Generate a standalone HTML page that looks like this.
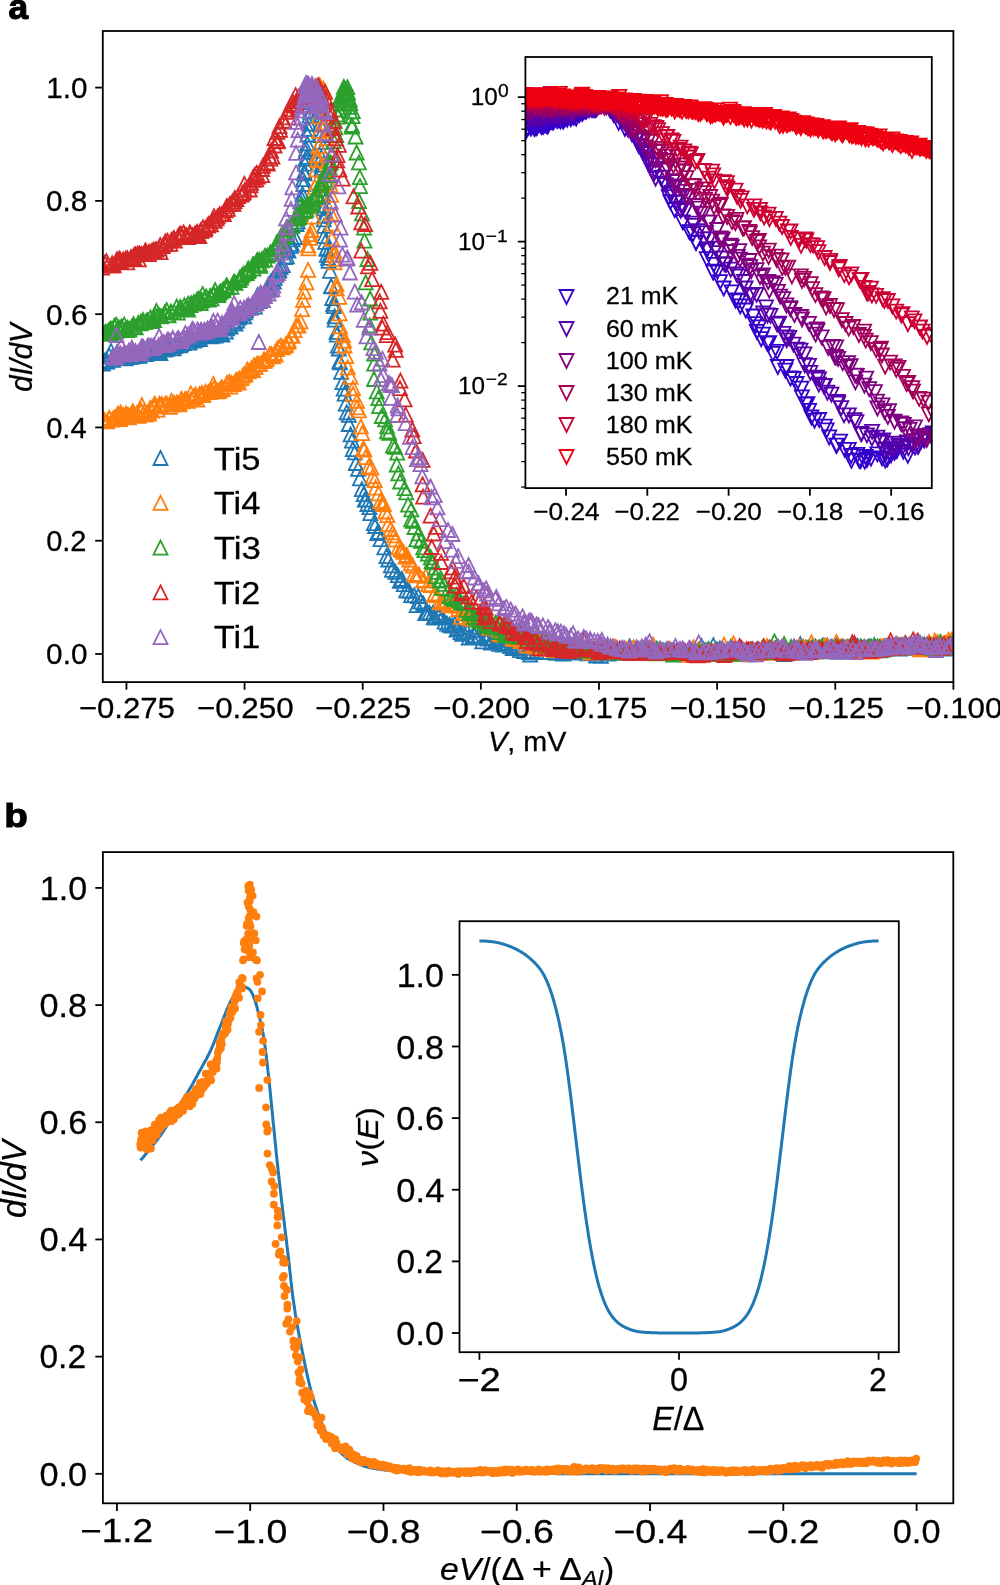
<!DOCTYPE html>
<html><head><meta charset="utf-8"><title>Figure</title><style>html,body{margin:0;padding:0;background:#fff;}svg{display:block;will-change:transform;}text{fill:#000;stroke:#000;stroke-width:0.25px;}</style></head><body>
<svg width="1000" height="1585" viewBox="0 0 1000 1585" font-family='"Liberation Sans", sans-serif'><defs><clipPath id="ca"><rect x="102.8" y="31" width="850.6" height="651.1"/></clipPath><clipPath id="cia"><rect x="525.4" y="57" width="406.4" height="431.1"/></clipPath><clipPath id="cb"><rect x="102.9" y="852.1" width="850.4" height="651.2"/></clipPath></defs><rect x="0" y="0" width="1000" height="1585" fill="#fff"/>
<g clip-path="url(#ca)" fill="none" stroke-width="1.8" stroke-linejoin="miter">
<path stroke="#1f77b4" d="M101.8 355.0l7 14h-14zM102.9 356.5l7 14h-14zM104.5 353.9l7 14h-14zM106.1 353.1l7 14h-14zM107.4 354.5l7 14h-14zM109.2 348.4l7 14h-14zM111.0 343.9l7 14h-14zM112.4 350.1l7 14h-14zM112.9 352.8l7 14h-14zM114.2 350.8l7 14h-14zM115.3 349.8l7 14h-14zM117.5 346.6l7 14h-14zM119.2 348.5l7 14h-14zM120.5 350.7l7 14h-14zM122.1 349.4l7 14h-14zM122.5 349.6l7 14h-14zM124.5 348.6l7 14h-14zM125.6 351.3l7 14h-14zM126.7 349.4l7 14h-14zM128.5 350.2l7 14h-14zM129.7 350.0l7 14h-14zM131.3 347.7l7 14h-14zM132.1 349.7l7 14h-14zM134.0 349.2l7 14h-14zM135.4 349.0l7 14h-14zM137.3 347.5l7 14h-14zM138.7 347.3l7 14h-14zM139.6 348.9l7 14h-14zM141.8 343.6l7 14h-14zM143.0 345.2l7 14h-14zM144.4 347.2l7 14h-14zM145.8 345.3l7 14h-14zM146.7 346.9l7 14h-14zM148.1 346.0l7 14h-14zM149.2 341.0l7 14h-14zM150.5 339.7l7 14h-14zM152.8 343.1l7 14h-14zM154.5 342.3l7 14h-14zM155.2 343.7l7 14h-14zM156.7 342.3l7 14h-14zM158.9 342.3l7 14h-14zM159.2 344.3l7 14h-14zM160.4 346.2l7 14h-14zM162.4 337.8l7 14h-14zM163.2 341.9l7 14h-14zM164.7 342.7l7 14h-14zM166.8 341.8l7 14h-14zM168.1 340.8l7 14h-14zM169.7 338.4l7 14h-14zM171.1 338.8l7 14h-14zM172.4 341.1l7 14h-14zM173.7 341.3l7 14h-14zM175.0 339.2l7 14h-14zM176.5 337.1l7 14h-14zM178.2 338.3l7 14h-14zM179.4 337.3l7 14h-14zM179.8 338.4l7 14h-14zM180.9 337.3l7 14h-14zM182.4 332.0l7 14h-14zM183.8 336.1l7 14h-14zM185.6 333.1l7 14h-14zM188.0 335.6l7 14h-14zM189.5 335.6l7 14h-14zM190.5 331.2l7 14h-14zM191.7 333.5l7 14h-14zM192.8 330.4l7 14h-14zM193.7 333.5l7 14h-14zM195.7 332.7l7 14h-14zM198.0 330.3l7 14h-14zM200.1 332.0l7 14h-14zM201.6 329.2l7 14h-14zM202.6 328.4l7 14h-14zM204.2 328.4l7 14h-14zM205.4 328.8l7 14h-14zM207.1 328.2l7 14h-14zM208.2 328.6l7 14h-14zM209.5 327.0l7 14h-14zM210.0 329.1l7 14h-14zM211.4 329.3l7 14h-14zM212.4 326.5l7 14h-14zM213.6 324.6l7 14h-14zM214.5 328.1l7 14h-14zM215.6 328.5l7 14h-14zM217.4 326.0l7 14h-14zM219.3 323.7l7 14h-14zM221.2 325.9l7 14h-14zM222.4 327.7l7 14h-14zM224.1 321.5l7 14h-14zM225.9 324.5l7 14h-14zM227.1 321.4l7 14h-14zM229.1 319.0l7 14h-14zM230.6 319.6l7 14h-14zM232.7 314.7l7 14h-14zM233.8 316.7l7 14h-14zM235.6 316.7l7 14h-14zM237.2 313.7l7 14h-14zM238.7 310.7l7 14h-14zM240.1 307.5l7 14h-14zM241.6 306.7l7 14h-14zM242.5 305.0l7 14h-14zM244.2 309.3l7 14h-14zM245.2 305.4l7 14h-14zM246.0 303.0l7 14h-14zM248.2 300.8l7 14h-14zM249.2 300.0l7 14h-14zM251.2 299.8l7 14h-14zM253.0 296.4l7 14h-14zM254.9 299.6l7 14h-14zM256.1 293.6l7 14h-14zM256.5 292.9l7 14h-14zM257.7 287.8l7 14h-14zM259.5 294.0l7 14h-14zM259.9 293.0l7 14h-14zM261.3 288.4l7 14h-14zM263.2 287.5l7 14h-14zM264.9 284.7l7 14h-14zM267.4 282.6l7 14h-14zM268.7 280.9l7 14h-14zM269.0 277.5l7 14h-14zM270.8 274.7l7 14h-14zM271.1 275.9l7 14h-14zM272.7 272.2l7 14h-14zM273.9 274.5l7 14h-14zM274.7 270.9l7 14h-14zM276.3 266.2l7 14h-14zM279.2 263.7l7 14h-14zM279.0 262.0l7 14h-14zM280.6 259.9l7 14h-14zM282.8 258.2l7 14h-14zM284.9 250.2l7 14h-14zM286.0 241.6l7 14h-14zM286.9 249.4l7 14h-14zM288.5 243.5l7 14h-14zM291.0 238.9l7 14h-14zM291.8 236.9l7 14h-14zM292.6 232.3l7 14h-14zM295.2 230.0l7 14h-14zM296.5 217.0l7 14h-14zM297.8 214.6l7 14h-14zM298.6 204.5l7 14h-14zM300.3 194.4l7 14h-14zM301.7 191.6l7 14h-14zM302.4 187.0l7 14h-14zM303.4 177.0l7 14h-14zM303.1 172.1l7 14h-14zM304.4 166.3l7 14h-14zM304.3 164.5l7 14h-14zM305.0 156.6l7 14h-14zM305.4 151.9l7 14h-14zM305.5 144.9l7 14h-14zM306.7 149.9l7 14h-14zM306.3 141.7l7 14h-14zM307.3 136.3l7 14h-14zM307.4 127.5l7 14h-14zM308.4 121.8l7 14h-14zM308.9 116.7l7 14h-14zM309.5 108.6l7 14h-14zM310.2 104.6l7 14h-14zM311.5 95.0l7 14h-14zM312.6 90.1l7 14h-14zM314.4 83.3l7 14h-14zM315.0 82.6l7 14h-14zM317.1 89.3l7 14h-14zM319.4 102.3l7 14h-14zM320.2 109.4l7 14h-14zM320.1 117.0l7 14h-14zM320.7 128.0l7 14h-14zM320.9 134.8l7 14h-14zM321.3 150.3l7 14h-14zM321.5 143.6l7 14h-14zM321.4 157.8l7 14h-14zM321.7 160.8l7 14h-14zM322.0 163.1l7 14h-14zM322.9 177.0l7 14h-14zM322.8 181.9l7 14h-14zM323.4 187.3l7 14h-14zM322.7 189.8l7 14h-14zM323.5 198.5l7 14h-14zM323.8 201.3l7 14h-14zM324.0 208.9l7 14h-14zM323.8 212.3l7 14h-14zM324.0 218.9l7 14h-14zM324.2 229.1l7 14h-14zM325.2 234.9l7 14h-14zM326.5 241.9l7 14h-14zM326.5 241.2l7 14h-14zM326.8 247.8l7 14h-14zM328.1 250.9l7 14h-14zM328.6 253.9l7 14h-14zM330.0 263.9l7 14h-14zM331.1 278.9l7 14h-14zM331.3 279.3l7 14h-14zM332.2 291.0l7 14h-14zM333.2 296.8l7 14h-14zM333.8 299.1l7 14h-14zM334.6 309.3l7 14h-14zM334.7 312.7l7 14h-14zM336.5 324.9l7 14h-14zM336.9 327.7l7 14h-14zM337.8 338.7l7 14h-14zM338.9 341.5l7 14h-14zM339.5 354.2l7 14h-14zM340.1 355.4l7 14h-14zM341.1 364.9l7 14h-14zM342.4 375.2l7 14h-14zM343.7 381.7l7 14h-14zM344.6 386.6l7 14h-14zM345.7 396.7l7 14h-14zM346.7 405.3l7 14h-14zM348.8 407.8l7 14h-14zM348.8 417.0l7 14h-14zM350.6 427.4l7 14h-14zM351.9 433.7l7 14h-14zM352.7 442.2l7 14h-14zM354.8 445.4l7 14h-14zM355.8 456.0l7 14h-14zM358.1 461.9l7 14h-14zM359.9 471.3l7 14h-14zM361.8 482.2l7 14h-14zM363.7 487.1l7 14h-14zM364.8 492.7l7 14h-14zM366.0 492.3l7 14h-14zM367.4 497.0l7 14h-14zM369.4 500.2l7 14h-14zM370.3 506.1l7 14h-14zM373.8 516.1l7 14h-14zM375.0 519.0l7 14h-14zM377.3 526.0l7 14h-14zM378.7 525.0l7 14h-14zM380.5 532.2l7 14h-14zM384.3 540.4l7 14h-14zM386.5 549.1l7 14h-14zM388.3 552.5l7 14h-14zM390.9 558.4l7 14h-14zM392.0 562.9l7 14h-14zM395.4 564.8l7 14h-14zM397.8 568.2l7 14h-14zM399.8 573.8l7 14h-14zM401.9 572.0l7 14h-14zM403.7 577.2l7 14h-14zM406.2 583.3l7 14h-14zM409.1 583.9l7 14h-14zM411.1 588.1l7 14h-14zM414.1 588.3l7 14h-14zM416.6 598.1l7 14h-14zM418.3 589.0l7 14h-14zM420.6 594.5l7 14h-14zM423.3 596.5l7 14h-14zM425.2 606.0l7 14h-14zM427.2 605.3l7 14h-14zM429.5 605.9l7 14h-14zM433.1 605.5l7 14h-14zM433.8 610.2l7 14h-14zM435.5 610.6l7 14h-14zM438.5 609.5l7 14h-14zM439.4 608.0l7 14h-14zM441.9 610.3l7 14h-14zM444.6 614.6l7 14h-14zM447.1 616.7l7 14h-14zM449.5 617.8l7 14h-14zM452.0 618.6l7 14h-14zM454.8 616.9l7 14h-14zM456.5 622.5l7 14h-14zM457.5 620.7l7 14h-14zM460.5 625.2l7 14h-14zM462.2 626.9l7 14h-14zM463.4 624.7l7 14h-14zM467.3 624.9l7 14h-14zM468.7 630.6l7 14h-14zM472.2 630.0l7 14h-14zM474.5 628.4l7 14h-14zM476.7 622.8l7 14h-14zM477.4 630.5l7 14h-14zM478.5 629.2l7 14h-14zM482.3 634.4l7 14h-14zM484.5 630.4l7 14h-14zM485.7 630.7l7 14h-14zM487.4 631.6l7 14h-14zM491.1 635.7l7 14h-14zM492.1 631.1l7 14h-14zM495.3 634.5l7 14h-14zM496.4 632.9l7 14h-14zM499.1 636.8l7 14h-14zM501.5 632.6l7 14h-14zM502.9 637.6l7 14h-14zM506.3 635.9l7 14h-14zM507.8 630.6l7 14h-14zM510.3 639.1l7 14h-14zM512.7 641.0l7 14h-14zM514.2 634.1l7 14h-14zM515.4 641.0l7 14h-14zM516.9 640.3l7 14h-14zM519.1 638.6l7 14h-14zM519.8 643.2l7 14h-14zM520.7 640.5l7 14h-14zM524.1 644.0l7 14h-14zM525.9 639.9l7 14h-14zM527.8 639.9l7 14h-14zM529.0 645.1l7 14h-14zM530.2 647.5l7 14h-14zM532.9 644.0l7 14h-14zM536.4 644.4l7 14h-14zM538.6 641.5l7 14h-14zM539.3 639.8l7 14h-14zM542.7 641.7l7 14h-14zM544.2 645.0l7 14h-14zM545.5 638.8l7 14h-14zM547.8 635.6l7 14h-14zM551.2 640.0l7 14h-14zM554.1 644.2l7 14h-14zM556.2 645.9l7 14h-14zM558.2 642.7l7 14h-14zM560.9 644.0l7 14h-14zM563.3 646.6l7 14h-14zM565.5 644.2l7 14h-14zM568.5 642.4l7 14h-14zM569.4 642.2l7 14h-14zM570.6 641.2l7 14h-14zM571.8 645.0l7 14h-14zM573.9 643.0l7 14h-14zM575.4 645.6l7 14h-14zM577.1 645.4l7 14h-14zM578.4 643.7l7 14h-14zM580.4 644.0l7 14h-14zM582.9 645.7l7 14h-14zM583.7 645.0l7 14h-14zM585.8 645.3l7 14h-14zM586.2 643.1l7 14h-14zM587.4 646.3l7 14h-14zM589.6 644.3l7 14h-14zM591.1 642.8l7 14h-14zM593.2 645.0l7 14h-14zM595.2 646.4l7 14h-14zM596.2 648.5l7 14h-14zM597.9 645.7l7 14h-14zM598.3 644.6l7 14h-14zM600.9 648.8l7 14h-14zM602.0 646.3l7 14h-14zM603.7 645.4l7 14h-14zM604.6 644.3l7 14h-14zM606.2 644.1l7 14h-14zM608.6 646.7l7 14h-14zM609.0 644.3l7 14h-14zM612.1 643.6l7 14h-14zM613.9 643.3l7 14h-14zM614.7 645.7l7 14h-14zM616.6 643.1l7 14h-14zM619.1 644.6l7 14h-14zM620.2 644.1l7 14h-14zM621.3 644.1l7 14h-14zM623.2 642.8l7 14h-14zM625.0 644.6l7 14h-14zM626.3 645.7l7 14h-14zM627.6 643.7l7 14h-14zM629.5 639.5l7 14h-14zM631.5 642.7l7 14h-14zM632.6 644.5l7 14h-14zM634.6 644.2l7 14h-14zM635.9 644.6l7 14h-14zM637.6 645.0l7 14h-14zM639.1 643.4l7 14h-14zM640.3 646.2l7 14h-14zM642.1 645.7l7 14h-14zM644.3 645.0l7 14h-14zM646.6 645.2l7 14h-14zM648.3 645.8l7 14h-14zM649.7 641.1l7 14h-14zM651.4 643.4l7 14h-14zM652.1 645.7l7 14h-14zM653.9 643.5l7 14h-14zM655.0 643.0l7 14h-14zM656.4 642.0l7 14h-14zM658.2 643.9l7 14h-14zM660.0 642.7l7 14h-14zM660.5 643.4l7 14h-14zM661.4 644.6l7 14h-14zM663.2 644.1l7 14h-14zM664.9 645.4l7 14h-14zM667.1 644.6l7 14h-14zM667.6 643.8l7 14h-14zM669.8 643.9l7 14h-14zM672.3 643.8l7 14h-14zM672.6 645.3l7 14h-14zM674.6 644.6l7 14h-14zM676.6 644.3l7 14h-14zM677.8 645.8l7 14h-14zM680.0 645.1l7 14h-14zM682.6 644.5l7 14h-14zM684.0 643.4l7 14h-14zM685.7 645.8l7 14h-14zM687.7 645.6l7 14h-14zM689.1 645.4l7 14h-14zM690.7 644.9l7 14h-14zM693.0 644.5l7 14h-14zM695.2 645.3l7 14h-14zM696.5 645.9l7 14h-14zM698.2 645.5l7 14h-14zM700.4 645.3l7 14h-14zM701.5 638.9l7 14h-14zM702.5 645.5l7 14h-14zM704.9 645.0l7 14h-14zM706.9 643.5l7 14h-14zM708.6 645.1l7 14h-14zM710.5 644.9l7 14h-14zM711.0 644.7l7 14h-14zM713.3 638.2l7 14h-14zM714.9 643.5l7 14h-14zM716.9 642.5l7 14h-14zM718.5 644.9l7 14h-14zM719.9 641.5l7 14h-14zM721.3 643.6l7 14h-14zM723.1 643.7l7 14h-14zM725.5 645.3l7 14h-14zM728.0 644.4l7 14h-14zM730.0 643.3l7 14h-14zM731.4 642.8l7 14h-14zM732.2 643.7l7 14h-14zM734.3 644.8l7 14h-14zM736.1 644.9l7 14h-14zM737.5 644.6l7 14h-14zM738.3 644.1l7 14h-14zM741.0 644.8l7 14h-14zM742.9 646.3l7 14h-14zM744.6 643.9l7 14h-14zM746.7 645.3l7 14h-14zM749.4 647.3l7 14h-14zM752.2 646.1l7 14h-14zM752.5 644.9l7 14h-14zM754.9 646.0l7 14h-14zM756.1 643.9l7 14h-14zM757.7 644.4l7 14h-14zM759.5 645.8l7 14h-14zM761.0 645.5l7 14h-14zM763.1 640.6l7 14h-14zM764.5 643.1l7 14h-14zM765.7 644.1l7 14h-14zM767.8 640.5l7 14h-14zM770.5 642.0l7 14h-14zM771.3 643.8l7 14h-14zM772.7 641.7l7 14h-14zM774.3 643.1l7 14h-14zM774.9 642.8l7 14h-14zM776.9 641.0l7 14h-14zM777.8 644.0l7 14h-14zM779.6 643.8l7 14h-14zM782.0 645.7l7 14h-14zM784.0 647.0l7 14h-14zM784.6 645.3l7 14h-14zM786.6 643.9l7 14h-14zM787.7 644.8l7 14h-14zM789.1 644.4l7 14h-14zM790.2 645.3l7 14h-14zM792.1 642.2l7 14h-14zM793.6 642.5l7 14h-14zM794.9 641.4l7 14h-14zM797.1 644.3l7 14h-14zM798.5 643.2l7 14h-14zM800.3 637.1l7 14h-14zM801.6 641.7l7 14h-14zM803.7 641.5l7 14h-14zM805.6 640.8l7 14h-14zM806.5 641.2l7 14h-14zM808.2 640.7l7 14h-14zM810.7 642.6l7 14h-14zM812.7 641.2l7 14h-14zM815.3 639.7l7 14h-14zM815.5 639.9l7 14h-14zM817.8 641.9l7 14h-14zM818.4 640.9l7 14h-14zM819.6 640.7l7 14h-14zM821.0 641.1l7 14h-14zM822.1 642.1l7 14h-14zM823.1 638.6l7 14h-14zM825.5 639.3l7 14h-14zM827.3 638.4l7 14h-14zM829.8 641.3l7 14h-14zM830.2 640.4l7 14h-14zM831.1 640.2l7 14h-14zM832.1 640.2l7 14h-14zM833.1 642.1l7 14h-14zM833.9 641.2l7 14h-14zM835.9 637.8l7 14h-14zM838.2 643.4l7 14h-14zM839.7 640.5l7 14h-14zM841.1 640.1l7 14h-14zM843.3 644.5l7 14h-14zM844.8 640.8l7 14h-14zM846.4 640.4l7 14h-14zM847.7 640.0l7 14h-14zM849.1 640.6l7 14h-14zM851.2 641.6l7 14h-14zM853.1 641.4l7 14h-14zM854.8 641.2l7 14h-14zM856.4 640.2l7 14h-14zM857.5 638.8l7 14h-14zM858.9 641.0l7 14h-14zM861.9 642.5l7 14h-14zM862.5 642.0l7 14h-14zM863.8 640.5l7 14h-14zM865.9 641.7l7 14h-14zM867.5 640.3l7 14h-14zM869.1 640.8l7 14h-14zM870.9 639.4l7 14h-14zM873.2 640.6l7 14h-14zM875.1 641.2l7 14h-14zM875.9 640.9l7 14h-14zM877.6 642.1l7 14h-14zM879.6 643.4l7 14h-14zM880.9 642.7l7 14h-14zM882.3 640.5l7 14h-14zM883.4 639.8l7 14h-14zM884.7 639.8l7 14h-14zM886.2 639.2l7 14h-14zM887.1 640.3l7 14h-14zM889.5 640.4l7 14h-14zM891.7 639.8l7 14h-14zM893.7 639.6l7 14h-14zM895.8 639.5l7 14h-14zM897.9 639.2l7 14h-14zM899.0 638.5l7 14h-14zM899.9 641.5l7 14h-14zM902.5 640.7l7 14h-14zM904.0 638.4l7 14h-14zM904.6 638.4l7 14h-14zM907.1 638.8l7 14h-14zM908.9 639.6l7 14h-14zM910.7 641.0l7 14h-14zM912.6 640.7l7 14h-14zM914.3 640.8l7 14h-14zM917.2 640.8l7 14h-14zM917.8 640.8l7 14h-14zM919.8 640.4l7 14h-14zM921.0 640.0l7 14h-14zM922.1 639.3l7 14h-14zM924.2 637.4l7 14h-14zM924.5 639.3l7 14h-14zM926.3 641.7l7 14h-14zM927.6 638.9l7 14h-14zM929.4 638.8l7 14h-14zM931.0 640.8l7 14h-14zM933.4 639.6l7 14h-14zM934.7 639.0l7 14h-14zM936.7 641.5l7 14h-14zM938.9 640.4l7 14h-14zM939.8 640.6l7 14h-14zM940.6 639.1l7 14h-14zM942.8 640.5l7 14h-14zM945.4 640.4l7 14h-14zM946.0 641.0l7 14h-14zM948.5 641.5l7 14h-14zM949.3 641.5l7 14h-14zM949.9 640.4l7 14h-14zM951.1 641.0l7 14h-14zM952.3 638.7l7 14h-14z"/>
<path stroke="#ff7f0e" d="M102.4 413.3l7 14h-14zM103.7 413.0l7 14h-14zM104.8 413.5l7 14h-14zM107.1 414.4l7 14h-14zM109.1 410.9l7 14h-14zM109.5 411.1l7 14h-14zM112.2 412.7l7 14h-14zM113.9 410.8l7 14h-14zM114.5 411.3l7 14h-14zM116.5 408.7l7 14h-14zM116.7 410.6l7 14h-14zM118.0 406.7l7 14h-14zM120.1 412.2l7 14h-14zM120.6 405.6l7 14h-14zM121.4 408.0l7 14h-14zM123.4 408.2l7 14h-14zM125.4 409.7l7 14h-14zM126.1 406.6l7 14h-14zM128.0 408.0l7 14h-14zM129.0 410.3l7 14h-14zM131.3 406.8l7 14h-14zM132.4 407.4l7 14h-14zM132.9 404.2l7 14h-14zM133.4 408.7l7 14h-14zM134.6 407.8l7 14h-14zM137.1 405.9l7 14h-14zM137.3 407.2l7 14h-14zM138.7 408.8l7 14h-14zM140.6 402.6l7 14h-14zM141.0 404.4l7 14h-14zM141.8 398.0l7 14h-14zM144.2 404.8l7 14h-14zM145.7 407.6l7 14h-14zM147.1 405.9l7 14h-14zM149.1 406.5l7 14h-14zM150.2 401.0l7 14h-14zM151.1 401.9l7 14h-14zM151.8 403.7l7 14h-14zM153.3 398.9l7 14h-14zM154.7 399.3l7 14h-14zM154.8 396.7l7 14h-14zM157.6 402.6l7 14h-14zM158.9 397.7l7 14h-14zM159.5 396.7l7 14h-14zM160.3 398.7l7 14h-14zM161.8 397.1l7 14h-14zM165.1 396.9l7 14h-14zM166.8 397.4l7 14h-14zM166.7 396.7l7 14h-14zM169.8 399.9l7 14h-14zM170.4 397.2l7 14h-14zM171.5 393.7l7 14h-14zM173.0 397.6l7 14h-14zM174.2 396.1l7 14h-14zM176.9 395.6l7 14h-14zM178.0 396.4l7 14h-14zM179.6 397.3l7 14h-14zM181.4 391.8l7 14h-14zM182.4 394.4l7 14h-14zM185.0 392.2l7 14h-14zM184.9 393.1l7 14h-14zM186.3 392.3l7 14h-14zM187.9 393.8l7 14h-14zM190.8 386.4l7 14h-14zM191.0 392.3l7 14h-14zM193.5 390.7l7 14h-14zM193.9 389.7l7 14h-14zM194.8 388.5l7 14h-14zM195.6 387.5l7 14h-14zM197.3 392.7l7 14h-14zM199.5 387.2l7 14h-14zM201.0 388.1l7 14h-14zM201.9 386.1l7 14h-14zM203.4 387.9l7 14h-14zM205.6 385.0l7 14h-14zM205.4 385.0l7 14h-14zM208.4 385.1l7 14h-14zM209.9 385.2l7 14h-14zM211.2 383.2l7 14h-14zM213.3 377.0l7 14h-14zM214.2 381.1l7 14h-14zM216.0 383.5l7 14h-14zM217.0 384.4l7 14h-14zM217.9 384.1l7 14h-14zM219.4 383.5l7 14h-14zM222.4 382.3l7 14h-14zM221.3 380.2l7 14h-14zM222.7 381.5l7 14h-14zM225.3 379.4l7 14h-14zM227.0 376.0l7 14h-14zM228.5 376.5l7 14h-14zM229.2 374.9l7 14h-14zM230.3 379.7l7 14h-14zM231.5 376.0l7 14h-14zM233.7 377.2l7 14h-14zM235.0 374.7l7 14h-14zM236.0 373.4l7 14h-14zM236.5 372.9l7 14h-14zM238.8 375.5l7 14h-14zM239.1 371.7l7 14h-14zM241.6 371.1l7 14h-14zM242.9 368.6l7 14h-14zM244.3 367.5l7 14h-14zM245.5 367.4l7 14h-14zM247.3 362.6l7 14h-14zM248.7 364.4l7 14h-14zM251.3 361.4l7 14h-14zM253.1 363.1l7 14h-14zM254.2 358.0l7 14h-14zM255.7 360.1l7 14h-14zM257.2 356.7l7 14h-14zM258.1 357.0l7 14h-14zM260.1 356.9l7 14h-14zM263.1 354.0l7 14h-14zM264.1 352.2l7 14h-14zM265.0 353.7l7 14h-14zM266.9 351.8l7 14h-14zM269.7 347.0l7 14h-14zM271.5 347.3l7 14h-14zM273.1 349.3l7 14h-14zM274.8 345.8l7 14h-14zM275.8 347.6l7 14h-14zM277.0 342.0l7 14h-14zM279.1 340.2l7 14h-14zM280.9 338.7l7 14h-14zM282.9 340.4l7 14h-14zM285.8 337.3l7 14h-14zM285.4 338.5l7 14h-14zM288.1 334.9l7 14h-14zM288.8 333.3l7 14h-14zM291.1 328.8l7 14h-14zM292.7 328.6l7 14h-14zM294.7 323.2l7 14h-14zM296.2 318.5l7 14h-14zM298.4 318.5l7 14h-14zM300.5 314.4l7 14h-14zM302.0 302.1l7 14h-14zM303.1 292.8l7 14h-14zM304.3 284.6l7 14h-14zM306.4 275.4l7 14h-14zM308.1 262.9l7 14h-14zM308.4 241.4l7 14h-14zM308.0 238.3l7 14h-14zM310.1 230.9l7 14h-14zM310.4 227.2l7 14h-14zM311.7 223.0l7 14h-14zM313.4 209.7l7 14h-14zM314.3 191.6l7 14h-14zM314.9 179.9l7 14h-14zM316.8 175.4l7 14h-14zM316.3 162.4l7 14h-14zM317.2 152.8l7 14h-14zM317.0 148.4l7 14h-14zM318.6 139.1l7 14h-14zM319.1 123.8l7 14h-14zM318.8 109.3l7 14h-14zM320.1 98.4l7 14h-14zM319.8 78.3l7 14h-14zM321.2 85.5l7 14h-14zM323.0 82.4l7 14h-14zM323.6 81.8l7 14h-14zM326.2 109.5l7 14h-14zM325.1 118.1l7 14h-14zM326.6 131.2l7 14h-14zM327.4 123.0l7 14h-14zM327.4 154.1l7 14h-14zM328.6 167.7l7 14h-14zM329.2 174.7l7 14h-14zM330.4 178.0l7 14h-14zM331.1 187.9l7 14h-14zM330.7 195.5l7 14h-14zM331.2 206.6l7 14h-14zM331.9 216.6l7 14h-14zM331.8 231.9l7 14h-14zM331.9 231.4l7 14h-14zM334.3 243.9l7 14h-14zM334.2 247.9l7 14h-14zM334.6 255.3l7 14h-14zM335.4 251.9l7 14h-14zM336.5 277.1l7 14h-14zM336.7 281.4l7 14h-14zM339.3 289.9l7 14h-14zM339.7 306.3l7 14h-14zM340.0 319.3l7 14h-14zM342.8 328.0l7 14h-14zM344.0 333.6l7 14h-14zM344.5 338.5l7 14h-14zM346.2 349.0l7 14h-14zM347.8 360.3l7 14h-14zM350.6 369.9l7 14h-14zM353.0 381.2l7 14h-14zM353.0 387.1l7 14h-14zM357.0 393.9l7 14h-14zM356.9 400.4l7 14h-14zM359.0 403.3l7 14h-14zM360.9 419.4l7 14h-14zM362.3 426.1l7 14h-14zM363.3 441.5l7 14h-14zM364.4 442.7l7 14h-14zM365.6 450.2l7 14h-14zM368.5 459.5l7 14h-14zM371.4 460.6l7 14h-14zM372.8 469.2l7 14h-14zM374.7 473.0l7 14h-14zM375.7 480.6l7 14h-14zM378.6 486.3l7 14h-14zM380.3 494.0l7 14h-14zM382.6 496.0l7 14h-14zM383.9 497.2l7 14h-14zM385.2 504.5l7 14h-14zM387.4 508.1l7 14h-14zM388.2 517.1l7 14h-14zM390.6 522.0l7 14h-14zM392.8 525.3l7 14h-14zM394.3 528.4l7 14h-14zM395.4 532.5l7 14h-14zM398.4 540.4l7 14h-14zM400.8 542.1l7 14h-14zM401.8 543.1l7 14h-14zM403.4 544.9l7 14h-14zM405.5 549.6l7 14h-14zM406.8 547.8l7 14h-14zM409.2 552.7l7 14h-14zM410.8 556.3l7 14h-14zM412.8 558.7l7 14h-14zM413.8 566.9l7 14h-14zM416.3 568.3l7 14h-14zM419.0 567.4l7 14h-14zM422.9 573.6l7 14h-14zM423.6 572.9l7 14h-14zM425.8 568.9l7 14h-14zM428.2 577.1l7 14h-14zM430.6 578.1l7 14h-14zM433.9 587.8l7 14h-14zM434.9 586.3l7 14h-14zM437.3 588.4l7 14h-14zM439.9 594.9l7 14h-14zM442.1 595.5l7 14h-14zM443.3 595.6l7 14h-14zM446.7 593.2l7 14h-14zM448.5 598.3l7 14h-14zM451.6 596.9l7 14h-14zM454.1 598.1l7 14h-14zM456.2 598.7l7 14h-14zM458.3 602.0l7 14h-14zM460.9 609.9l7 14h-14zM463.0 601.3l7 14h-14zM465.3 606.2l7 14h-14zM467.7 606.8l7 14h-14zM469.8 611.3l7 14h-14zM470.1 608.7l7 14h-14zM473.4 611.8l7 14h-14zM476.7 612.2l7 14h-14zM478.8 610.5l7 14h-14zM481.4 614.1l7 14h-14zM484.2 613.8l7 14h-14zM486.4 618.0l7 14h-14zM489.2 620.9l7 14h-14zM490.9 617.6l7 14h-14zM492.6 620.7l7 14h-14zM495.6 619.0l7 14h-14zM497.9 621.6l7 14h-14zM499.0 622.7l7 14h-14zM499.4 626.3l7 14h-14zM500.8 627.6l7 14h-14zM504.9 625.4l7 14h-14zM507.7 624.8l7 14h-14zM508.9 627.1l7 14h-14zM513.0 630.4l7 14h-14zM513.5 632.1l7 14h-14zM515.7 625.7l7 14h-14zM519.2 623.8l7 14h-14zM520.7 634.0l7 14h-14zM522.9 633.8l7 14h-14zM526.8 638.5l7 14h-14zM528.2 634.9l7 14h-14zM531.0 634.3l7 14h-14zM533.2 636.4l7 14h-14zM534.4 639.6l7 14h-14zM535.7 635.7l7 14h-14zM538.5 633.3l7 14h-14zM541.2 641.4l7 14h-14zM544.3 640.4l7 14h-14zM545.3 637.6l7 14h-14zM547.9 641.8l7 14h-14zM551.2 639.1l7 14h-14zM551.3 640.3l7 14h-14zM553.5 640.4l7 14h-14zM554.7 643.1l7 14h-14zM558.3 639.5l7 14h-14zM560.4 641.3l7 14h-14zM561.2 641.2l7 14h-14zM562.4 634.7l7 14h-14zM565.5 639.4l7 14h-14zM567.2 638.8l7 14h-14zM568.9 640.9l7 14h-14zM571.0 642.8l7 14h-14zM572.6 640.6l7 14h-14zM574.8 642.8l7 14h-14zM576.8 640.9l7 14h-14zM578.4 642.5l7 14h-14zM580.2 635.6l7 14h-14zM582.0 642.1l7 14h-14zM584.5 642.4l7 14h-14zM585.7 642.7l7 14h-14zM588.7 643.0l7 14h-14zM588.4 642.4l7 14h-14zM590.1 645.6l7 14h-14zM591.7 644.3l7 14h-14zM593.4 645.0l7 14h-14zM595.1 643.0l7 14h-14zM596.5 645.1l7 14h-14zM599.1 644.1l7 14h-14zM599.9 643.5l7 14h-14zM602.3 645.4l7 14h-14zM604.5 644.1l7 14h-14zM606.7 641.4l7 14h-14zM608.3 642.1l7 14h-14zM611.1 641.1l7 14h-14zM612.6 640.2l7 14h-14zM613.9 639.5l7 14h-14zM615.4 640.2l7 14h-14zM616.9 641.5l7 14h-14zM618.7 643.5l7 14h-14zM620.7 645.1l7 14h-14zM622.8 644.0l7 14h-14zM623.2 642.5l7 14h-14zM626.2 642.2l7 14h-14zM627.5 642.7l7 14h-14zM629.1 643.7l7 14h-14zM631.2 641.8l7 14h-14zM633.5 640.3l7 14h-14zM635.2 644.8l7 14h-14zM637.1 643.8l7 14h-14zM639.8 642.5l7 14h-14zM641.5 645.6l7 14h-14zM643.7 642.9l7 14h-14zM645.0 643.0l7 14h-14zM646.1 645.1l7 14h-14zM647.4 641.5l7 14h-14zM650.3 645.8l7 14h-14zM652.3 644.6l7 14h-14zM653.1 637.4l7 14h-14zM654.7 643.8l7 14h-14zM657.7 643.1l7 14h-14zM659.8 645.5l7 14h-14zM662.3 643.9l7 14h-14zM663.4 644.7l7 14h-14zM666.4 644.7l7 14h-14zM666.4 644.3l7 14h-14zM668.9 642.0l7 14h-14zM671.1 643.0l7 14h-14zM673.3 643.9l7 14h-14zM674.4 644.5l7 14h-14zM677.3 644.7l7 14h-14zM679.3 645.5l7 14h-14zM679.7 643.2l7 14h-14zM680.7 645.0l7 14h-14zM682.7 643.3l7 14h-14zM685.9 647.4l7 14h-14zM687.0 645.2l7 14h-14zM689.1 647.8l7 14h-14zM691.2 646.0l7 14h-14zM693.4 640.3l7 14h-14zM693.2 646.8l7 14h-14zM696.1 647.2l7 14h-14zM696.6 645.4l7 14h-14zM698.4 642.8l7 14h-14zM701.3 645.1l7 14h-14zM702.2 646.4l7 14h-14zM704.0 645.0l7 14h-14zM706.6 644.5l7 14h-14zM707.7 643.3l7 14h-14zM709.6 645.0l7 14h-14zM712.4 644.5l7 14h-14zM714.2 644.4l7 14h-14zM717.6 644.9l7 14h-14zM717.5 643.8l7 14h-14zM718.7 644.7l7 14h-14zM721.4 646.2l7 14h-14zM721.8 643.1l7 14h-14zM723.9 637.7l7 14h-14zM726.2 645.5l7 14h-14zM727.5 646.4l7 14h-14zM728.9 646.7l7 14h-14zM730.7 639.8l7 14h-14zM733.4 644.5l7 14h-14zM733.4 636.4l7 14h-14zM735.9 645.2l7 14h-14zM737.0 646.6l7 14h-14zM738.5 644.5l7 14h-14zM740.1 646.7l7 14h-14zM741.3 647.1l7 14h-14zM744.4 644.5l7 14h-14zM746.1 644.2l7 14h-14zM747.4 645.1l7 14h-14zM750.0 646.1l7 14h-14zM750.6 643.2l7 14h-14zM752.6 644.9l7 14h-14zM753.9 644.4l7 14h-14zM756.3 643.9l7 14h-14zM757.4 645.7l7 14h-14zM759.6 643.4l7 14h-14zM761.1 645.8l7 14h-14zM764.1 643.8l7 14h-14zM765.2 645.9l7 14h-14zM767.0 639.1l7 14h-14zM769.4 644.1l7 14h-14zM769.9 644.3l7 14h-14zM772.4 642.5l7 14h-14zM775.3 644.8l7 14h-14zM777.2 645.4l7 14h-14zM778.6 644.2l7 14h-14zM778.7 643.7l7 14h-14zM781.9 643.5l7 14h-14zM783.5 641.3l7 14h-14zM785.9 643.8l7 14h-14zM787.9 644.3l7 14h-14zM790.3 643.7l7 14h-14zM791.7 642.5l7 14h-14zM794.0 642.3l7 14h-14zM796.1 642.5l7 14h-14zM797.2 644.1l7 14h-14zM799.4 639.8l7 14h-14zM801.0 641.0l7 14h-14zM803.3 639.7l7 14h-14zM804.1 642.9l7 14h-14zM806.0 641.6l7 14h-14zM807.5 643.3l7 14h-14zM809.5 642.0l7 14h-14zM811.5 635.3l7 14h-14zM813.7 643.4l7 14h-14zM816.7 642.5l7 14h-14zM816.6 640.7l7 14h-14zM818.5 643.1l7 14h-14zM820.7 641.4l7 14h-14zM821.8 641.2l7 14h-14zM823.9 640.3l7 14h-14zM824.2 638.8l7 14h-14zM825.7 639.5l7 14h-14zM827.7 639.6l7 14h-14zM828.8 640.9l7 14h-14zM829.0 642.2l7 14h-14zM832.7 640.7l7 14h-14zM834.8 640.8l7 14h-14zM836.4 635.0l7 14h-14zM837.5 640.0l7 14h-14zM839.0 641.0l7 14h-14zM841.0 640.0l7 14h-14zM842.5 639.5l7 14h-14zM844.4 641.7l7 14h-14zM845.5 642.3l7 14h-14zM847.5 640.4l7 14h-14zM849.5 643.0l7 14h-14zM851.9 642.1l7 14h-14zM854.7 643.2l7 14h-14zM856.7 641.7l7 14h-14zM858.9 643.7l7 14h-14zM860.7 643.0l7 14h-14zM863.0 641.2l7 14h-14zM865.6 643.9l7 14h-14zM868.8 640.2l7 14h-14zM870.4 641.3l7 14h-14zM871.8 644.5l7 14h-14zM874.6 643.4l7 14h-14zM875.7 640.9l7 14h-14zM878.7 641.4l7 14h-14zM880.4 639.2l7 14h-14zM881.3 642.3l7 14h-14zM882.8 639.2l7 14h-14zM884.8 640.7l7 14h-14zM887.1 640.8l7 14h-14zM889.1 639.8l7 14h-14zM890.4 639.2l7 14h-14zM892.1 639.5l7 14h-14zM894.6 639.9l7 14h-14zM896.0 640.0l7 14h-14zM897.5 637.5l7 14h-14zM900.0 639.3l7 14h-14zM903.0 638.5l7 14h-14zM906.0 638.9l7 14h-14zM906.9 639.5l7 14h-14zM909.2 638.2l7 14h-14zM910.8 639.0l7 14h-14zM912.3 638.6l7 14h-14zM914.4 640.4l7 14h-14zM914.6 640.7l7 14h-14zM917.7 640.2l7 14h-14zM920.1 642.4l7 14h-14zM922.0 641.0l7 14h-14zM923.7 640.6l7 14h-14zM924.4 642.1l7 14h-14zM927.3 640.7l7 14h-14zM928.5 637.8l7 14h-14zM928.9 634.9l7 14h-14zM931.9 640.7l7 14h-14zM933.6 640.2l7 14h-14zM934.8 633.8l7 14h-14zM936.5 636.4l7 14h-14zM937.5 635.1l7 14h-14zM939.8 636.7l7 14h-14zM941.3 636.2l7 14h-14zM944.1 636.2l7 14h-14zM945.5 636.2l7 14h-14zM947.4 636.6l7 14h-14zM948.5 632.9l7 14h-14zM952.0 632.6l7 14h-14z"/>
<path stroke="#2ca02c" d="M101.3 324.1l7 14h-14zM104.2 326.4l7 14h-14zM104.8 326.8l7 14h-14zM105.8 324.9l7 14h-14zM105.4 324.9l7 14h-14zM109.5 322.9l7 14h-14zM108.3 323.8l7 14h-14zM110.5 323.3l7 14h-14zM110.7 321.7l7 14h-14zM110.5 326.0l7 14h-14zM111.0 322.0l7 14h-14zM113.6 325.3l7 14h-14zM114.3 318.9l7 14h-14zM116.8 323.9l7 14h-14zM116.2 317.7l7 14h-14zM117.8 320.9l7 14h-14zM118.9 320.6l7 14h-14zM121.2 320.6l7 14h-14zM121.4 319.4l7 14h-14zM125.6 321.7l7 14h-14zM124.2 317.6l7 14h-14zM126.4 323.0l7 14h-14zM127.7 320.8l7 14h-14zM128.6 322.6l7 14h-14zM129.4 322.4l7 14h-14zM131.5 320.1l7 14h-14zM134.3 319.3l7 14h-14zM133.5 317.2l7 14h-14zM135.7 320.4l7 14h-14zM138.3 316.1l7 14h-14zM140.8 315.1l7 14h-14zM140.8 316.3l7 14h-14zM145.6 314.9l7 14h-14zM142.9 313.1l7 14h-14zM143.2 315.2l7 14h-14zM147.0 313.4l7 14h-14zM147.6 313.4l7 14h-14zM151.7 314.2l7 14h-14zM150.5 310.5l7 14h-14zM152.7 311.5l7 14h-14zM154.2 313.0l7 14h-14zM156.4 304.0l7 14h-14zM155.8 308.9l7 14h-14zM158.1 308.9l7 14h-14zM159.4 308.4l7 14h-14zM161.2 309.4l7 14h-14zM164.7 305.5l7 14h-14zM166.2 308.1l7 14h-14zM166.7 303.1l7 14h-14zM168.6 308.3l7 14h-14zM170.8 304.7l7 14h-14zM171.3 305.2l7 14h-14zM174.2 305.2l7 14h-14zM176.7 299.6l7 14h-14zM177.9 305.6l7 14h-14zM179.8 302.4l7 14h-14zM180.1 300.0l7 14h-14zM181.6 302.0l7 14h-14zM184.3 298.3l7 14h-14zM185.6 301.1l7 14h-14zM186.3 299.8l7 14h-14zM188.2 302.5l7 14h-14zM190.6 298.1l7 14h-14zM188.3 296.7l7 14h-14zM191.1 296.2l7 14h-14zM193.9 295.1l7 14h-14zM193.8 296.6l7 14h-14zM196.1 294.4l7 14h-14zM197.3 294.0l7 14h-14zM196.9 293.1l7 14h-14zM200.6 296.2l7 14h-14zM198.4 291.7l7 14h-14zM201.1 293.3l7 14h-14zM201.8 293.7l7 14h-14zM202.6 286.9l7 14h-14zM204.1 292.1l7 14h-14zM206.3 289.6l7 14h-14zM208.8 292.7l7 14h-14zM210.3 289.0l7 14h-14zM211.5 291.4l7 14h-14zM213.4 287.9l7 14h-14zM213.9 287.0l7 14h-14zM217.1 287.6l7 14h-14zM215.1 283.1l7 14h-14zM218.2 288.2l7 14h-14zM220.5 284.4l7 14h-14zM219.1 286.0l7 14h-14zM223.5 283.4l7 14h-14zM223.2 282.3l7 14h-14zM227.7 280.1l7 14h-14zM226.5 278.3l7 14h-14zM226.0 280.6l7 14h-14zM227.7 279.8l7 14h-14zM231.4 279.8l7 14h-14zM233.2 275.9l7 14h-14zM234.3 274.8l7 14h-14zM235.5 275.9l7 14h-14zM239.2 273.1l7 14h-14zM239.3 272.4l7 14h-14zM239.8 270.7l7 14h-14zM241.1 270.5l7 14h-14zM241.9 268.4l7 14h-14zM243.8 266.6l7 14h-14zM246.8 266.0l7 14h-14zM247.7 264.0l7 14h-14zM248.7 263.4l7 14h-14zM248.3 261.3l7 14h-14zM253.5 261.5l7 14h-14zM254.0 258.0l7 14h-14zM253.0 257.2l7 14h-14zM257.8 258.3l7 14h-14zM259.8 257.2l7 14h-14zM257.2 253.0l7 14h-14zM260.2 258.8l7 14h-14zM259.2 253.1l7 14h-14zM261.8 252.3l7 14h-14zM261.4 253.3l7 14h-14zM265.2 252.5l7 14h-14zM265.0 248.7l7 14h-14zM267.4 248.7l7 14h-14zM269.5 247.2l7 14h-14zM270.4 245.5l7 14h-14zM271.9 245.4l7 14h-14zM276.0 242.1l7 14h-14zM276.6 240.7l7 14h-14zM276.0 240.7l7 14h-14zM278.4 235.6l7 14h-14zM276.9 235.3l7 14h-14zM279.4 235.0l7 14h-14zM281.4 232.5l7 14h-14zM281.8 227.2l7 14h-14zM285.9 228.2l7 14h-14zM283.8 229.9l7 14h-14zM286.6 225.6l7 14h-14zM287.7 220.7l7 14h-14zM288.2 222.3l7 14h-14zM288.1 220.5l7 14h-14zM292.5 218.9l7 14h-14zM292.1 216.4l7 14h-14zM294.7 211.7l7 14h-14zM298.0 210.9l7 14h-14zM299.4 209.5l7 14h-14zM297.3 208.2l7 14h-14zM300.6 198.6l7 14h-14zM300.0 206.7l7 14h-14zM301.7 203.9l7 14h-14zM303.0 199.7l7 14h-14zM304.9 204.1l7 14h-14zM306.4 202.7l7 14h-14zM306.6 199.3l7 14h-14zM307.1 196.8l7 14h-14zM309.2 196.8l7 14h-14zM310.2 197.1l7 14h-14zM313.0 197.6l7 14h-14zM312.8 192.3l7 14h-14zM314.2 189.8l7 14h-14zM316.6 188.6l7 14h-14zM317.2 187.5l7 14h-14zM321.2 181.6l7 14h-14zM321.2 178.1l7 14h-14zM320.4 175.9l7 14h-14zM322.8 175.1l7 14h-14zM325.3 172.6l7 14h-14zM325.8 164.2l7 14h-14zM328.9 168.2l7 14h-14zM329.5 160.6l7 14h-14zM329.4 156.8l7 14h-14zM330.7 155.3l7 14h-14zM332.1 147.2l7 14h-14zM333.8 134.2l7 14h-14zM336.3 128.0l7 14h-14zM335.0 127.6l7 14h-14zM335.3 120.3l7 14h-14zM334.6 113.7l7 14h-14zM338.1 109.6l7 14h-14zM337.9 107.3l7 14h-14zM338.8 102.5l7 14h-14zM338.4 95.3l7 14h-14zM340.3 90.1l7 14h-14zM340.1 93.0l7 14h-14zM342.0 92.3l7 14h-14zM341.4 89.1l7 14h-14zM343.1 88.1l7 14h-14zM343.8 84.0l7 14h-14zM342.9 84.3l7 14h-14zM344.9 84.3l7 14h-14zM344.8 83.5l7 14h-14zM343.8 79.9l7 14h-14zM344.4 87.2l7 14h-14zM346.7 85.2l7 14h-14zM347.3 84.3l7 14h-14zM348.1 85.6l7 14h-14zM348.0 90.4l7 14h-14zM347.4 80.2l7 14h-14zM347.7 88.2l7 14h-14zM349.8 92.7l7 14h-14zM348.9 96.3l7 14h-14zM350.3 96.2l7 14h-14zM350.2 99.9l7 14h-14zM350.3 104.6l7 14h-14zM352.8 104.1l7 14h-14zM352.6 109.1l7 14h-14zM352.0 119.5l7 14h-14zM351.8 118.0l7 14h-14zM355.5 129.5l7 14h-14zM356.6 145.5l7 14h-14zM358.9 155.4l7 14h-14zM359.8 170.2l7 14h-14zM360.0 179.2l7 14h-14zM359.0 194.0l7 14h-14zM362.0 206.4l7 14h-14zM364.0 220.6l7 14h-14zM364.5 233.7l7 14h-14zM367.4 252.0l7 14h-14zM365.7 275.3l7 14h-14zM370.2 291.5l7 14h-14zM370.2 305.7l7 14h-14zM369.7 318.5l7 14h-14zM371.2 335.4l7 14h-14zM374.2 346.7l7 14h-14zM374.1 356.7l7 14h-14zM374.0 372.0l7 14h-14zM376.8 384.4l7 14h-14zM378.4 391.1l7 14h-14zM379.1 399.1l7 14h-14zM381.8 409.0l7 14h-14zM385.1 412.4l7 14h-14zM387.1 419.4l7 14h-14zM387.0 424.3l7 14h-14zM389.2 425.9l7 14h-14zM393.0 438.5l7 14h-14zM395.0 439.9l7 14h-14zM397.2 445.7l7 14h-14zM396.7 457.5l7 14h-14zM398.3 466.4l7 14h-14zM400.1 474.5l7 14h-14zM404.6 481.2l7 14h-14zM406.2 485.4l7 14h-14zM408.1 497.7l7 14h-14zM411.3 502.4l7 14h-14zM411.1 512.3l7 14h-14zM412.8 513.8l7 14h-14zM414.5 520.0l7 14h-14zM418.7 526.4l7 14h-14zM416.3 532.4l7 14h-14zM421.1 533.8l7 14h-14zM424.4 543.2l7 14h-14zM423.3 540.3l7 14h-14zM427.9 546.6l7 14h-14zM430.9 550.4l7 14h-14zM431.7 554.0l7 14h-14zM433.1 555.1l7 14h-14zM435.2 560.5l7 14h-14zM435.9 569.2l7 14h-14zM437.4 564.8l7 14h-14zM439.2 573.5l7 14h-14zM441.7 572.9l7 14h-14zM441.8 580.9l7 14h-14zM444.5 576.8l7 14h-14zM448.9 581.9l7 14h-14zM449.6 589.1l7 14h-14zM451.6 590.7l7 14h-14zM454.4 592.2l7 14h-14zM454.7 592.2l7 14h-14zM456.3 587.7l7 14h-14zM459.8 593.3l7 14h-14zM461.1 595.2l7 14h-14zM464.0 596.1l7 14h-14zM466.3 602.9l7 14h-14zM469.3 606.3l7 14h-14zM470.1 604.8l7 14h-14zM472.4 603.2l7 14h-14zM473.7 610.0l7 14h-14zM476.8 612.6l7 14h-14zM479.5 614.3l7 14h-14zM480.0 611.7l7 14h-14zM483.7 607.3l7 14h-14zM486.5 618.5l7 14h-14zM485.5 615.7l7 14h-14zM486.8 616.7l7 14h-14zM488.8 618.5l7 14h-14zM491.3 618.9l7 14h-14zM492.2 619.9l7 14h-14zM495.4 615.7l7 14h-14zM497.3 620.6l7 14h-14zM498.6 615.5l7 14h-14zM499.9 625.0l7 14h-14zM501.9 621.6l7 14h-14zM504.4 619.6l7 14h-14zM504.7 626.2l7 14h-14zM505.9 628.2l7 14h-14zM509.0 626.9l7 14h-14zM510.1 628.9l7 14h-14zM511.9 620.8l7 14h-14zM514.0 628.6l7 14h-14zM516.4 628.2l7 14h-14zM518.8 629.9l7 14h-14zM522.7 628.2l7 14h-14zM523.5 627.5l7 14h-14zM524.8 624.3l7 14h-14zM526.7 626.3l7 14h-14zM526.8 633.9l7 14h-14zM529.3 631.7l7 14h-14zM532.8 630.8l7 14h-14zM534.0 632.3l7 14h-14zM536.8 635.1l7 14h-14zM536.4 632.9l7 14h-14zM537.5 628.0l7 14h-14zM540.5 637.4l7 14h-14zM543.4 632.2l7 14h-14zM545.7 633.2l7 14h-14zM548.1 636.3l7 14h-14zM550.6 636.0l7 14h-14zM550.9 638.5l7 14h-14zM552.9 636.7l7 14h-14zM555.0 637.6l7 14h-14zM556.4 637.2l7 14h-14zM560.4 636.7l7 14h-14zM561.3 635.9l7 14h-14zM563.3 639.3l7 14h-14zM566.0 639.2l7 14h-14zM566.9 637.4l7 14h-14zM568.7 638.7l7 14h-14zM571.3 639.8l7 14h-14zM574.6 638.0l7 14h-14zM575.0 633.9l7 14h-14zM578.5 639.8l7 14h-14zM578.5 643.5l7 14h-14zM579.7 642.5l7 14h-14zM582.2 641.6l7 14h-14zM584.8 642.2l7 14h-14zM584.9 642.3l7 14h-14zM587.1 642.4l7 14h-14zM589.4 643.1l7 14h-14zM590.0 642.3l7 14h-14zM592.9 642.0l7 14h-14zM594.1 641.4l7 14h-14zM594.7 643.9l7 14h-14zM598.0 643.7l7 14h-14zM599.8 642.7l7 14h-14zM604.0 640.4l7 14h-14zM603.4 641.5l7 14h-14zM606.9 641.0l7 14h-14zM609.2 643.8l7 14h-14zM607.7 644.5l7 14h-14zM612.0 644.1l7 14h-14zM613.5 643.9l7 14h-14zM615.7 644.2l7 14h-14zM616.8 642.2l7 14h-14zM620.6 645.6l7 14h-14zM622.1 644.4l7 14h-14zM621.9 643.0l7 14h-14zM625.0 645.3l7 14h-14zM627.5 645.2l7 14h-14zM629.5 643.4l7 14h-14zM631.6 645.4l7 14h-14zM629.6 643.6l7 14h-14zM634.9 644.1l7 14h-14zM636.0 644.9l7 14h-14zM637.2 642.1l7 14h-14zM639.3 643.1l7 14h-14zM639.6 644.0l7 14h-14zM641.8 644.5l7 14h-14zM643.1 641.8l7 14h-14zM645.3 642.5l7 14h-14zM649.4 642.2l7 14h-14zM650.5 644.0l7 14h-14zM652.7 643.8l7 14h-14zM655.5 646.4l7 14h-14zM657.4 642.3l7 14h-14zM660.6 642.4l7 14h-14zM662.9 644.7l7 14h-14zM663.1 643.8l7 14h-14zM665.3 643.5l7 14h-14zM666.7 643.8l7 14h-14zM666.5 645.4l7 14h-14zM668.2 644.5l7 14h-14zM669.8 643.4l7 14h-14zM672.6 644.1l7 14h-14zM673.1 647.5l7 14h-14zM673.2 646.4l7 14h-14zM678.0 645.9l7 14h-14zM678.1 645.8l7 14h-14zM681.8 644.4l7 14h-14zM683.2 645.6l7 14h-14zM684.8 644.4l7 14h-14zM682.9 643.7l7 14h-14zM688.1 645.5l7 14h-14zM686.4 645.7l7 14h-14zM687.9 644.1l7 14h-14zM690.7 645.2l7 14h-14zM691.8 644.3l7 14h-14zM692.8 645.5l7 14h-14zM695.1 646.3l7 14h-14zM697.1 644.3l7 14h-14zM697.4 644.6l7 14h-14zM700.1 644.9l7 14h-14zM702.0 645.3l7 14h-14zM703.5 645.3l7 14h-14zM704.3 643.6l7 14h-14zM707.0 644.9l7 14h-14zM708.5 645.2l7 14h-14zM708.6 642.1l7 14h-14zM711.3 647.2l7 14h-14zM714.4 646.6l7 14h-14zM716.7 643.3l7 14h-14zM717.6 643.5l7 14h-14zM719.9 645.2l7 14h-14zM722.6 646.8l7 14h-14zM723.8 643.3l7 14h-14zM726.9 646.0l7 14h-14zM731.0 640.4l7 14h-14zM730.3 646.9l7 14h-14zM734.6 646.5l7 14h-14zM735.0 644.5l7 14h-14zM737.0 644.8l7 14h-14zM740.9 644.3l7 14h-14zM742.9 643.5l7 14h-14zM742.6 644.5l7 14h-14zM747.9 643.1l7 14h-14zM748.0 644.6l7 14h-14zM750.0 642.9l7 14h-14zM752.7 643.7l7 14h-14zM757.2 642.0l7 14h-14zM758.4 643.9l7 14h-14zM762.0 641.7l7 14h-14zM763.7 641.2l7 14h-14zM763.6 641.5l7 14h-14zM768.4 644.9l7 14h-14zM768.4 645.1l7 14h-14zM770.8 643.1l7 14h-14zM770.0 641.1l7 14h-14zM774.4 634.4l7 14h-14zM775.5 641.5l7 14h-14zM776.8 640.7l7 14h-14zM780.9 641.5l7 14h-14zM784.1 637.0l7 14h-14zM783.8 643.4l7 14h-14zM785.2 642.0l7 14h-14zM787.2 643.1l7 14h-14zM791.1 639.9l7 14h-14zM791.4 641.0l7 14h-14zM795.1 642.1l7 14h-14zM796.2 642.0l7 14h-14zM798.9 641.7l7 14h-14zM802.3 642.8l7 14h-14zM802.1 641.1l7 14h-14zM802.8 642.2l7 14h-14zM807.7 643.1l7 14h-14zM808.1 641.5l7 14h-14zM809.0 641.9l7 14h-14zM813.0 641.1l7 14h-14zM811.8 640.4l7 14h-14zM815.4 644.6l7 14h-14zM817.4 643.7l7 14h-14zM818.7 641.1l7 14h-14zM821.7 639.6l7 14h-14zM826.5 643.4l7 14h-14zM828.2 644.4l7 14h-14zM827.7 643.9l7 14h-14zM830.7 642.4l7 14h-14zM832.8 641.2l7 14h-14zM834.8 641.0l7 14h-14zM836.1 643.0l7 14h-14zM836.8 641.9l7 14h-14zM840.0 643.9l7 14h-14zM841.1 640.7l7 14h-14zM844.0 642.3l7 14h-14zM845.6 643.6l7 14h-14zM849.9 640.5l7 14h-14zM851.3 642.0l7 14h-14zM851.3 640.9l7 14h-14zM851.8 638.5l7 14h-14zM855.3 642.2l7 14h-14zM855.9 641.2l7 14h-14zM857.4 641.5l7 14h-14zM861.6 641.8l7 14h-14zM860.9 639.2l7 14h-14zM864.3 641.0l7 14h-14zM864.5 640.5l7 14h-14zM869.3 639.6l7 14h-14zM870.1 640.8l7 14h-14zM871.7 641.6l7 14h-14zM874.2 638.0l7 14h-14zM874.2 639.1l7 14h-14zM877.5 639.6l7 14h-14zM879.3 640.1l7 14h-14zM880.7 641.3l7 14h-14zM884.4 641.2l7 14h-14zM882.4 642.7l7 14h-14zM886.9 641.6l7 14h-14zM889.1 639.4l7 14h-14zM888.0 640.5l7 14h-14zM890.4 639.7l7 14h-14zM894.2 639.6l7 14h-14zM895.8 639.9l7 14h-14zM898.8 638.8l7 14h-14zM898.4 641.2l7 14h-14zM901.5 638.4l7 14h-14zM903.4 639.9l7 14h-14zM905.5 637.4l7 14h-14zM902.6 638.6l7 14h-14zM909.2 637.7l7 14h-14zM910.7 638.8l7 14h-14zM913.5 638.8l7 14h-14zM916.3 638.8l7 14h-14zM916.1 637.0l7 14h-14zM920.1 636.1l7 14h-14zM920.9 637.8l7 14h-14zM924.0 638.8l7 14h-14zM924.6 639.6l7 14h-14zM926.5 639.8l7 14h-14zM929.1 639.0l7 14h-14zM930.9 638.0l7 14h-14zM931.7 640.9l7 14h-14zM935.0 639.0l7 14h-14zM935.9 640.8l7 14h-14zM940.3 634.9l7 14h-14zM942.1 640.5l7 14h-14zM944.2 639.4l7 14h-14zM947.6 638.7l7 14h-14zM949.6 641.1l7 14h-14zM952.0 636.6l7 14h-14zM950.8 637.7l7 14h-14z"/>
<path stroke="#d62728" d="M101.8 257.1l7 14h-14zM102.0 260.6l7 14h-14zM104.7 255.8l7 14h-14zM106.4 254.2l7 14h-14zM108.1 257.4l7 14h-14zM111.1 258.7l7 14h-14zM112.2 256.3l7 14h-14zM113.7 258.4l7 14h-14zM111.5 258.2l7 14h-14zM116.6 253.0l7 14h-14zM118.0 252.3l7 14h-14zM119.8 251.6l7 14h-14zM120.1 254.7l7 14h-14zM120.5 253.5l7 14h-14zM123.3 252.5l7 14h-14zM125.9 251.6l7 14h-14zM127.3 255.3l7 14h-14zM127.3 251.2l7 14h-14zM130.1 252.1l7 14h-14zM132.2 251.1l7 14h-14zM131.0 250.2l7 14h-14zM134.3 247.8l7 14h-14zM134.2 250.9l7 14h-14zM135.3 247.5l7 14h-14zM137.7 246.6l7 14h-14zM138.8 252.3l7 14h-14zM139.5 246.6l7 14h-14zM141.6 246.9l7 14h-14zM144.5 247.2l7 14h-14zM144.8 244.4l7 14h-14zM146.0 246.6l7 14h-14zM148.9 247.1l7 14h-14zM145.5 243.4l7 14h-14zM149.0 244.7l7 14h-14zM151.4 244.3l7 14h-14zM152.2 244.0l7 14h-14zM154.3 244.7l7 14h-14zM153.8 242.6l7 14h-14zM156.1 242.8l7 14h-14zM156.1 242.2l7 14h-14zM159.3 241.3l7 14h-14zM160.6 245.1l7 14h-14zM160.2 238.0l7 14h-14zM165.4 234.3l7 14h-14zM162.8 239.0l7 14h-14zM164.4 236.6l7 14h-14zM166.1 237.0l7 14h-14zM167.5 233.8l7 14h-14zM170.4 236.8l7 14h-14zM171.2 233.5l7 14h-14zM172.0 232.8l7 14h-14zM174.9 233.6l7 14h-14zM173.9 231.0l7 14h-14zM177.9 229.5l7 14h-14zM179.6 226.9l7 14h-14zM181.0 226.9l7 14h-14zM183.6 225.5l7 14h-14zM185.0 228.9l7 14h-14zM186.2 228.3l7 14h-14zM188.1 230.0l7 14h-14zM189.9 225.3l7 14h-14zM190.2 227.2l7 14h-14zM192.9 228.3l7 14h-14zM195.0 226.5l7 14h-14zM196.9 227.6l7 14h-14zM197.2 224.8l7 14h-14zM199.3 229.0l7 14h-14zM200.5 223.6l7 14h-14zM201.4 224.1l7 14h-14zM204.7 222.5l7 14h-14zM203.0 220.3l7 14h-14zM205.4 221.2l7 14h-14zM207.4 218.5l7 14h-14zM208.1 218.5l7 14h-14zM208.6 217.1l7 14h-14zM211.0 217.4l7 14h-14zM214.9 213.9l7 14h-14zM213.7 213.5l7 14h-14zM214.0 209.2l7 14h-14zM216.6 211.4l7 14h-14zM217.5 209.4l7 14h-14zM219.6 207.3l7 14h-14zM221.9 207.0l7 14h-14zM223.8 207.0l7 14h-14zM225.6 203.4l7 14h-14zM227.9 201.9l7 14h-14zM227.1 199.3l7 14h-14zM226.5 199.4l7 14h-14zM229.9 197.1l7 14h-14zM233.6 196.8l7 14h-14zM232.2 194.9l7 14h-14zM234.5 194.2l7 14h-14zM234.7 191.0l7 14h-14zM236.4 192.2l7 14h-14zM238.0 189.1l7 14h-14zM238.1 189.2l7 14h-14zM241.6 187.5l7 14h-14zM242.4 186.1l7 14h-14zM243.8 185.4l7 14h-14zM244.8 182.9l7 14h-14zM249.7 182.5l7 14h-14zM244.4 176.8l7 14h-14zM250.4 178.3l7 14h-14zM251.1 175.8l7 14h-14zM253.5 172.9l7 14h-14zM252.9 170.4l7 14h-14zM257.9 169.6l7 14h-14zM256.2 172.4l7 14h-14zM254.8 168.1l7 14h-14zM256.7 165.9l7 14h-14zM262.2 168.2l7 14h-14zM262.9 158.8l7 14h-14zM262.1 162.0l7 14h-14zM267.6 156.5l7 14h-14zM267.5 155.5l7 14h-14zM272.5 149.7l7 14h-14zM270.2 151.7l7 14h-14zM269.5 149.2l7 14h-14zM271.1 143.5l7 14h-14zM274.5 138.5l7 14h-14zM277.9 133.5l7 14h-14zM277.6 134.4l7 14h-14zM274.5 131.0l7 14h-14zM277.4 124.9l7 14h-14zM280.1 122.8l7 14h-14zM279.5 119.1l7 14h-14zM284.2 113.6l7 14h-14zM283.8 114.7l7 14h-14zM289.0 110.3l7 14h-14zM288.0 104.8l7 14h-14zM288.4 102.5l7 14h-14zM290.5 98.0l7 14h-14zM292.4 94.2l7 14h-14zM293.5 96.7l7 14h-14zM296.8 97.5l7 14h-14zM295.6 88.2l7 14h-14zM296.2 93.9l7 14h-14zM298.9 91.1l7 14h-14zM298.7 89.4l7 14h-14zM301.4 89.4l7 14h-14zM299.8 89.2l7 14h-14zM302.4 89.2l7 14h-14zM300.9 93.2l7 14h-14zM303.0 87.3l7 14h-14zM303.5 87.8l7 14h-14zM303.6 82.2l7 14h-14zM308.8 89.3l7 14h-14zM306.9 85.4l7 14h-14zM309.3 81.4l7 14h-14zM311.0 83.9l7 14h-14zM312.6 86.9l7 14h-14zM305.9 86.1l7 14h-14zM313.6 80.9l7 14h-14zM318.2 78.2l7 14h-14zM314.0 82.3l7 14h-14zM316.8 81.4l7 14h-14zM312.2 84.9l7 14h-14zM313.8 84.7l7 14h-14zM318.8 86.6l7 14h-14zM319.1 83.4l7 14h-14zM316.8 85.2l7 14h-14zM320.6 87.1l7 14h-14zM325.8 91.1l7 14h-14zM325.1 84.8l7 14h-14zM320.8 89.4l7 14h-14zM321.5 89.6l7 14h-14zM326.7 92.9l7 14h-14zM323.8 97.9l7 14h-14zM330.3 103.7l7 14h-14zM328.7 106.3l7 14h-14zM334.1 114.1l7 14h-14zM333.3 121.4l7 14h-14zM335.1 128.1l7 14h-14zM336.0 131.3l7 14h-14zM338.9 137.8l7 14h-14zM337.6 148.1l7 14h-14zM337.2 153.3l7 14h-14zM339.5 162.5l7 14h-14zM342.8 171.7l7 14h-14zM353.5 189.4l7 14h-14zM358.2 199.5l7 14h-14zM361.2 215.4l7 14h-14zM365.1 217.2l7 14h-14zM361.3 243.6l7 14h-14zM370.4 255.9l7 14h-14zM368.0 259.3l7 14h-14zM372.1 272.2l7 14h-14zM381.3 284.8l7 14h-14zM379.7 294.4l7 14h-14zM380.4 303.8l7 14h-14zM383.3 316.7l7 14h-14zM382.3 320.6l7 14h-14zM386.7 328.1l7 14h-14zM387.6 325.2l7 14h-14zM395.2 337.6l7 14h-14zM395.8 342.8l7 14h-14zM392.7 352.7l7 14h-14zM400.4 373.6l7 14h-14zM399.9 381.2l7 14h-14zM404.6 392.3l7 14h-14zM405.7 407.6l7 14h-14zM412.3 422.5l7 14h-14zM413.7 429.2l7 14h-14zM416.0 443.5l7 14h-14zM422.6 452.9l7 14h-14zM422.6 477.3l7 14h-14zM423.1 489.6l7 14h-14zM430.6 508.7l7 14h-14zM436.1 519.9l7 14h-14zM433.7 526.5l7 14h-14zM431.7 540.0l7 14h-14zM441.1 545.8l7 14h-14zM441.2 555.0l7 14h-14zM452.4 560.4l7 14h-14zM451.2 564.4l7 14h-14zM454.8 569.6l7 14h-14zM456.0 574.1l7 14h-14zM463.7 579.0l7 14h-14zM455.2 578.5l7 14h-14zM461.7 584.5l7 14h-14zM461.9 586.4l7 14h-14zM468.8 589.3l7 14h-14zM471.8 594.7l7 14h-14zM476.5 590.6l7 14h-14zM479.0 595.2l7 14h-14zM484.3 599.3l7 14h-14zM483.4 599.7l7 14h-14zM485.8 600.6l7 14h-14zM484.8 606.7l7 14h-14zM485.0 610.7l7 14h-14zM488.1 608.8l7 14h-14zM490.7 614.2l7 14h-14zM499.8 615.4l7 14h-14zM500.2 616.6l7 14h-14zM506.1 619.0l7 14h-14zM504.7 616.0l7 14h-14zM507.7 617.6l7 14h-14zM508.7 618.6l7 14h-14zM511.3 620.3l7 14h-14zM513.0 624.5l7 14h-14zM518.6 623.8l7 14h-14zM515.2 626.0l7 14h-14zM519.9 625.6l7 14h-14zM521.7 626.7l7 14h-14zM526.6 630.1l7 14h-14zM525.0 629.5l7 14h-14zM528.3 629.5l7 14h-14zM527.2 634.0l7 14h-14zM532.4 635.5l7 14h-14zM535.6 633.6l7 14h-14zM538.1 636.4l7 14h-14zM539.6 641.4l7 14h-14zM542.0 636.0l7 14h-14zM544.8 641.3l7 14h-14zM544.7 634.2l7 14h-14zM548.0 641.3l7 14h-14zM553.5 642.2l7 14h-14zM554.2 638.7l7 14h-14zM556.4 640.9l7 14h-14zM559.4 639.2l7 14h-14zM559.6 637.2l7 14h-14zM560.6 639.4l7 14h-14zM562.8 643.3l7 14h-14zM566.1 639.1l7 14h-14zM565.7 639.9l7 14h-14zM566.4 643.0l7 14h-14zM570.7 641.7l7 14h-14zM569.8 644.0l7 14h-14zM573.3 641.1l7 14h-14zM574.3 642.4l7 14h-14zM575.0 642.6l7 14h-14zM578.7 640.3l7 14h-14zM578.6 640.6l7 14h-14zM583.6 633.2l7 14h-14zM584.3 642.0l7 14h-14zM587.3 640.1l7 14h-14zM587.3 641.5l7 14h-14zM588.7 639.0l7 14h-14zM592.0 641.8l7 14h-14zM592.2 642.5l7 14h-14zM594.4 642.9l7 14h-14zM598.8 645.1l7 14h-14zM599.5 636.2l7 14h-14zM602.4 642.2l7 14h-14zM602.4 643.8l7 14h-14zM604.4 643.8l7 14h-14zM607.1 641.9l7 14h-14zM608.8 644.3l7 14h-14zM610.5 644.1l7 14h-14zM613.4 643.5l7 14h-14zM615.6 644.4l7 14h-14zM616.5 644.4l7 14h-14zM619.8 641.6l7 14h-14zM621.2 642.9l7 14h-14zM623.6 644.6l7 14h-14zM623.7 643.1l7 14h-14zM627.6 645.3l7 14h-14zM631.0 645.3l7 14h-14zM630.5 646.1l7 14h-14zM632.0 646.0l7 14h-14zM637.2 646.2l7 14h-14zM637.3 642.9l7 14h-14zM639.9 644.5l7 14h-14zM644.1 644.3l7 14h-14zM645.2 644.8l7 14h-14zM646.1 643.3l7 14h-14zM647.6 644.1l7 14h-14zM650.0 644.2l7 14h-14zM651.1 645.5l7 14h-14zM651.5 645.8l7 14h-14zM654.0 645.3l7 14h-14zM658.2 645.9l7 14h-14zM659.9 644.9l7 14h-14zM661.2 645.4l7 14h-14zM661.9 645.7l7 14h-14zM667.0 645.1l7 14h-14zM668.2 645.4l7 14h-14zM670.8 644.6l7 14h-14zM672.0 644.3l7 14h-14zM673.9 644.5l7 14h-14zM676.8 644.5l7 14h-14zM679.3 643.9l7 14h-14zM679.4 643.1l7 14h-14zM682.4 645.2l7 14h-14zM683.8 644.1l7 14h-14zM684.9 644.1l7 14h-14zM688.7 646.0l7 14h-14zM689.0 645.0l7 14h-14zM691.1 643.3l7 14h-14zM694.2 647.8l7 14h-14zM695.3 646.2l7 14h-14zM697.4 648.3l7 14h-14zM699.6 647.1l7 14h-14zM701.3 647.3l7 14h-14zM702.7 647.9l7 14h-14zM705.3 645.8l7 14h-14zM706.6 645.7l7 14h-14zM708.5 646.6l7 14h-14zM710.7 645.4l7 14h-14zM711.5 644.8l7 14h-14zM715.1 645.1l7 14h-14zM718.0 644.2l7 14h-14zM719.5 644.7l7 14h-14zM720.2 644.8l7 14h-14zM724.3 648.0l7 14h-14zM724.8 645.2l7 14h-14zM726.5 645.7l7 14h-14zM729.4 644.9l7 14h-14zM731.4 643.8l7 14h-14zM732.8 641.4l7 14h-14zM735.0 641.9l7 14h-14zM737.2 644.9l7 14h-14zM739.6 639.1l7 14h-14zM741.4 640.9l7 14h-14zM746.3 643.0l7 14h-14zM746.5 642.7l7 14h-14zM746.7 642.2l7 14h-14zM748.7 642.8l7 14h-14zM750.9 642.5l7 14h-14zM752.4 642.3l7 14h-14zM753.0 644.3l7 14h-14zM756.4 643.3l7 14h-14zM758.4 642.7l7 14h-14zM758.6 645.0l7 14h-14zM762.1 643.7l7 14h-14zM763.9 642.0l7 14h-14zM763.6 639.2l7 14h-14zM767.8 643.2l7 14h-14zM769.6 641.0l7 14h-14zM773.0 643.2l7 14h-14zM775.7 642.6l7 14h-14zM775.8 644.2l7 14h-14zM778.1 644.1l7 14h-14zM780.2 644.5l7 14h-14zM781.8 645.6l7 14h-14zM783.3 645.9l7 14h-14zM786.1 645.4l7 14h-14zM786.5 646.4l7 14h-14zM788.6 645.1l7 14h-14zM791.6 645.6l7 14h-14zM794.1 643.3l7 14h-14zM794.3 643.7l7 14h-14zM796.8 640.9l7 14h-14zM800.9 641.5l7 14h-14zM800.7 642.6l7 14h-14zM805.5 644.7l7 14h-14zM806.3 643.9l7 14h-14zM809.1 643.9l7 14h-14zM808.6 642.1l7 14h-14zM810.1 645.2l7 14h-14zM811.3 641.8l7 14h-14zM817.6 643.6l7 14h-14zM819.0 641.7l7 14h-14zM821.3 643.5l7 14h-14zM822.4 643.1l7 14h-14zM826.2 642.1l7 14h-14zM827.2 642.6l7 14h-14zM829.3 643.6l7 14h-14zM831.0 643.3l7 14h-14zM832.6 643.0l7 14h-14zM834.4 642.8l7 14h-14zM836.3 643.0l7 14h-14zM837.4 640.3l7 14h-14zM839.5 642.6l7 14h-14zM839.8 641.9l7 14h-14zM842.8 642.6l7 14h-14zM843.2 640.2l7 14h-14zM849.9 643.5l7 14h-14zM850.1 643.3l7 14h-14zM852.4 635.3l7 14h-14zM854.5 636.3l7 14h-14zM855.7 640.3l7 14h-14zM856.6 640.5l7 14h-14zM860.7 641.7l7 14h-14zM862.6 641.8l7 14h-14zM865.8 641.3l7 14h-14zM864.9 641.7l7 14h-14zM869.3 644.2l7 14h-14zM873.5 643.4l7 14h-14zM875.6 640.8l7 14h-14zM875.1 642.9l7 14h-14zM876.2 641.9l7 14h-14zM879.6 642.4l7 14h-14zM882.8 642.2l7 14h-14zM884.7 641.5l7 14h-14zM885.9 641.0l7 14h-14zM890.6 633.4l7 14h-14zM889.9 638.8l7 14h-14zM892.3 641.2l7 14h-14zM896.3 639.3l7 14h-14zM898.2 640.6l7 14h-14zM899.2 639.6l7 14h-14zM900.7 638.9l7 14h-14zM902.1 639.6l7 14h-14zM904.9 639.2l7 14h-14zM905.3 636.0l7 14h-14zM906.6 638.3l7 14h-14zM911.1 639.5l7 14h-14zM910.9 639.2l7 14h-14zM913.2 632.4l7 14h-14zM915.2 639.6l7 14h-14zM917.8 633.7l7 14h-14zM921.4 639.3l7 14h-14zM922.7 639.7l7 14h-14zM923.5 639.9l7 14h-14zM927.0 637.7l7 14h-14zM926.8 639.0l7 14h-14zM929.6 637.4l7 14h-14zM934.0 638.4l7 14h-14zM935.9 637.9l7 14h-14zM937.3 638.9l7 14h-14zM939.7 639.9l7 14h-14zM942.7 640.9l7 14h-14zM941.8 639.8l7 14h-14zM944.0 637.1l7 14h-14zM948.9 636.9l7 14h-14zM951.7 638.6l7 14h-14zM953.3 638.6l7 14h-14z"/>
<path stroke="#9467bd" d="M113.2 349.9l7 14h-14zM113.4 349.0l7 14h-14zM116.1 350.6l7 14h-14zM117.0 344.9l7 14h-14zM119.6 347.7l7 14h-14zM120.4 346.5l7 14h-14zM121.2 339.0l7 14h-14zM123.0 347.6l7 14h-14zM124.7 345.4l7 14h-14zM128.9 343.5l7 14h-14zM126.3 347.2l7 14h-14zM128.4 346.7l7 14h-14zM129.6 347.4l7 14h-14zM132.3 344.6l7 14h-14zM131.9 340.8l7 14h-14zM133.2 344.8l7 14h-14zM135.5 344.1l7 14h-14zM138.5 345.0l7 14h-14zM141.0 346.3l7 14h-14zM140.9 341.1l7 14h-14zM142.1 339.2l7 14h-14zM141.4 342.9l7 14h-14zM144.4 342.0l7 14h-14zM143.4 340.2l7 14h-14zM144.1 342.1l7 14h-14zM147.3 339.5l7 14h-14zM148.6 338.4l7 14h-14zM150.3 341.2l7 14h-14zM150.1 340.8l7 14h-14zM151.0 338.8l7 14h-14zM153.3 338.7l7 14h-14zM153.0 340.8l7 14h-14zM154.6 339.7l7 14h-14zM158.8 338.0l7 14h-14zM159.2 329.1l7 14h-14zM161.2 336.5l7 14h-14zM162.0 336.9l7 14h-14zM162.4 335.5l7 14h-14zM163.8 335.2l7 14h-14zM165.3 338.0l7 14h-14zM164.8 337.9l7 14h-14zM167.9 336.7l7 14h-14zM167.3 332.9l7 14h-14zM169.6 333.9l7 14h-14zM168.3 332.8l7 14h-14zM169.2 335.7l7 14h-14zM172.7 330.9l7 14h-14zM172.9 331.9l7 14h-14zM176.9 332.4l7 14h-14zM177.2 333.2l7 14h-14zM178.1 331.6l7 14h-14zM178.8 331.7l7 14h-14zM180.5 334.2l7 14h-14zM182.3 332.7l7 14h-14zM183.9 329.8l7 14h-14zM185.4 326.1l7 14h-14zM187.7 328.5l7 14h-14zM188.2 327.6l7 14h-14zM190.0 326.4l7 14h-14zM192.3 322.0l7 14h-14zM193.5 323.0l7 14h-14zM194.6 325.2l7 14h-14zM197.5 322.4l7 14h-14zM198.3 325.6l7 14h-14zM200.5 323.5l7 14h-14zM201.2 323.0l7 14h-14zM202.1 325.0l7 14h-14zM204.7 323.2l7 14h-14zM204.3 323.1l7 14h-14zM207.3 322.8l7 14h-14zM207.5 321.6l7 14h-14zM206.2 324.4l7 14h-14zM211.4 322.5l7 14h-14zM210.4 321.6l7 14h-14zM211.7 319.2l7 14h-14zM212.7 321.7l7 14h-14zM213.3 314.0l7 14h-14zM217.6 313.7l7 14h-14zM216.8 319.9l7 14h-14zM219.2 322.0l7 14h-14zM220.0 320.8l7 14h-14zM220.9 318.1l7 14h-14zM222.1 316.1l7 14h-14zM222.1 316.3l7 14h-14zM226.9 313.6l7 14h-14zM225.9 313.6l7 14h-14zM229.1 310.5l7 14h-14zM232.3 310.8l7 14h-14zM229.8 308.8l7 14h-14zM232.3 306.6l7 14h-14zM233.0 305.2l7 14h-14zM234.2 296.4l7 14h-14zM236.9 306.3l7 14h-14zM238.6 305.7l7 14h-14zM239.9 306.4l7 14h-14zM240.2 301.0l7 14h-14zM243.4 303.4l7 14h-14zM244.3 301.3l7 14h-14zM244.0 300.9l7 14h-14zM246.9 299.5l7 14h-14zM246.8 300.8l7 14h-14zM248.4 298.1l7 14h-14zM250.3 300.8l7 14h-14zM252.6 296.6l7 14h-14zM254.7 296.3l7 14h-14zM252.6 297.2l7 14h-14zM253.7 296.3l7 14h-14zM256.5 296.3l7 14h-14zM256.2 291.1l7 14h-14zM258.8 292.7l7 14h-14zM260.6 285.6l7 14h-14zM261.0 291.7l7 14h-14zM263.1 293.0l7 14h-14zM259.8 289.1l7 14h-14zM264.8 286.4l7 14h-14zM264.9 289.0l7 14h-14zM265.3 285.5l7 14h-14zM268.6 286.7l7 14h-14zM268.5 277.2l7 14h-14zM270.5 282.8l7 14h-14zM272.5 282.0l7 14h-14zM273.3 278.7l7 14h-14zM276.3 268.1l7 14h-14zM278.1 266.2l7 14h-14zM280.9 256.7l7 14h-14zM281.0 245.6l7 14h-14zM283.6 241.6l7 14h-14zM282.5 236.9l7 14h-14zM286.8 226.0l7 14h-14zM286.7 220.0l7 14h-14zM286.1 211.4l7 14h-14zM290.9 201.8l7 14h-14zM291.7 191.8l7 14h-14zM292.3 180.3l7 14h-14zM296.1 165.4l7 14h-14zM296.1 145.9l7 14h-14zM297.7 132.7l7 14h-14zM298.5 123.2l7 14h-14zM296.1 114.9l7 14h-14zM301.2 110.8l7 14h-14zM302.3 99.6l7 14h-14zM304.3 103.3l7 14h-14zM303.9 93.1l7 14h-14zM304.5 97.6l7 14h-14zM304.9 88.1l7 14h-14zM304.9 92.7l7 14h-14zM306.9 85.7l7 14h-14zM306.0 76.1l7 14h-14zM308.4 85.8l7 14h-14zM308.8 84.7l7 14h-14zM307.2 86.3l7 14h-14zM305.1 79.0l7 14h-14zM306.4 83.6l7 14h-14zM308.6 81.9l7 14h-14zM307.9 76.5l7 14h-14zM309.8 80.0l7 14h-14zM309.0 78.1l7 14h-14zM312.0 76.9l7 14h-14zM307.7 79.5l7 14h-14zM314.6 80.9l7 14h-14zM313.9 82.7l7 14h-14zM312.3 78.9l7 14h-14zM311.7 86.4l7 14h-14zM314.1 82.6l7 14h-14zM315.9 78.8l7 14h-14zM314.8 87.9l7 14h-14zM316.6 87.7l7 14h-14zM315.4 91.3l7 14h-14zM314.3 87.9l7 14h-14zM318.1 95.2l7 14h-14zM319.0 87.9l7 14h-14zM321.8 93.1l7 14h-14zM320.8 89.7l7 14h-14zM316.6 99.3l7 14h-14zM320.3 97.6l7 14h-14zM321.6 103.0l7 14h-14zM324.9 105.2l7 14h-14zM323.8 117.5l7 14h-14zM326.2 126.5l7 14h-14zM331.2 147.3l7 14h-14zM329.4 166.9l7 14h-14zM338.4 179.3l7 14h-14zM330.4 194.4l7 14h-14zM334.9 207.5l7 14h-14zM340.5 220.7l7 14h-14zM340.0 232.6l7 14h-14zM342.4 247.7l7 14h-14zM347.3 250.5l7 14h-14zM347.1 251.7l7 14h-14zM349.9 265.5l7 14h-14zM354.8 284.7l7 14h-14zM361.7 295.5l7 14h-14zM357.1 297.6l7 14h-14zM363.8 312.9l7 14h-14zM369.4 320.5l7 14h-14zM366.5 329.3l7 14h-14zM373.4 341.1l7 14h-14zM376.0 344.7l7 14h-14zM382.5 351.8l7 14h-14zM379.5 356.5l7 14h-14zM383.1 368.2l7 14h-14zM380.7 371.9l7 14h-14zM389.0 376.1l7 14h-14zM390.4 377.9l7 14h-14zM391.9 378.1l7 14h-14zM391.1 390.9l7 14h-14zM397.6 398.6l7 14h-14zM398.4 401.4l7 14h-14zM397.2 408.0l7 14h-14zM405.6 416.1l7 14h-14zM410.0 429.9l7 14h-14zM412.5 440.1l7 14h-14zM419.6 450.1l7 14h-14zM416.9 452.2l7 14h-14zM420.5 457.2l7 14h-14zM422.3 469.3l7 14h-14zM430.5 479.5l7 14h-14zM434.7 488.1l7 14h-14zM431.5 490.3l7 14h-14zM437.5 500.4l7 14h-14zM439.9 512.1l7 14h-14zM448.0 523.0l7 14h-14zM452.4 527.0l7 14h-14zM444.9 534.1l7 14h-14zM452.0 542.6l7 14h-14zM458.1 549.2l7 14h-14zM456.0 553.8l7 14h-14zM468.5 558.0l7 14h-14zM466.1 563.8l7 14h-14zM468.8 564.6l7 14h-14zM474.5 570.5l7 14h-14zM478.5 576.2l7 14h-14zM478.2 579.2l7 14h-14zM483.8 583.4l7 14h-14zM486.2 581.4l7 14h-14zM487.0 586.6l7 14h-14zM489.0 591.6l7 14h-14zM495.5 591.8l7 14h-14zM496.3 589.9l7 14h-14zM498.8 596.3l7 14h-14zM504.0 601.4l7 14h-14zM506.4 599.9l7 14h-14zM510.8 602.6l7 14h-14zM513.1 606.7l7 14h-14zM515.6 606.6l7 14h-14zM518.4 611.5l7 14h-14zM522.6 609.3l7 14h-14zM524.5 616.6l7 14h-14zM523.8 614.8l7 14h-14zM528.7 614.0l7 14h-14zM530.6 613.5l7 14h-14zM532.0 614.7l7 14h-14zM536.6 617.3l7 14h-14zM538.4 618.4l7 14h-14zM538.8 619.0l7 14h-14zM542.8 618.4l7 14h-14zM548.0 619.9l7 14h-14zM550.3 623.2l7 14h-14zM549.1 624.5l7 14h-14zM555.3 623.2l7 14h-14zM556.7 626.4l7 14h-14zM557.8 624.5l7 14h-14zM560.8 624.7l7 14h-14zM564.0 626.3l7 14h-14zM566.1 628.2l7 14h-14zM570.6 629.0l7 14h-14zM573.1 626.3l7 14h-14zM575.1 633.6l7 14h-14zM578.2 631.6l7 14h-14zM581.1 633.8l7 14h-14zM583.8 630.1l7 14h-14zM586.1 631.5l7 14h-14zM590.9 634.1l7 14h-14zM590.2 632.1l7 14h-14zM594.3 633.8l7 14h-14zM597.7 634.1l7 14h-14zM601.0 636.6l7 14h-14zM601.8 632.9l7 14h-14zM603.5 636.9l7 14h-14zM607.6 637.6l7 14h-14zM610.5 639.6l7 14h-14zM612.7 639.7l7 14h-14zM616.9 640.8l7 14h-14zM622.6 640.8l7 14h-14zM621.0 642.0l7 14h-14zM624.5 641.5l7 14h-14zM629.1 643.6l7 14h-14zM630.2 640.9l7 14h-14zM636.4 640.3l7 14h-14zM638.6 641.7l7 14h-14zM641.7 639.7l7 14h-14zM641.9 639.6l7 14h-14zM643.9 642.6l7 14h-14zM645.8 637.6l7 14h-14zM649.4 640.2l7 14h-14zM649.5 634.3l7 14h-14zM652.9 642.4l7 14h-14zM655.7 644.3l7 14h-14zM655.7 644.2l7 14h-14zM659.9 641.7l7 14h-14zM662.0 643.2l7 14h-14zM667.1 641.8l7 14h-14zM669.6 642.2l7 14h-14zM673.8 642.0l7 14h-14zM675.5 639.1l7 14h-14zM679.4 642.4l7 14h-14zM680.4 642.3l7 14h-14zM682.6 641.6l7 14h-14zM683.4 643.0l7 14h-14zM688.5 642.1l7 14h-14zM689.7 641.1l7 14h-14zM690.6 642.6l7 14h-14zM695.2 643.8l7 14h-14zM696.6 645.4l7 14h-14zM698.7 635.4l7 14h-14zM702.7 645.4l7 14h-14zM705.8 643.3l7 14h-14zM709.2 644.6l7 14h-14zM709.9 645.3l7 14h-14zM715.0 642.9l7 14h-14zM714.5 644.4l7 14h-14zM718.7 643.5l7 14h-14zM720.8 643.6l7 14h-14zM722.4 641.8l7 14h-14zM727.8 642.5l7 14h-14zM727.9 642.4l7 14h-14zM729.9 641.9l7 14h-14zM731.9 641.3l7 14h-14zM737.1 642.7l7 14h-14zM736.0 642.5l7 14h-14zM739.0 642.2l7 14h-14zM743.1 643.1l7 14h-14zM745.1 644.5l7 14h-14zM748.0 646.3l7 14h-14zM750.5 644.1l7 14h-14zM754.1 643.1l7 14h-14zM755.8 647.3l7 14h-14zM759.3 643.3l7 14h-14zM763.3 642.5l7 14h-14zM766.4 643.7l7 14h-14zM768.1 643.1l7 14h-14zM770.5 642.4l7 14h-14zM774.6 642.0l7 14h-14zM778.2 639.6l7 14h-14zM781.6 640.3l7 14h-14zM783.6 639.6l7 14h-14zM786.6 643.4l7 14h-14zM792.6 642.6l7 14h-14zM794.1 639.3l7 14h-14zM796.3 641.9l7 14h-14zM798.1 641.9l7 14h-14zM798.3 644.2l7 14h-14zM803.6 643.0l7 14h-14zM805.5 645.9l7 14h-14zM810.3 642.9l7 14h-14zM813.7 642.5l7 14h-14zM815.4 643.7l7 14h-14zM816.1 641.5l7 14h-14zM817.8 642.4l7 14h-14zM826.5 643.5l7 14h-14zM825.4 643.9l7 14h-14zM828.2 641.8l7 14h-14zM831.1 640.0l7 14h-14zM834.1 642.2l7 14h-14zM837.2 644.8l7 14h-14zM840.5 643.8l7 14h-14zM843.8 641.3l7 14h-14zM845.2 643.8l7 14h-14zM844.0 640.9l7 14h-14zM847.9 641.7l7 14h-14zM852.5 642.1l7 14h-14zM855.6 645.1l7 14h-14zM860.0 642.4l7 14h-14zM859.5 641.5l7 14h-14zM864.6 640.1l7 14h-14zM865.8 642.4l7 14h-14zM870.1 641.8l7 14h-14zM872.8 641.4l7 14h-14zM875.3 642.1l7 14h-14zM877.4 640.8l7 14h-14zM882.3 641.4l7 14h-14zM885.0 639.2l7 14h-14zM887.4 639.8l7 14h-14zM887.9 639.7l7 14h-14zM891.6 640.6l7 14h-14zM891.1 638.3l7 14h-14zM895.0 637.9l7 14h-14zM896.1 636.8l7 14h-14zM901.1 638.3l7 14h-14zM903.0 638.9l7 14h-14zM904.8 637.5l7 14h-14zM908.9 640.0l7 14h-14zM908.6 639.0l7 14h-14zM910.5 637.3l7 14h-14zM913.4 636.7l7 14h-14zM916.1 635.1l7 14h-14zM919.1 635.8l7 14h-14zM919.9 636.8l7 14h-14zM922.0 637.7l7 14h-14zM926.0 638.9l7 14h-14zM927.4 639.4l7 14h-14zM931.5 640.4l7 14h-14zM935.9 639.1l7 14h-14zM935.8 643.0l7 14h-14zM938.8 638.4l7 14h-14zM939.7 639.3l7 14h-14zM943.2 639.9l7 14h-14zM947.9 639.4l7 14h-14zM949.5 639.5l7 14h-14zM951.1 638.4l7 14h-14zM116.5 328.0l7 14h-14zM258.8 335.0l7 14h-14zM232.0 303.0l7 14h-14z"/>
</g>
<path d="M160.5 451 l7 14h-14z" fill="none" stroke="#1f77b4" stroke-width="1.8"/>
<text font-size="30" transform="matrix(1.1523 0.0000 0.0000 1.0694 213.8586 469.6305)">Ti5</text>
<path d="M160.5 495.8 l7 14h-14z" fill="none" stroke="#ff7f0e" stroke-width="1.8"/>
<text font-size="30" transform="matrix(1.1472 0.0000 0.0000 1.0499 213.8638 514.0000)">Ti4</text>
<path d="M160.5 540.6 l7 14h-14z" fill="none" stroke="#2ca02c" stroke-width="1.8"/>
<text font-size="30" transform="matrix(1.1582 0.0000 0.0000 1.0694 213.8527 559.2305)">Ti3</text>
<path d="M160.5 585.4 l7 14h-14z" fill="none" stroke="#d62728" stroke-width="1.8"/>
<text font-size="30" transform="matrix(1.1422 0.0000 0.0000 1.0499 213.8687 603.6000)">Ti2</text>
<path d="M160.5 630.2 l7 14h-14z" fill="none" stroke="#9467bd" stroke-width="1.8"/>
<text font-size="30" transform="matrix(1.1484 0.0000 0.0000 1.0499 213.8625 648.4000)">Ti1</text>
<rect x="102.8" y="31" width="850.6" height="651.1" fill="none" stroke="#000" stroke-width="1.8"/>
<line x1="95.2" y1="654" x2="102.8" y2="654" stroke="#000" stroke-width="1.8"/>
<text font-size="26" transform="matrix(1.1437 0.0000 0.0000 1.1207 46.1002 664.3777)">0.0</text>
<line x1="95.2" y1="540.72" x2="102.8" y2="540.72" stroke="#000" stroke-width="1.8"/>
<text font-size="26" transform="matrix(1.1173 0.0000 0.0000 1.1207 46.1266 551.0977)">0.2</text>
<line x1="95.2" y1="427.44" x2="102.8" y2="427.44" stroke="#000" stroke-width="1.8"/>
<text font-size="26" transform="matrix(1.1188 0.0000 0.0000 1.1207 46.1251 437.8177)">0.4</text>
<line x1="95.2" y1="314.16" x2="102.8" y2="314.16" stroke="#000" stroke-width="1.8"/>
<text font-size="26" transform="matrix(1.1464 0.0000 0.0000 1.1207 46.0975 324.5377)">0.6</text>
<line x1="95.2" y1="200.88" x2="102.8" y2="200.88" stroke="#000" stroke-width="1.8"/>
<text font-size="26" transform="matrix(1.1421 0.0000 0.0000 1.1207 46.1017 211.2577)">0.8</text>
<line x1="95.2" y1="87.6" x2="102.8" y2="87.6" stroke="#000" stroke-width="1.8"/>
<text font-size="26" transform="matrix(1.1428 0.0000 0.0000 1.1207 46.1303 97.9777)">1.0</text>
<line x1="126.43" y1="682.1" x2="126.43" y2="689.7" stroke="#000" stroke-width="1.8"/>
<text font-size="26" transform="matrix(1.1992 0.0000 0.0000 1.1207 78.7060 717.5777)">−0.275</text>
<line x1="244.57" y1="682.1" x2="244.57" y2="689.7" stroke="#000" stroke-width="1.8"/>
<text font-size="26" transform="matrix(1.2064 0.0000 0.0000 1.1207 196.8388 717.5777)">−0.250</text>
<line x1="362.71" y1="682.1" x2="362.71" y2="689.7" stroke="#000" stroke-width="1.8"/>
<text font-size="26" transform="matrix(1.1992 0.0000 0.0000 1.1207 314.9860 717.5777)">−0.225</text>
<line x1="480.85" y1="682.1" x2="480.85" y2="689.7" stroke="#000" stroke-width="1.8"/>
<text font-size="26" transform="matrix(1.2064 0.0000 0.0000 1.1207 433.1188 717.5777)">−0.200</text>
<line x1="598.99" y1="682.1" x2="598.99" y2="689.7" stroke="#000" stroke-width="1.8"/>
<text font-size="26" transform="matrix(1.1992 0.0000 0.0000 1.1207 551.2660 717.5777)">−0.175</text>
<line x1="717.13" y1="682.1" x2="717.13" y2="689.7" stroke="#000" stroke-width="1.8"/>
<text font-size="26" transform="matrix(1.2064 0.0000 0.0000 1.1207 669.3988 717.5777)">−0.150</text>
<line x1="835.27" y1="682.1" x2="835.27" y2="689.7" stroke="#000" stroke-width="1.8"/>
<text font-size="26" transform="matrix(1.1992 0.0000 0.0000 1.1207 787.5460 717.5777)">−0.125</text>
<line x1="953.41" y1="682.1" x2="953.41" y2="689.7" stroke="#000" stroke-width="1.8"/>
<text font-size="26" transform="matrix(1.2064 0.0000 0.0000 1.1207 905.6788 717.5777)">−0.100</text>
<text font-size="26" transform="matrix(1.1043 0.0000 0.0000 1.0857 488.1913 750.5429)"><tspan font-style="italic">V</tspan>, mV</text>
<text font-size="26" font-style="italic" transform="matrix(0.0000 -1.1279 1.1789 0.0000 32.1000 391.8279)">dI/dV</text>
<text font-size="36" font-weight="bold" style="stroke:#000;stroke-width:1.1px" transform="matrix(0.9800 0.0000 0.0000 0.9810 8.4200 18.8190)">a</text>
<rect x="525.4" y="57" width="406.4" height="431.1" fill="#fff"/>
<g clip-path="url(#cia)" fill="none" stroke-width="1.8">
<path stroke="#3300cc" d="M520.0 133.9l7 -14h-14zM521.2 134.2l7 -14h-14zM521.6 135.6l7 -14h-14zM521.5 135.3l7 -14h-14zM522.9 136.5l7 -14h-14zM524.4 133.9l7 -14h-14zM524.5 133.3l7 -14h-14zM526.1 138.2l7 -14h-14zM526.9 136.8l7 -14h-14zM527.8 135.5l7 -14h-14zM529.6 133.5l7 -14h-14zM530.5 135.0l7 -14h-14zM531.0 135.4l7 -14h-14zM531.0 133.8l7 -14h-14zM531.4 132.6l7 -14h-14zM532.7 133.3l7 -14h-14zM533.9 134.9l7 -14h-14zM534.7 136.0l7 -14h-14zM535.6 131.0l7 -14h-14zM536.5 135.0l7 -14h-14zM536.9 131.8l7 -14h-14zM537.3 134.0l7 -14h-14zM538.9 129.3l7 -14h-14zM539.3 131.4l7 -14h-14zM540.2 129.0l7 -14h-14zM540.8 132.9l7 -14h-14zM541.6 134.1l7 -14h-14zM543.3 131.4l7 -14h-14zM543.3 133.8l7 -14h-14zM543.6 129.4l7 -14h-14zM544.8 131.5l7 -14h-14zM545.7 132.3l7 -14h-14zM546.0 130.3l7 -14h-14zM547.2 133.6l7 -14h-14zM548.0 129.6l7 -14h-14zM548.3 132.7l7 -14h-14zM549.6 128.1l7 -14h-14zM549.3 129.1l7 -14h-14zM550.1 127.8l7 -14h-14zM551.3 128.8l7 -14h-14zM552.4 129.1l7 -14h-14zM553.1 129.0l7 -14h-14zM553.5 129.1l7 -14h-14zM554.5 127.6l7 -14h-14zM555.7 125.0l7 -14h-14zM557.1 128.0l7 -14h-14zM558.4 127.1l7 -14h-14zM558.8 124.0l7 -14h-14zM559.5 125.5l7 -14h-14zM560.4 128.4l7 -14h-14zM561.2 122.6l7 -14h-14zM562.4 127.6l7 -14h-14zM563.4 128.4l7 -14h-14zM564.0 125.4l7 -14h-14zM565.0 126.3l7 -14h-14zM566.5 124.6l7 -14h-14zM567.3 126.7l7 -14h-14zM568.3 122.7l7 -14h-14zM569.2 121.5l7 -14h-14zM570.6 125.8l7 -14h-14zM570.9 126.0l7 -14h-14zM571.4 124.1l7 -14h-14zM571.6 122.4l7 -14h-14zM572.8 121.0l7 -14h-14zM573.8 124.7l7 -14h-14zM575.0 119.6l7 -14h-14zM575.7 121.5l7 -14h-14zM576.2 125.5l7 -14h-14zM576.7 120.5l7 -14h-14zM577.3 121.2l7 -14h-14zM578.2 121.0l7 -14h-14zM579.0 119.3l7 -14h-14zM579.5 121.9l7 -14h-14zM580.4 120.2l7 -14h-14zM580.9 119.3l7 -14h-14zM581.4 116.5l7 -14h-14zM582.1 120.7l7 -14h-14zM582.8 120.2l7 -14h-14zM583.8 113.8l7 -14h-14zM584.9 117.5l7 -14h-14zM585.2 118.8l7 -14h-14zM586.2 118.0l7 -14h-14zM586.9 117.7l7 -14h-14zM588.4 116.6l7 -14h-14zM589.1 110.6l7 -14h-14zM590.2 115.2l7 -14h-14zM591.1 113.7l7 -14h-14zM591.7 116.8l7 -14h-14zM593.0 116.7l7 -14h-14zM593.5 116.6l7 -14h-14zM594.1 115.8l7 -14h-14zM595.5 114.9l7 -14h-14zM596.2 106.8l7 -14h-14zM596.9 113.8l7 -14h-14zM597.5 112.0l7 -14h-14zM597.9 110.7l7 -14h-14zM599.0 112.0l7 -14h-14zM599.3 111.7l7 -14h-14zM600.8 112.1l7 -14h-14zM600.8 107.8l7 -14h-14zM601.5 109.9l7 -14h-14zM602.3 110.6l7 -14h-14zM603.1 111.0l7 -14h-14zM603.4 111.2l7 -14h-14zM605.3 111.2l7 -14h-14zM606.8 110.9l7 -14h-14zM607.7 109.9l7 -14h-14zM610.4 110.7l7 -14h-14zM610.1 117.6l7 -14h-14zM612.0 114.0l7 -14h-14zM611.3 116.1l7 -14h-14zM613.2 119.3l7 -14h-14zM616.8 121.7l7 -14h-14zM617.9 117.6l7 -14h-14zM618.9 116.1l7 -14h-14zM618.6 129.8l7 -14h-14zM621.1 127.9l7 -14h-14zM625.0 128.1l7 -14h-14zM626.1 130.3l7 -14h-14zM624.9 136.0l7 -14h-14zM629.3 135.3l7 -14h-14zM631.9 141.2l7 -14h-14zM632.8 140.4l7 -14h-14zM636.3 147.6l7 -14h-14zM638.9 153.2l7 -14h-14zM643.5 157.7l7 -14h-14zM644.6 158.1l7 -14h-14zM646.6 161.0l7 -14h-14zM647.6 169.2l7 -14h-14zM648.1 170.4l7 -14h-14zM654.9 177.5l7 -14h-14zM661.6 184.7l7 -14h-14zM663.5 190.6l7 -14h-14zM668.7 204.1l7 -14h-14zM670.3 201.6l7 -14h-14zM670.4 209.2l7 -14h-14zM675.6 209.9l7 -14h-14zM674.6 217.0l7 -14h-14zM680.7 217.7l7 -14h-14zM682.8 229.3l7 -14h-14zM689.4 239.2l7 -14h-14zM693.0 241.1l7 -14h-14zM696.0 250.2l7 -14h-14zM695.9 249.6l7 -14h-14zM706.6 257.5l7 -14h-14zM707.5 256.3l7 -14h-14zM706.7 266.1l7 -14h-14zM713.7 271.9l7 -14h-14zM713.2 279.7l7 -14h-14zM717.5 278.7l7 -14h-14zM720.1 289.2l7 -14h-14zM723.7 295.5l7 -14h-14zM731.6 299.4l7 -14h-14zM735.4 307.5l7 -14h-14zM738.4 308.3l7 -14h-14zM740.2 313.4l7 -14h-14zM745.8 317.5l7 -14h-14zM753.2 323.5l7 -14h-14zM754.8 331.2l7 -14h-14zM759.2 334.3l7 -14h-14zM756.8 338.8l7 -14h-14zM761.2 346.2l7 -14h-14zM763.0 341.6l7 -14h-14zM767.2 350.6l7 -14h-14zM769.2 350.1l7 -14h-14zM772.9 360.8l7 -14h-14zM777.1 358.8l7 -14h-14zM777.8 374.0l7 -14h-14zM786.3 374.0l7 -14h-14zM785.3 377.6l7 -14h-14zM790.4 385.5l7 -14h-14zM793.9 386.0l7 -14h-14zM796.6 391.0l7 -14h-14zM801.4 395.6l7 -14h-14zM801.9 404.3l7 -14h-14zM807.5 411.1l7 -14h-14zM805.5 411.5l7 -14h-14zM809.1 417.8l7 -14h-14zM811.4 424.5l7 -14h-14zM814.6 427.7l7 -14h-14zM819.2 427.0l7 -14h-14zM824.9 433.7l7 -14h-14zM826.7 437.4l7 -14h-14zM829.2 444.4l7 -14h-14zM836.2 452.7l7 -14h-14zM836.8 452.6l7 -14h-14zM840.1 448.6l7 -14h-14zM844.7 456.8l7 -14h-14zM848.8 456.9l7 -14h-14zM851.1 463.0l7 -14h-14zM851.4 467.8l7 -14h-14zM857.3 461.9l7 -14h-14zM859.2 467.7l7 -14h-14zM860.6 468.1l7 -14h-14zM865.8 463.9l7 -14h-14zM866.9 467.0l7 -14h-14zM864.7 468.6l7 -14h-14zM871.0 465.7l7 -14h-14zM877.3 461.3l7 -14h-14zM882.0 465.3l7 -14h-14zM887.3 466.4l7 -14h-14zM885.2 467.5l7 -14h-14zM885.9 460.6l7 -14h-14zM890.9 462.6l7 -14h-14zM894.5 459.8l7 -14h-14zM894.5 458.7l7 -14h-14zM896.8 458.1l7 -14h-14zM903.3 458.7l7 -14h-14zM907.8 462.8l7 -14h-14zM915.0 454.5l7 -14h-14zM912.5 452.1l7 -14h-14zM918.3 453.7l7 -14h-14zM924.3 447.5l7 -14h-14zM924.0 447.1l7 -14h-14zM933.6 445.7l7 -14h-14zM932.4 445.2l7 -14h-14z"/>
<path stroke="#5500aa" d="M519.5 124.2l7 -14h-14zM521.2 128.1l7 -14h-14zM522.0 123.2l7 -14h-14zM522.4 121.8l7 -14h-14zM522.9 124.6l7 -14h-14zM523.1 124.0l7 -14h-14zM524.2 124.5l7 -14h-14zM524.4 128.6l7 -14h-14zM525.1 126.5l7 -14h-14zM526.0 124.8l7 -14h-14zM526.7 126.7l7 -14h-14zM527.0 123.9l7 -14h-14zM529.0 125.7l7 -14h-14zM528.8 122.8l7 -14h-14zM530.0 124.1l7 -14h-14zM529.9 126.0l7 -14h-14zM531.0 121.4l7 -14h-14zM532.0 122.1l7 -14h-14zM532.5 122.7l7 -14h-14zM533.2 123.6l7 -14h-14zM535.1 121.3l7 -14h-14zM535.1 127.7l7 -14h-14zM535.8 124.5l7 -14h-14zM537.0 123.7l7 -14h-14zM537.2 124.3l7 -14h-14zM538.4 122.2l7 -14h-14zM539.3 124.0l7 -14h-14zM540.1 125.7l7 -14h-14zM540.8 120.5l7 -14h-14zM542.0 126.8l7 -14h-14zM543.4 125.1l7 -14h-14zM544.2 123.8l7 -14h-14zM544.7 126.0l7 -14h-14zM545.8 124.6l7 -14h-14zM546.3 118.8l7 -14h-14zM547.1 120.3l7 -14h-14zM547.4 121.2l7 -14h-14zM548.1 122.3l7 -14h-14zM549.7 120.7l7 -14h-14zM550.2 120.1l7 -14h-14zM550.6 118.5l7 -14h-14zM551.9 121.0l7 -14h-14zM552.5 124.2l7 -14h-14zM553.3 123.3l7 -14h-14zM553.9 121.1l7 -14h-14zM554.7 123.6l7 -14h-14zM554.4 119.9l7 -14h-14zM555.0 118.4l7 -14h-14zM556.7 123.8l7 -14h-14zM557.2 119.4l7 -14h-14zM558.2 120.0l7 -14h-14zM559.1 117.9l7 -14h-14zM559.6 122.1l7 -14h-14zM559.8 122.7l7 -14h-14zM560.5 123.3l7 -14h-14zM562.1 117.6l7 -14h-14zM562.7 122.3l7 -14h-14zM564.1 119.3l7 -14h-14zM563.9 121.5l7 -14h-14zM565.1 117.2l7 -14h-14zM566.3 115.8l7 -14h-14zM566.9 119.5l7 -14h-14zM568.1 121.2l7 -14h-14zM569.0 120.9l7 -14h-14zM569.5 121.7l7 -14h-14zM571.3 121.1l7 -14h-14zM571.6 115.9l7 -14h-14zM572.7 121.6l7 -14h-14zM573.5 120.4l7 -14h-14zM573.7 115.4l7 -14h-14zM575.0 115.1l7 -14h-14zM576.3 116.5l7 -14h-14zM576.5 117.1l7 -14h-14zM577.1 116.4l7 -14h-14zM578.2 115.0l7 -14h-14zM579.9 118.2l7 -14h-14zM580.5 116.4l7 -14h-14zM581.6 115.3l7 -14h-14zM581.9 114.2l7 -14h-14zM583.3 115.1l7 -14h-14zM583.3 113.8l7 -14h-14zM584.0 112.4l7 -14h-14zM584.8 116.2l7 -14h-14zM586.1 116.0l7 -14h-14zM586.8 113.8l7 -14h-14zM587.5 114.4l7 -14h-14zM588.7 114.9l7 -14h-14zM589.2 117.1l7 -14h-14zM589.5 116.4l7 -14h-14zM589.9 115.1l7 -14h-14zM590.2 114.1l7 -14h-14zM591.0 115.2l7 -14h-14zM591.7 112.1l7 -14h-14zM592.8 113.7l7 -14h-14zM592.3 113.7l7 -14h-14zM593.9 117.1l7 -14h-14zM594.9 114.3l7 -14h-14zM595.5 117.0l7 -14h-14zM596.7 116.2l7 -14h-14zM596.7 113.6l7 -14h-14zM598.0 113.1l7 -14h-14zM598.3 111.4l7 -14h-14zM598.5 112.5l7 -14h-14zM599.8 113.3l7 -14h-14zM600.6 111.3l7 -14h-14zM602.0 111.4l7 -14h-14zM601.4 112.7l7 -14h-14zM603.3 110.8l7 -14h-14zM605.0 110.4l7 -14h-14zM604.9 113.5l7 -14h-14zM605.4 111.1l7 -14h-14zM607.3 109.1l7 -14h-14zM609.3 110.6l7 -14h-14zM610.6 116.6l7 -14h-14zM613.1 113.5l7 -14h-14zM612.3 115.0l7 -14h-14zM613.6 122.0l7 -14h-14zM615.6 117.9l7 -14h-14zM617.7 118.8l7 -14h-14zM620.7 124.1l7 -14h-14zM624.7 123.3l7 -14h-14zM623.2 128.4l7 -14h-14zM623.4 123.0l7 -14h-14zM628.1 136.7l7 -14h-14zM633.9 139.9l7 -14h-14zM631.6 139.9l7 -14h-14zM634.7 141.1l7 -14h-14zM636.0 146.6l7 -14h-14zM641.3 152.9l7 -14h-14zM642.8 158.6l7 -14h-14zM646.2 159.4l7 -14h-14zM648.5 161.0l7 -14h-14zM650.8 172.0l7 -14h-14zM654.1 180.6l7 -14h-14zM654.7 177.3l7 -14h-14zM655.6 185.7l7 -14h-14zM665.6 192.2l7 -14h-14zM673.3 193.9l7 -14h-14zM671.8 200.0l7 -14h-14zM679.9 205.0l7 -14h-14zM679.9 216.1l7 -14h-14zM682.5 215.5l7 -14h-14zM685.2 218.0l7 -14h-14zM693.1 230.7l7 -14h-14zM693.6 232.8l7 -14h-14zM698.9 238.2l7 -14h-14zM706.1 240.2l7 -14h-14zM704.1 246.4l7 -14h-14zM709.5 246.1l7 -14h-14zM715.9 255.6l7 -14h-14zM717.6 260.1l7 -14h-14zM722.6 265.5l7 -14h-14zM724.4 271.2l7 -14h-14zM726.0 271.9l7 -14h-14zM730.7 276.7l7 -14h-14zM736.6 281.5l7 -14h-14zM738.7 283.7l7 -14h-14zM744.1 289.0l7 -14h-14zM745.6 295.5l7 -14h-14zM750.1 301.9l7 -14h-14zM752.0 302.9l7 -14h-14zM756.6 301.8l7 -14h-14zM766.1 314.4l7 -14h-14zM763.1 320.4l7 -14h-14zM767.6 322.5l7 -14h-14zM770.5 322.8l7 -14h-14zM777.1 331.5l7 -14h-14zM779.2 330.7l7 -14h-14zM783.5 340.9l7 -14h-14zM786.7 347.3l7 -14h-14zM786.2 344.5l7 -14h-14zM789.3 344.9l7 -14h-14zM793.5 351.6l7 -14h-14zM797.2 356.6l7 -14h-14zM800.5 357.6l7 -14h-14zM804.4 361.4l7 -14h-14zM804.7 372.2l7 -14h-14zM809.0 372.9l7 -14h-14zM810.4 379.8l7 -14h-14zM817.1 384.6l7 -14h-14zM819.0 386.5l7 -14h-14zM818.8 391.6l7 -14h-14zM823.7 393.2l7 -14h-14zM824.8 393.0l7 -14h-14zM827.4 399.7l7 -14h-14zM831.5 401.7l7 -14h-14zM838.3 410.5l7 -14h-14zM837.7 408.8l7 -14h-14zM841.3 415.2l7 -14h-14zM844.0 422.3l7 -14h-14zM848.9 422.4l7 -14h-14zM854.5 427.2l7 -14h-14zM856.5 429.2l7 -14h-14zM861.0 440.9l7 -14h-14zM861.5 441.0l7 -14h-14zM866.9 442.3l7 -14h-14zM872.1 438.8l7 -14h-14zM871.9 445.5l7 -14h-14zM877.5 444.7l7 -14h-14zM880.0 449.0l7 -14h-14zM880.5 449.8l7 -14h-14zM883.3 447.5l7 -14h-14zM884.8 457.4l7 -14h-14zM887.9 456.3l7 -14h-14zM891.7 456.1l7 -14h-14zM893.2 456.7l7 -14h-14zM894.5 450.9l7 -14h-14zM898.4 453.0l7 -14h-14zM899.0 450.7l7 -14h-14zM902.8 453.8l7 -14h-14zM908.3 455.3l7 -14h-14zM907.0 449.3l7 -14h-14zM912.1 451.4l7 -14h-14zM917.7 453.4l7 -14h-14zM920.9 448.6l7 -14h-14zM923.7 445.5l7 -14h-14zM925.5 443.0l7 -14h-14zM930.6 442.1l7 -14h-14zM932.5 444.3l7 -14h-14zM932.7 440.5l7 -14h-14z"/>
<path stroke="#800080" d="M520.5 116.6l7 -14h-14zM520.8 116.8l7 -14h-14zM521.2 117.8l7 -14h-14zM522.2 111.4l7 -14h-14zM522.8 116.5l7 -14h-14zM523.8 118.0l7 -14h-14zM523.9 117.0l7 -14h-14zM525.7 116.4l7 -14h-14zM526.5 118.5l7 -14h-14zM527.3 116.1l7 -14h-14zM527.5 117.4l7 -14h-14zM528.8 117.7l7 -14h-14zM529.8 117.6l7 -14h-14zM530.1 117.7l7 -14h-14zM530.8 115.7l7 -14h-14zM530.9 118.7l7 -14h-14zM532.7 117.1l7 -14h-14zM532.6 117.6l7 -14h-14zM533.7 115.4l7 -14h-14zM534.9 116.6l7 -14h-14zM535.1 114.8l7 -14h-14zM536.6 116.2l7 -14h-14zM536.7 114.7l7 -14h-14zM537.2 116.1l7 -14h-14zM538.4 113.9l7 -14h-14zM539.6 114.9l7 -14h-14zM539.9 115.3l7 -14h-14zM541.1 113.2l7 -14h-14zM542.3 113.3l7 -14h-14zM543.0 115.4l7 -14h-14zM543.5 113.9l7 -14h-14zM543.3 119.3l7 -14h-14zM544.1 113.9l7 -14h-14zM544.9 113.6l7 -14h-14zM545.7 117.7l7 -14h-14zM547.0 113.0l7 -14h-14zM547.7 115.9l7 -14h-14zM549.3 114.3l7 -14h-14zM549.1 116.1l7 -14h-14zM549.6 113.3l7 -14h-14zM551.1 116.4l7 -14h-14zM551.7 116.1l7 -14h-14zM551.8 117.4l7 -14h-14zM553.3 115.5l7 -14h-14zM553.9 116.3l7 -14h-14zM554.5 114.3l7 -14h-14zM555.3 114.7l7 -14h-14zM556.7 116.9l7 -14h-14zM556.5 112.6l7 -14h-14zM558.2 116.0l7 -14h-14zM558.5 112.8l7 -14h-14zM559.2 114.7l7 -14h-14zM559.6 111.0l7 -14h-14zM560.5 114.6l7 -14h-14zM560.8 112.8l7 -14h-14zM561.7 113.8l7 -14h-14zM562.3 117.3l7 -14h-14zM562.6 115.0l7 -14h-14zM563.3 117.0l7 -14h-14zM564.2 113.9l7 -14h-14zM565.2 112.8l7 -14h-14zM566.0 114.8l7 -14h-14zM566.1 111.1l7 -14h-14zM567.4 113.9l7 -14h-14zM568.5 115.2l7 -14h-14zM569.0 113.7l7 -14h-14zM570.4 113.6l7 -14h-14zM570.9 115.5l7 -14h-14zM571.9 119.2l7 -14h-14zM573.0 113.1l7 -14h-14zM573.8 112.1l7 -14h-14zM575.1 116.9l7 -14h-14zM575.9 111.8l7 -14h-14zM576.9 114.4l7 -14h-14zM576.8 114.4l7 -14h-14zM577.6 115.0l7 -14h-14zM578.9 114.4l7 -14h-14zM579.3 110.3l7 -14h-14zM580.3 112.2l7 -14h-14zM581.9 112.0l7 -14h-14zM582.8 114.7l7 -14h-14zM583.2 116.0l7 -14h-14zM583.5 108.4l7 -14h-14zM585.5 110.9l7 -14h-14zM585.2 111.9l7 -14h-14zM585.6 114.0l7 -14h-14zM586.8 116.4l7 -14h-14zM587.7 112.6l7 -14h-14zM588.6 113.1l7 -14h-14zM589.1 113.9l7 -14h-14zM589.7 111.5l7 -14h-14zM590.3 111.3l7 -14h-14zM590.6 113.7l7 -14h-14zM591.9 114.4l7 -14h-14zM592.4 111.7l7 -14h-14zM593.6 112.8l7 -14h-14zM594.7 112.3l7 -14h-14zM595.5 112.1l7 -14h-14zM596.4 110.2l7 -14h-14zM596.9 114.5l7 -14h-14zM597.4 112.0l7 -14h-14zM598.4 113.8l7 -14h-14zM598.5 110.7l7 -14h-14zM600.5 109.3l7 -14h-14zM601.1 113.3l7 -14h-14zM602.3 111.4l7 -14h-14zM603.2 112.1l7 -14h-14zM604.0 108.9l7 -14h-14zM605.1 108.6l7 -14h-14zM605.7 107.7l7 -14h-14zM608.4 111.9l7 -14h-14zM606.2 114.4l7 -14h-14zM609.5 110.0l7 -14h-14zM609.5 111.5l7 -14h-14zM610.0 112.9l7 -14h-14zM612.0 114.6l7 -14h-14zM614.1 118.0l7 -14h-14zM614.9 115.8l7 -14h-14zM617.2 120.2l7 -14h-14zM617.6 119.1l7 -14h-14zM619.8 123.2l7 -14h-14zM624.3 121.9l7 -14h-14zM625.6 126.3l7 -14h-14zM624.4 128.9l7 -14h-14zM629.1 136.2l7 -14h-14zM630.0 136.2l7 -14h-14zM632.2 137.4l7 -14h-14zM634.7 138.0l7 -14h-14zM638.9 144.1l7 -14h-14zM642.0 144.8l7 -14h-14zM643.5 147.2l7 -14h-14zM646.0 154.4l7 -14h-14zM649.0 158.1l7 -14h-14zM652.7 167.0l7 -14h-14zM659.9 166.9l7 -14h-14zM655.7 167.2l7 -14h-14zM664.8 177.7l7 -14h-14zM667.5 175.8l7 -14h-14zM673.1 188.2l7 -14h-14zM675.7 189.2l7 -14h-14zM675.8 193.4l7 -14h-14zM680.0 195.1l7 -14h-14zM685.2 198.8l7 -14h-14zM686.4 202.8l7 -14h-14zM686.4 203.7l7 -14h-14zM690.2 203.9l7 -14h-14zM697.1 213.0l7 -14h-14zM699.3 215.6l7 -14h-14zM700.3 220.9l7 -14h-14zM703.1 220.6l7 -14h-14zM708.4 229.3l7 -14h-14zM709.9 229.7l7 -14h-14zM716.9 237.0l7 -14h-14zM720.4 247.6l7 -14h-14zM720.6 245.3l7 -14h-14zM722.8 246.4l7 -14h-14zM730.6 252.6l7 -14h-14zM730.3 259.0l7 -14h-14zM731.8 254.1l7 -14h-14zM737.8 263.8l7 -14h-14zM739.3 258.2l7 -14h-14zM740.0 266.7l7 -14h-14zM747.8 272.6l7 -14h-14zM749.5 268.0l7 -14h-14zM750.2 274.1l7 -14h-14zM751.1 278.3l7 -14h-14zM756.6 277.1l7 -14h-14zM763.0 282.3l7 -14h-14zM760.0 284.0l7 -14h-14zM768.2 289.0l7 -14h-14zM769.3 297.7l7 -14h-14zM772.9 290.1l7 -14h-14zM775.7 291.9l7 -14h-14zM777.9 298.9l7 -14h-14zM780.1 303.6l7 -14h-14zM783.3 306.2l7 -14h-14zM786.4 312.4l7 -14h-14zM790.0 315.1l7 -14h-14zM790.4 316.2l7 -14h-14zM794.4 322.0l7 -14h-14zM801.1 324.0l7 -14h-14zM802.0 326.5l7 -14h-14zM809.0 330.8l7 -14h-14zM813.5 337.7l7 -14h-14zM815.6 341.6l7 -14h-14zM816.9 336.5l7 -14h-14zM817.4 337.9l7 -14h-14zM821.7 344.3l7 -14h-14zM828.2 354.9l7 -14h-14zM832.9 353.8l7 -14h-14zM836.2 354.3l7 -14h-14zM834.9 364.0l7 -14h-14zM836.1 364.4l7 -14h-14zM838.2 365.9l7 -14h-14zM842.7 370.1l7 -14h-14zM848.1 370.2l7 -14h-14zM847.6 374.0l7 -14h-14zM850.7 373.2l7 -14h-14zM856.8 382.9l7 -14h-14zM855.4 389.3l7 -14h-14zM855.1 382.6l7 -14h-14zM866.2 385.7l7 -14h-14zM864.4 392.7l7 -14h-14zM869.2 396.1l7 -14h-14zM875.0 399.1l7 -14h-14zM877.0 408.6l7 -14h-14zM877.4 415.5l7 -14h-14zM882.5 412.3l7 -14h-14zM884.6 419.0l7 -14h-14zM889.1 418.1l7 -14h-14zM887.9 423.9l7 -14h-14zM894.6 428.7l7 -14h-14zM901.1 430.5l7 -14h-14zM901.3 431.3l7 -14h-14zM903.8 431.8l7 -14h-14zM905.2 436.1l7 -14h-14zM909.6 436.9l7 -14h-14zM915.0 434.3l7 -14h-14zM915.7 448.2l7 -14h-14zM917.2 443.5l7 -14h-14zM919.1 444.6l7 -14h-14zM926.7 447.0l7 -14h-14zM926.2 443.6l7 -14h-14zM935.1 448.5l7 -14h-14z"/>
<path stroke="#a30058" d="M519.7 109.5l7 -14h-14zM521.0 113.8l7 -14h-14zM521.0 106.1l7 -14h-14zM521.7 114.1l7 -14h-14zM522.8 109.2l7 -14h-14zM524.0 112.5l7 -14h-14zM524.7 109.1l7 -14h-14zM525.6 111.2l7 -14h-14zM526.4 112.1l7 -14h-14zM527.9 110.6l7 -14h-14zM528.6 112.1l7 -14h-14zM529.4 110.1l7 -14h-14zM530.2 109.6l7 -14h-14zM531.1 109.4l7 -14h-14zM532.3 108.0l7 -14h-14zM533.1 111.0l7 -14h-14zM533.6 109.8l7 -14h-14zM534.6 114.1l7 -14h-14zM535.4 110.0l7 -14h-14zM535.6 113.4l7 -14h-14zM537.0 105.7l7 -14h-14zM537.8 111.9l7 -14h-14zM538.0 111.6l7 -14h-14zM539.7 113.2l7 -14h-14zM540.2 114.6l7 -14h-14zM542.0 111.9l7 -14h-14zM541.7 114.3l7 -14h-14zM543.1 110.3l7 -14h-14zM543.3 110.0l7 -14h-14zM544.1 113.1l7 -14h-14zM545.0 111.6l7 -14h-14zM545.9 113.3l7 -14h-14zM546.6 109.3l7 -14h-14zM547.3 110.4l7 -14h-14zM547.7 111.6l7 -14h-14zM548.9 111.0l7 -14h-14zM549.8 112.8l7 -14h-14zM550.6 116.8l7 -14h-14zM551.2 110.7l7 -14h-14zM552.8 113.9l7 -14h-14zM553.4 110.6l7 -14h-14zM554.6 108.1l7 -14h-14zM555.4 108.1l7 -14h-14zM555.5 109.1l7 -14h-14zM556.0 106.9l7 -14h-14zM556.7 110.7l7 -14h-14zM557.3 112.4l7 -14h-14zM558.0 106.5l7 -14h-14zM559.0 110.2l7 -14h-14zM559.6 108.5l7 -14h-14zM559.9 113.5l7 -14h-14zM561.4 113.6l7 -14h-14zM561.7 111.7l7 -14h-14zM562.4 111.1l7 -14h-14zM563.3 110.1l7 -14h-14zM563.5 110.8l7 -14h-14zM565.0 114.2l7 -14h-14zM565.4 112.3l7 -14h-14zM566.4 111.5l7 -14h-14zM567.3 114.7l7 -14h-14zM568.0 111.4l7 -14h-14zM569.1 111.7l7 -14h-14zM570.0 110.1l7 -14h-14zM570.2 107.8l7 -14h-14zM571.0 111.2l7 -14h-14zM571.4 110.2l7 -14h-14zM571.7 112.7l7 -14h-14zM573.1 108.2l7 -14h-14zM573.4 108.3l7 -14h-14zM574.6 111.0l7 -14h-14zM575.8 109.4l7 -14h-14zM577.0 109.8l7 -14h-14zM577.5 110.9l7 -14h-14zM577.8 108.9l7 -14h-14zM578.8 110.6l7 -14h-14zM579.3 114.7l7 -14h-14zM579.9 111.1l7 -14h-14zM580.7 110.2l7 -14h-14zM582.0 111.3l7 -14h-14zM583.0 109.4l7 -14h-14zM583.2 111.8l7 -14h-14zM584.2 112.8l7 -14h-14zM585.5 109.8l7 -14h-14zM585.8 109.9l7 -14h-14zM586.4 111.9l7 -14h-14zM588.0 107.5l7 -14h-14zM588.6 113.6l7 -14h-14zM588.6 109.4l7 -14h-14zM589.1 107.1l7 -14h-14zM589.4 111.0l7 -14h-14zM590.0 108.7l7 -14h-14zM590.8 108.1l7 -14h-14zM591.8 108.9l7 -14h-14zM593.1 110.8l7 -14h-14zM593.6 111.7l7 -14h-14zM594.2 107.1l7 -14h-14zM595.0 110.8l7 -14h-14zM595.8 108.9l7 -14h-14zM596.2 110.3l7 -14h-14zM596.7 112.0l7 -14h-14zM597.0 111.4l7 -14h-14zM598.4 113.1l7 -14h-14zM599.5 108.9l7 -14h-14zM599.8 110.9l7 -14h-14zM600.7 111.7l7 -14h-14zM601.2 109.6l7 -14h-14zM602.2 109.2l7 -14h-14zM602.1 107.7l7 -14h-14zM604.9 107.9l7 -14h-14zM604.2 114.6l7 -14h-14zM606.4 109.6l7 -14h-14zM607.5 111.0l7 -14h-14zM607.6 111.2l7 -14h-14zM609.1 110.0l7 -14h-14zM609.6 111.2l7 -14h-14zM610.6 111.9l7 -14h-14zM611.8 109.3l7 -14h-14zM611.9 114.4l7 -14h-14zM614.1 113.1l7 -14h-14zM613.7 112.9l7 -14h-14zM618.1 115.2l7 -14h-14zM619.5 119.8l7 -14h-14zM622.4 122.3l7 -14h-14zM621.8 118.8l7 -14h-14zM622.8 122.6l7 -14h-14zM625.8 121.1l7 -14h-14zM627.4 122.2l7 -14h-14zM630.4 127.0l7 -14h-14zM630.9 129.3l7 -14h-14zM634.0 135.5l7 -14h-14zM637.5 129.7l7 -14h-14zM639.9 132.2l7 -14h-14zM642.6 132.2l7 -14h-14zM648.9 137.6l7 -14h-14zM649.9 144.9l7 -14h-14zM652.2 148.9l7 -14h-14zM657.4 155.9l7 -14h-14zM658.6 158.2l7 -14h-14zM662.0 159.0l7 -14h-14zM666.3 163.7l7 -14h-14zM668.7 168.0l7 -14h-14zM670.1 161.3l7 -14h-14zM676.7 164.1l7 -14h-14zM673.4 172.9l7 -14h-14zM679.2 175.5l7 -14h-14zM682.0 172.4l7 -14h-14zM684.2 178.1l7 -14h-14zM685.1 178.9l7 -14h-14zM686.5 185.2l7 -14h-14zM692.3 192.9l7 -14h-14zM694.4 193.4l7 -14h-14zM695.6 197.8l7 -14h-14zM702.4 196.4l7 -14h-14zM704.3 200.1l7 -14h-14zM705.0 206.7l7 -14h-14zM710.2 204.0l7 -14h-14zM712.2 208.6l7 -14h-14zM714.0 214.2l7 -14h-14zM719.2 213.0l7 -14h-14zM720.9 211.7l7 -14h-14zM723.1 223.5l7 -14h-14zM727.2 223.9l7 -14h-14zM732.0 229.1l7 -14h-14zM735.4 230.2l7 -14h-14zM736.4 226.8l7 -14h-14zM742.9 235.6l7 -14h-14zM744.1 235.2l7 -14h-14zM749.3 239.0l7 -14h-14zM749.9 240.3l7 -14h-14zM752.2 245.1l7 -14h-14zM757.0 249.0l7 -14h-14zM758.9 247.8l7 -14h-14zM759.1 254.3l7 -14h-14zM762.9 260.6l7 -14h-14zM768.8 257.7l7 -14h-14zM768.6 264.1l7 -14h-14zM775.9 263.7l7 -14h-14zM776.7 266.9l7 -14h-14zM781.6 267.5l7 -14h-14zM782.3 275.1l7 -14h-14zM785.3 274.7l7 -14h-14zM788.2 274.7l7 -14h-14zM791.9 283.4l7 -14h-14zM800.8 283.4l7 -14h-14zM802.0 287.9l7 -14h-14zM804.3 285.9l7 -14h-14zM810.7 291.1l7 -14h-14zM812.1 296.2l7 -14h-14zM815.4 302.1l7 -14h-14zM821.2 305.4l7 -14h-14zM822.7 306.7l7 -14h-14zM823.7 306.1l7 -14h-14zM826.1 314.4l7 -14h-14zM830.0 312.9l7 -14h-14zM834.0 317.0l7 -14h-14zM837.0 317.1l7 -14h-14zM841.8 327.1l7 -14h-14zM845.5 331.0l7 -14h-14zM848.7 335.6l7 -14h-14zM853.3 334.0l7 -14h-14zM858.9 342.0l7 -14h-14zM863.9 343.8l7 -14h-14zM864.1 338.7l7 -14h-14zM865.7 347.6l7 -14h-14zM870.9 350.1l7 -14h-14zM876.1 357.0l7 -14h-14zM880.9 355.7l7 -14h-14zM880.3 357.1l7 -14h-14zM881.9 362.5l7 -14h-14zM885.1 373.6l7 -14h-14zM890.1 369.6l7 -14h-14zM894.7 373.3l7 -14h-14zM898.5 374.9l7 -14h-14zM896.3 376.9l7 -14h-14zM903.0 383.9l7 -14h-14zM906.6 391.1l7 -14h-14zM908.2 389.8l7 -14h-14zM912.4 395.2l7 -14h-14zM913.0 398.6l7 -14h-14zM919.1 405.8l7 -14h-14zM923.6 406.7l7 -14h-14zM928.5 409.7l7 -14h-14zM928.7 421.3l7 -14h-14zM933.6 421.3l7 -14h-14zM937.9 418.6l7 -14h-14z"/>
<path stroke="#cc0033" d="M520.2 105.5l7 -14h-14zM521.5 103.2l7 -14h-14zM522.1 105.3l7 -14h-14zM523.0 103.7l7 -14h-14zM522.9 103.1l7 -14h-14zM524.2 102.9l7 -14h-14zM525.4 101.9l7 -14h-14zM526.4 105.0l7 -14h-14zM527.0 104.4l7 -14h-14zM527.9 107.1l7 -14h-14zM528.3 104.1l7 -14h-14zM529.6 109.7l7 -14h-14zM530.8 105.3l7 -14h-14zM531.5 104.0l7 -14h-14zM532.8 106.4l7 -14h-14zM533.2 104.2l7 -14h-14zM533.9 107.2l7 -14h-14zM534.9 103.4l7 -14h-14zM535.4 102.7l7 -14h-14zM535.9 109.7l7 -14h-14zM537.2 106.3l7 -14h-14zM537.5 106.0l7 -14h-14zM538.1 104.1l7 -14h-14zM539.4 104.1l7 -14h-14zM540.3 104.7l7 -14h-14zM541.3 106.0l7 -14h-14zM542.0 106.0l7 -14h-14zM542.5 102.2l7 -14h-14zM542.6 107.9l7 -14h-14zM543.9 106.8l7 -14h-14zM544.3 107.7l7 -14h-14zM545.4 103.2l7 -14h-14zM546.2 105.2l7 -14h-14zM547.3 104.7l7 -14h-14zM548.3 105.7l7 -14h-14zM549.0 102.3l7 -14h-14zM549.9 107.5l7 -14h-14zM549.8 104.9l7 -14h-14zM550.9 100.8l7 -14h-14zM551.4 107.1l7 -14h-14zM552.7 104.2l7 -14h-14zM553.7 108.1l7 -14h-14zM554.7 102.6l7 -14h-14zM555.2 105.2l7 -14h-14zM555.6 103.4l7 -14h-14zM556.1 107.2l7 -14h-14zM557.1 104.0l7 -14h-14zM558.5 104.0l7 -14h-14zM558.8 104.9l7 -14h-14zM560.2 104.8l7 -14h-14zM560.5 108.6l7 -14h-14zM560.7 105.6l7 -14h-14zM561.9 105.7l7 -14h-14zM563.1 106.7l7 -14h-14zM564.0 106.9l7 -14h-14zM563.9 106.9l7 -14h-14zM565.0 105.9l7 -14h-14zM566.1 106.0l7 -14h-14zM567.0 106.0l7 -14h-14zM567.9 106.9l7 -14h-14zM568.6 106.8l7 -14h-14zM568.7 109.4l7 -14h-14zM569.9 104.8l7 -14h-14zM570.6 104.8l7 -14h-14zM571.8 107.2l7 -14h-14zM572.7 107.6l7 -14h-14zM573.2 109.1l7 -14h-14zM573.7 108.4l7 -14h-14zM574.6 108.2l7 -14h-14zM576.0 111.3l7 -14h-14zM576.1 109.5l7 -14h-14zM577.8 106.2l7 -14h-14zM579.1 108.5l7 -14h-14zM579.6 106.2l7 -14h-14zM579.5 108.1l7 -14h-14zM580.6 106.9l7 -14h-14zM581.2 107.0l7 -14h-14zM582.5 106.2l7 -14h-14zM582.3 108.0l7 -14h-14zM583.3 108.8l7 -14h-14zM584.1 109.0l7 -14h-14zM585.2 108.5l7 -14h-14zM586.0 108.0l7 -14h-14zM586.2 108.8l7 -14h-14zM587.9 110.6l7 -14h-14zM588.2 106.7l7 -14h-14zM589.7 105.6l7 -14h-14zM590.3 108.1l7 -14h-14zM591.0 107.9l7 -14h-14zM591.1 110.6l7 -14h-14zM592.1 110.8l7 -14h-14zM593.2 111.5l7 -14h-14zM594.3 106.2l7 -14h-14zM594.2 110.6l7 -14h-14zM596.3 111.9l7 -14h-14zM596.7 110.4l7 -14h-14zM597.5 112.1l7 -14h-14zM597.6 111.1l7 -14h-14zM598.7 109.2l7 -14h-14zM599.8 111.9l7 -14h-14zM601.3 110.3l7 -14h-14zM601.5 106.8l7 -14h-14zM602.4 110.9l7 -14h-14zM604.4 107.7l7 -14h-14zM604.4 109.3l7 -14h-14zM605.0 105.9l7 -14h-14zM605.6 108.6l7 -14h-14zM607.9 111.3l7 -14h-14zM610.4 109.4l7 -14h-14zM610.9 106.4l7 -14h-14zM612.3 107.9l7 -14h-14zM612.8 113.6l7 -14h-14zM616.8 111.0l7 -14h-14zM615.7 113.4l7 -14h-14zM618.4 116.3l7 -14h-14zM620.7 113.6l7 -14h-14zM619.8 113.9l7 -14h-14zM619.5 117.9l7 -14h-14zM623.2 110.5l7 -14h-14zM624.7 117.0l7 -14h-14zM628.0 117.9l7 -14h-14zM631.5 119.7l7 -14h-14zM635.5 120.5l7 -14h-14zM637.3 119.7l7 -14h-14zM637.5 119.0l7 -14h-14zM641.2 126.2l7 -14h-14zM643.0 127.8l7 -14h-14zM645.9 122.8l7 -14h-14zM646.5 126.0l7 -14h-14zM650.1 131.8l7 -14h-14zM653.6 134.2l7 -14h-14zM656.4 135.0l7 -14h-14zM658.1 137.2l7 -14h-14zM662.0 141.1l7 -14h-14zM666.7 144.4l7 -14h-14zM667.4 143.9l7 -14h-14zM671.6 147.4l7 -14h-14zM673.5 148.8l7 -14h-14zM677.5 156.8l7 -14h-14zM680.6 154.7l7 -14h-14zM684.3 158.4l7 -14h-14zM689.1 160.7l7 -14h-14zM688.6 161.7l7 -14h-14zM690.9 161.4l7 -14h-14zM688.8 164.5l7 -14h-14zM695.2 169.0l7 -14h-14zM697.5 167.8l7 -14h-14zM704.2 178.0l7 -14h-14zM708.9 185.7l7 -14h-14zM712.1 178.7l7 -14h-14zM713.2 182.3l7 -14h-14zM714.4 188.4l7 -14h-14zM723.8 189.2l7 -14h-14zM726.9 190.1l7 -14h-14zM726.3 194.2l7 -14h-14zM727.4 195.8l7 -14h-14zM735.6 197.7l7 -14h-14zM737.1 203.8l7 -14h-14zM741.8 205.3l7 -14h-14zM740.5 207.8l7 -14h-14zM747.3 213.3l7 -14h-14zM754.4 213.3l7 -14h-14zM754.0 216.9l7 -14h-14zM760.0 216.9l7 -14h-14zM760.4 220.3l7 -14h-14zM764.1 224.5l7 -14h-14zM768.6 221.7l7 -14h-14zM769.5 226.2l7 -14h-14zM775.8 225.8l7 -14h-14zM779.4 230.6l7 -14h-14zM782.1 234.0l7 -14h-14zM787.7 238.3l7 -14h-14zM790.5 238.5l7 -14h-14zM790.8 244.9l7 -14h-14zM797.8 246.5l7 -14h-14zM799.5 246.7l7 -14h-14zM801.0 252.8l7 -14h-14zM806.5 247.5l7 -14h-14zM805.0 246.4l7 -14h-14zM810.3 252.1l7 -14h-14zM813.1 252.6l7 -14h-14zM817.2 255.1l7 -14h-14zM818.5 259.1l7 -14h-14zM824.6 265.0l7 -14h-14zM829.9 270.0l7 -14h-14zM830.2 267.9l7 -14h-14zM839.6 274.0l7 -14h-14zM839.4 274.7l7 -14h-14zM838.8 276.4l7 -14h-14zM844.3 282.1l7 -14h-14zM851.4 281.3l7 -14h-14zM849.1 284.4l7 -14h-14zM859.6 287.2l7 -14h-14zM861.5 286.9l7 -14h-14zM864.4 294.8l7 -14h-14zM867.1 300.6l7 -14h-14zM871.0 295.7l7 -14h-14zM868.8 299.9l7 -14h-14zM871.9 302.4l7 -14h-14zM876.1 302.8l7 -14h-14zM882.8 306.2l7 -14h-14zM884.5 307.9l7 -14h-14zM887.9 308.0l7 -14h-14zM892.4 313.4l7 -14h-14zM896.2 318.6l7 -14h-14zM901.3 322.4l7 -14h-14zM902.6 321.1l7 -14h-14zM907.9 331.2l7 -14h-14zM911.8 325.4l7 -14h-14zM914.5 328.3l7 -14h-14zM919.7 334.5l7 -14h-14zM920.2 334.5l7 -14h-14zM922.5 338.6l7 -14h-14zM927.0 343.9l7 -14h-14zM931.3 342.5l7 -14h-14zM936.8 341.9l7 -14h-14z"/>
<path stroke="#ee0011" d="M520.5 104.4l7 -14h-14zM520.8 107.4l7 -14h-14zM522.1 106.0l7 -14h-14zM522.1 103.6l7 -14h-14zM522.8 103.8l7 -14h-14zM523.7 102.5l7 -14h-14zM524.5 104.4l7 -14h-14zM525.0 103.1l7 -14h-14zM526.3 104.6l7 -14h-14zM527.0 103.3l7 -14h-14zM527.8 102.6l7 -14h-14zM529.0 103.3l7 -14h-14zM528.9 104.8l7 -14h-14zM530.5 105.4l7 -14h-14zM530.5 105.1l7 -14h-14zM530.7 104.5l7 -14h-14zM531.4 105.7l7 -14h-14zM531.9 105.2l7 -14h-14zM532.8 108.2l7 -14h-14zM534.4 105.3l7 -14h-14zM534.7 104.8l7 -14h-14zM535.2 105.6l7 -14h-14zM535.9 104.9l7 -14h-14zM537.2 105.3l7 -14h-14zM538.4 104.4l7 -14h-14zM538.2 102.8l7 -14h-14zM539.9 107.1l7 -14h-14zM540.4 102.5l7 -14h-14zM541.5 103.5l7 -14h-14zM543.2 106.3l7 -14h-14zM543.4 107.1l7 -14h-14zM544.4 105.2l7 -14h-14zM545.2 104.3l7 -14h-14zM546.1 105.0l7 -14h-14zM546.5 105.2l7 -14h-14zM547.4 104.7l7 -14h-14zM548.4 103.7l7 -14h-14zM548.9 105.1l7 -14h-14zM549.9 104.3l7 -14h-14zM550.3 105.6l7 -14h-14zM552.1 105.3l7 -14h-14zM553.1 104.3l7 -14h-14zM554.2 107.7l7 -14h-14zM554.1 103.6l7 -14h-14zM555.5 103.8l7 -14h-14zM556.2 107.8l7 -14h-14zM556.4 105.9l7 -14h-14zM556.7 105.7l7 -14h-14zM557.7 104.2l7 -14h-14zM558.4 102.8l7 -14h-14zM559.5 104.6l7 -14h-14zM559.8 100.9l7 -14h-14zM561.2 107.8l7 -14h-14zM561.1 105.9l7 -14h-14zM562.8 103.4l7 -14h-14zM563.6 104.2l7 -14h-14zM563.7 107.1l7 -14h-14zM564.9 105.0l7 -14h-14zM565.3 107.9l7 -14h-14zM565.9 106.5l7 -14h-14zM567.0 106.0l7 -14h-14zM567.9 108.2l7 -14h-14zM568.7 107.2l7 -14h-14zM569.7 106.6l7 -14h-14zM570.7 104.6l7 -14h-14zM571.1 110.1l7 -14h-14zM572.3 106.2l7 -14h-14zM573.6 105.2l7 -14h-14zM573.9 106.4l7 -14h-14zM574.9 106.5l7 -14h-14zM575.8 106.9l7 -14h-14zM576.3 108.4l7 -14h-14zM577.9 106.7l7 -14h-14zM578.7 107.5l7 -14h-14zM579.5 106.8l7 -14h-14zM580.4 106.8l7 -14h-14zM581.4 108.1l7 -14h-14zM581.2 103.3l7 -14h-14zM582.2 101.7l7 -14h-14zM583.0 106.5l7 -14h-14zM583.7 104.4l7 -14h-14zM585.1 103.9l7 -14h-14zM585.5 107.5l7 -14h-14zM587.3 105.7l7 -14h-14zM587.8 106.4l7 -14h-14zM589.3 106.9l7 -14h-14zM589.8 105.2l7 -14h-14zM590.4 107.6l7 -14h-14zM591.5 106.1l7 -14h-14zM591.0 105.6l7 -14h-14zM592.5 105.9l7 -14h-14zM592.8 108.7l7 -14h-14zM594.0 106.5l7 -14h-14zM594.7 107.6l7 -14h-14zM596.1 105.8l7 -14h-14zM596.7 106.2l7 -14h-14zM597.9 105.0l7 -14h-14zM598.5 107.5l7 -14h-14zM598.9 106.9l7 -14h-14zM601.1 106.4l7 -14h-14zM601.3 109.6l7 -14h-14zM602.5 106.7l7 -14h-14zM602.4 108.3l7 -14h-14zM603.6 109.4l7 -14h-14zM604.5 106.6l7 -14h-14zM604.5 109.0l7 -14h-14zM606.1 108.2l7 -14h-14zM606.6 108.8l7 -14h-14zM607.6 111.1l7 -14h-14zM608.1 106.5l7 -14h-14zM609.0 106.0l7 -14h-14zM610.4 109.8l7 -14h-14zM610.5 105.5l7 -14h-14zM611.5 106.9l7 -14h-14zM612.3 108.2l7 -14h-14zM613.5 108.9l7 -14h-14zM614.6 108.6l7 -14h-14zM615.1 107.6l7 -14h-14zM615.8 108.0l7 -14h-14zM617.3 109.4l7 -14h-14zM617.2 106.3l7 -14h-14zM618.0 109.1l7 -14h-14zM619.3 103.9l7 -14h-14zM620.5 109.0l7 -14h-14zM620.7 109.9l7 -14h-14zM622.3 107.5l7 -14h-14zM622.7 108.2l7 -14h-14zM623.6 110.6l7 -14h-14zM623.8 111.7l7 -14h-14zM624.6 107.4l7 -14h-14zM625.5 110.1l7 -14h-14zM626.8 110.5l7 -14h-14zM627.3 107.9l7 -14h-14zM627.3 110.1l7 -14h-14zM628.3 111.0l7 -14h-14zM628.7 111.7l7 -14h-14zM629.9 111.4l7 -14h-14zM630.0 112.9l7 -14h-14zM630.5 113.9l7 -14h-14zM631.6 108.7l7 -14h-14zM632.6 110.8l7 -14h-14zM633.5 107.9l7 -14h-14zM634.2 109.6l7 -14h-14zM635.1 109.2l7 -14h-14zM636.8 111.6l7 -14h-14zM637.9 115.0l7 -14h-14zM638.2 108.6l7 -14h-14zM639.4 112.0l7 -14h-14zM640.1 110.4l7 -14h-14zM641.5 112.9l7 -14h-14zM642.5 112.7l7 -14h-14zM644.2 110.1l7 -14h-14zM644.8 110.3l7 -14h-14zM645.4 108.8l7 -14h-14zM646.4 110.0l7 -14h-14zM647.4 112.8l7 -14h-14zM649.1 113.8l7 -14h-14zM649.9 113.0l7 -14h-14zM650.4 110.9l7 -14h-14zM650.7 112.9l7 -14h-14zM652.1 109.9l7 -14h-14zM652.9 110.8l7 -14h-14zM652.8 113.7l7 -14h-14zM654.4 113.6l7 -14h-14zM655.1 112.7l7 -14h-14zM656.3 113.0l7 -14h-14zM657.1 111.7l7 -14h-14zM657.7 115.5l7 -14h-14zM658.9 115.1l7 -14h-14zM660.2 111.7l7 -14h-14zM660.6 115.2l7 -14h-14zM661.0 109.1l7 -14h-14zM661.3 114.9l7 -14h-14zM662.9 115.8l7 -14h-14zM663.7 113.4l7 -14h-14zM664.5 114.3l7 -14h-14zM665.6 112.0l7 -14h-14zM665.9 113.2l7 -14h-14zM666.0 116.9l7 -14h-14zM667.5 116.0l7 -14h-14zM668.2 115.7l7 -14h-14zM669.2 113.7l7 -14h-14zM670.3 113.2l7 -14h-14zM671.5 115.5l7 -14h-14zM672.3 113.1l7 -14h-14zM673.0 113.8l7 -14h-14zM674.0 115.2l7 -14h-14zM674.7 118.5l7 -14h-14zM675.8 112.9l7 -14h-14zM677.6 115.7l7 -14h-14zM678.2 113.9l7 -14h-14zM679.4 116.7l7 -14h-14zM680.2 116.8l7 -14h-14zM681.3 114.1l7 -14h-14zM682.1 118.7l7 -14h-14zM683.2 113.8l7 -14h-14zM684.0 114.0l7 -14h-14zM684.8 115.3l7 -14h-14zM686.1 118.1l7 -14h-14zM687.4 116.6l7 -14h-14zM688.5 118.1l7 -14h-14zM688.2 118.1l7 -14h-14zM689.1 114.5l7 -14h-14zM690.7 114.6l7 -14h-14zM691.3 117.9l7 -14h-14zM692.1 116.8l7 -14h-14zM692.3 118.0l7 -14h-14zM693.0 118.7l7 -14h-14zM695.1 118.7l7 -14h-14zM695.4 118.7l7 -14h-14zM696.6 118.1l7 -14h-14zM697.2 117.6l7 -14h-14zM698.1 121.0l7 -14h-14zM698.8 118.8l7 -14h-14zM699.9 119.7l7 -14h-14zM700.3 120.9l7 -14h-14zM702.1 119.0l7 -14h-14zM702.2 119.0l7 -14h-14zM703.0 117.7l7 -14h-14zM704.0 116.2l7 -14h-14zM705.2 118.4l7 -14h-14zM706.0 119.0l7 -14h-14zM705.8 116.9l7 -14h-14zM706.8 121.1l7 -14h-14zM707.0 120.3l7 -14h-14zM707.5 120.4l7 -14h-14zM709.2 118.5l7 -14h-14zM709.8 121.8l7 -14h-14zM710.5 123.3l7 -14h-14zM711.3 117.4l7 -14h-14zM712.3 122.6l7 -14h-14zM713.4 120.4l7 -14h-14zM713.8 121.1l7 -14h-14zM714.8 117.4l7 -14h-14zM715.5 121.4l7 -14h-14zM716.9 120.0l7 -14h-14zM718.3 120.0l7 -14h-14zM719.1 119.9l7 -14h-14zM719.3 120.0l7 -14h-14zM720.0 120.0l7 -14h-14zM721.1 120.7l7 -14h-14zM723.2 122.6l7 -14h-14zM723.5 120.1l7 -14h-14zM723.5 124.8l7 -14h-14zM724.6 120.0l7 -14h-14zM725.5 121.3l7 -14h-14zM726.4 121.8l7 -14h-14zM727.2 120.9l7 -14h-14zM727.9 120.7l7 -14h-14zM730.1 116.7l7 -14h-14zM730.4 124.1l7 -14h-14zM731.8 120.1l7 -14h-14zM732.7 120.3l7 -14h-14zM733.3 119.0l7 -14h-14zM733.9 122.1l7 -14h-14zM734.7 120.6l7 -14h-14zM735.1 121.8l7 -14h-14zM735.8 124.5l7 -14h-14zM736.7 124.9l7 -14h-14zM738.6 124.3l7 -14h-14zM739.4 123.2l7 -14h-14zM739.5 123.9l7 -14h-14zM740.5 122.8l7 -14h-14zM742.0 123.8l7 -14h-14zM743.4 123.2l7 -14h-14zM743.9 121.2l7 -14h-14zM744.2 126.4l7 -14h-14zM745.9 122.4l7 -14h-14zM745.8 121.8l7 -14h-14zM746.9 123.6l7 -14h-14zM747.4 126.4l7 -14h-14zM748.1 124.2l7 -14h-14zM749.2 122.8l7 -14h-14zM749.9 123.7l7 -14h-14zM751.5 127.4l7 -14h-14zM752.7 122.2l7 -14h-14zM752.9 122.8l7 -14h-14zM754.1 121.8l7 -14h-14zM755.1 125.3l7 -14h-14zM756.2 124.2l7 -14h-14zM756.9 125.7l7 -14h-14zM758.3 126.1l7 -14h-14zM758.6 124.7l7 -14h-14zM759.9 126.9l7 -14h-14zM760.0 125.6l7 -14h-14zM762.2 125.7l7 -14h-14zM762.5 127.5l7 -14h-14zM763.9 126.7l7 -14h-14zM764.5 123.1l7 -14h-14zM765.2 122.0l7 -14h-14zM766.4 128.6l7 -14h-14zM767.2 125.6l7 -14h-14zM768.0 125.7l7 -14h-14zM768.9 127.7l7 -14h-14zM770.1 129.2l7 -14h-14zM770.4 126.7l7 -14h-14zM771.1 128.8l7 -14h-14zM772.8 125.3l7 -14h-14zM773.3 124.9l7 -14h-14zM774.0 123.9l7 -14h-14zM775.1 128.7l7 -14h-14zM776.6 127.3l7 -14h-14zM777.6 128.2l7 -14h-14zM778.2 130.5l7 -14h-14zM779.0 125.8l7 -14h-14zM779.7 133.0l7 -14h-14zM781.1 129.0l7 -14h-14zM781.6 125.4l7 -14h-14zM782.3 131.1l7 -14h-14zM783.0 132.8l7 -14h-14zM784.7 129.4l7 -14h-14zM785.8 128.5l7 -14h-14zM786.6 131.9l7 -14h-14zM787.6 131.7l7 -14h-14zM788.7 126.3l7 -14h-14zM789.4 130.0l7 -14h-14zM790.1 130.8l7 -14h-14zM791.2 128.0l7 -14h-14zM792.3 130.3l7 -14h-14zM793.2 129.3l7 -14h-14zM794.6 131.0l7 -14h-14zM795.6 133.0l7 -14h-14zM796.6 134.1l7 -14h-14zM797.2 131.3l7 -14h-14zM798.5 131.7l7 -14h-14zM798.8 130.4l7 -14h-14zM800.5 131.6l7 -14h-14zM800.8 135.1l7 -14h-14zM801.4 132.2l7 -14h-14zM803.1 130.2l7 -14h-14zM803.4 131.5l7 -14h-14zM804.9 132.5l7 -14h-14zM805.9 133.8l7 -14h-14zM806.7 131.4l7 -14h-14zM807.9 135.1l7 -14h-14zM808.7 134.3l7 -14h-14zM809.9 132.9l7 -14h-14zM810.1 134.4l7 -14h-14zM810.5 136.5l7 -14h-14zM811.8 132.3l7 -14h-14zM813.1 133.8l7 -14h-14zM813.7 135.4l7 -14h-14zM815.6 134.8l7 -14h-14zM816.3 132.9l7 -14h-14zM816.8 134.2l7 -14h-14zM818.2 137.3l7 -14h-14zM819.1 135.5l7 -14h-14zM820.0 134.6l7 -14h-14zM821.9 134.7l7 -14h-14zM822.1 134.4l7 -14h-14zM822.8 134.1l7 -14h-14zM823.1 138.4l7 -14h-14zM824.0 135.6l7 -14h-14zM825.5 138.0l7 -14h-14zM826.5 136.2l7 -14h-14zM827.0 137.6l7 -14h-14zM829.2 137.3l7 -14h-14zM830.5 138.6l7 -14h-14zM832.0 140.3l7 -14h-14zM832.9 137.7l7 -14h-14zM833.6 135.3l7 -14h-14zM834.9 139.0l7 -14h-14zM835.2 141.2l7 -14h-14zM836.6 139.2l7 -14h-14zM837.2 138.0l7 -14h-14zM837.9 138.7l7 -14h-14zM839.0 135.4l7 -14h-14zM839.3 137.1l7 -14h-14zM840.6 139.8l7 -14h-14zM841.7 141.6l7 -14h-14zM842.8 142.2l7 -14h-14zM843.7 139.1l7 -14h-14zM844.8 138.5l7 -14h-14zM846.2 138.1l7 -14h-14zM846.6 138.2l7 -14h-14zM848.0 138.9l7 -14h-14zM847.9 137.8l7 -14h-14zM849.3 142.3l7 -14h-14zM850.7 137.2l7 -14h-14zM851.9 143.2l7 -14h-14zM853.1 142.6l7 -14h-14zM854.3 139.9l7 -14h-14zM854.9 141.6l7 -14h-14zM855.4 140.5l7 -14h-14zM855.9 143.9l7 -14h-14zM856.3 142.9l7 -14h-14zM857.3 143.0l7 -14h-14zM857.9 139.9l7 -14h-14zM858.7 143.5l7 -14h-14zM859.9 141.0l7 -14h-14zM861.4 143.7l7 -14h-14zM861.4 145.3l7 -14h-14zM862.9 142.1l7 -14h-14zM864.0 141.1l7 -14h-14zM865.2 142.6l7 -14h-14zM865.4 146.3l7 -14h-14zM866.6 141.4l7 -14h-14zM866.6 143.5l7 -14h-14zM867.5 143.4l7 -14h-14zM868.6 146.4l7 -14h-14zM870.0 142.7l7 -14h-14zM871.1 143.5l7 -14h-14zM871.6 143.4l7 -14h-14zM873.0 145.3l7 -14h-14zM873.5 143.3l7 -14h-14zM875.0 144.2l7 -14h-14zM875.9 143.3l7 -14h-14zM877.1 146.4l7 -14h-14zM877.0 145.8l7 -14h-14zM878.9 146.7l7 -14h-14zM879.6 143.3l7 -14h-14zM881.0 148.4l7 -14h-14zM882.0 147.0l7 -14h-14zM883.1 149.9l7 -14h-14zM883.1 150.3l7 -14h-14zM884.8 146.3l7 -14h-14zM885.5 147.9l7 -14h-14zM886.6 147.0l7 -14h-14zM888.4 148.3l7 -14h-14zM889.0 149.3l7 -14h-14zM889.1 148.4l7 -14h-14zM890.7 148.3l7 -14h-14zM892.4 151.9l7 -14h-14zM892.5 146.4l7 -14h-14zM893.7 149.7l7 -14h-14zM895.5 148.4l7 -14h-14zM896.3 149.0l7 -14h-14zM897.8 149.9l7 -14h-14zM898.7 151.0l7 -14h-14zM899.9 148.9l7 -14h-14zM900.7 153.2l7 -14h-14zM902.7 150.9l7 -14h-14zM903.2 151.1l7 -14h-14zM904.4 150.1l7 -14h-14zM905.5 152.5l7 -14h-14zM905.8 149.8l7 -14h-14zM906.4 151.4l7 -14h-14zM908.6 154.2l7 -14h-14zM908.8 154.8l7 -14h-14zM909.5 151.0l7 -14h-14zM911.2 150.4l7 -14h-14zM912.0 157.9l7 -14h-14zM913.5 154.5l7 -14h-14zM914.4 154.1l7 -14h-14zM915.2 153.3l7 -14h-14zM916.4 154.2l7 -14h-14zM917.0 153.6l7 -14h-14zM918.6 154.3l7 -14h-14zM919.7 152.6l7 -14h-14zM919.8 155.5l7 -14h-14zM920.8 155.1l7 -14h-14zM922.2 154.9l7 -14h-14zM923.5 154.9l7 -14h-14zM924.4 154.9l7 -14h-14zM926.1 157.8l7 -14h-14zM927.4 156.6l7 -14h-14zM928.0 155.2l7 -14h-14zM929.3 158.0l7 -14h-14zM930.6 157.8l7 -14h-14zM931.5 157.3l7 -14h-14zM933.2 160.1l7 -14h-14zM934.7 159.9l7 -14h-14zM935.6 158.8l7 -14h-14zM935.8 159.9l7 -14h-14z"/>
</g>
<rect x="525.4" y="57" width="406.4" height="431.1" fill="none" stroke="#000" stroke-width="1.8"/>
<line x1="517.8" y1="97.15" x2="525.4" y2="97.15" stroke="#000" stroke-width="1.8"/>
<text font-size="22" transform="matrix(1.1045 0.0000 0.0000 1.0800 470.6909 104.6000)">10</text>
<text font-size="15.5" transform="matrix(1.2429 0.0000 0.0000 1.1700 498.0571 96.8000)">0</text>
<line x1="517.8" y1="241.62" x2="525.4" y2="241.62" stroke="#000" stroke-width="1.8"/>
<text font-size="22" transform="matrix(1.1045 0.0000 0.0000 1.0800 457.8909 249.9000)">10</text>
<text font-size="15.5" transform="matrix(1.2375 0.0000 0.0000 1.1100 485.8625 241.5000)">−1</text>
<line x1="517.8" y1="386.09" x2="525.4" y2="386.09" stroke="#000" stroke-width="1.8"/>
<text font-size="22" transform="matrix(1.1045 0.0000 0.0000 1.0800 457.8909 393.7000)">10</text>
<text font-size="15.5" transform="matrix(1.2375 0.0000 0.0000 1.1100 485.8625 384.7000)">−2</text>
<line x1="521.2" y1="487.07" x2="525.4" y2="487.07" stroke="#000" stroke-width="1.3"/>
<line x1="521.2" y1="461.63" x2="525.4" y2="461.63" stroke="#000" stroke-width="1.3"/>
<line x1="521.2" y1="443.58" x2="525.4" y2="443.58" stroke="#000" stroke-width="1.3"/>
<line x1="521.2" y1="429.58" x2="525.4" y2="429.58" stroke="#000" stroke-width="1.3"/>
<line x1="521.2" y1="418.14" x2="525.4" y2="418.14" stroke="#000" stroke-width="1.3"/>
<line x1="521.2" y1="408.47" x2="525.4" y2="408.47" stroke="#000" stroke-width="1.3"/>
<line x1="521.2" y1="400.09" x2="525.4" y2="400.09" stroke="#000" stroke-width="1.3"/>
<line x1="521.2" y1="392.7" x2="525.4" y2="392.7" stroke="#000" stroke-width="1.3"/>
<line x1="521.2" y1="342.6" x2="525.4" y2="342.6" stroke="#000" stroke-width="1.3"/>
<line x1="521.2" y1="317.16" x2="525.4" y2="317.16" stroke="#000" stroke-width="1.3"/>
<line x1="521.2" y1="299.11" x2="525.4" y2="299.11" stroke="#000" stroke-width="1.3"/>
<line x1="521.2" y1="285.11" x2="525.4" y2="285.11" stroke="#000" stroke-width="1.3"/>
<line x1="521.2" y1="273.67" x2="525.4" y2="273.67" stroke="#000" stroke-width="1.3"/>
<line x1="521.2" y1="264" x2="525.4" y2="264" stroke="#000" stroke-width="1.3"/>
<line x1="521.2" y1="255.62" x2="525.4" y2="255.62" stroke="#000" stroke-width="1.3"/>
<line x1="521.2" y1="248.23" x2="525.4" y2="248.23" stroke="#000" stroke-width="1.3"/>
<line x1="521.2" y1="198.13" x2="525.4" y2="198.13" stroke="#000" stroke-width="1.3"/>
<line x1="521.2" y1="172.69" x2="525.4" y2="172.69" stroke="#000" stroke-width="1.3"/>
<line x1="521.2" y1="154.64" x2="525.4" y2="154.64" stroke="#000" stroke-width="1.3"/>
<line x1="521.2" y1="140.64" x2="525.4" y2="140.64" stroke="#000" stroke-width="1.3"/>
<line x1="521.2" y1="129.2" x2="525.4" y2="129.2" stroke="#000" stroke-width="1.3"/>
<line x1="521.2" y1="119.53" x2="525.4" y2="119.53" stroke="#000" stroke-width="1.3"/>
<line x1="521.2" y1="111.15" x2="525.4" y2="111.15" stroke="#000" stroke-width="1.3"/>
<line x1="521.2" y1="103.76" x2="525.4" y2="103.76" stroke="#000" stroke-width="1.3"/>
<line x1="566.04" y1="488.1" x2="566.04" y2="495.7" stroke="#000" stroke-width="1.8"/>
<text font-size="22" transform="matrix(1.1943 0.0000 0.0000 1.1204 533.1540 520.0146)">−0.24</text>
<line x1="647.32" y1="488.1" x2="647.32" y2="495.7" stroke="#000" stroke-width="1.8"/>
<text font-size="22" transform="matrix(1.1762 0.0000 0.0000 1.1204 614.4521 520.0146)">−0.22</text>
<line x1="728.6" y1="488.1" x2="728.6" y2="495.7" stroke="#000" stroke-width="1.8"/>
<text font-size="22" transform="matrix(1.1900 0.0000 0.0000 1.1204 695.7182 520.0146)">−0.20</text>
<line x1="809.88" y1="488.1" x2="809.88" y2="495.7" stroke="#000" stroke-width="1.8"/>
<text font-size="22" transform="matrix(1.1892 0.0000 0.0000 1.1204 776.9991 520.0146)">−0.18</text>
<line x1="891.16" y1="488.1" x2="891.16" y2="495.7" stroke="#000" stroke-width="1.8"/>
<text font-size="22" transform="matrix(1.1914 0.0000 0.0000 1.1204 858.2768 520.0146)">−0.16</text>
<path d="M566.5 304 l7 -14h-14z" fill="none" stroke="#3300cc" stroke-width="1.8"/>
<text font-size="22" transform="matrix(1.1354 0.0000 0.0000 1.0994 605.9921 304.2000)">21 mK</text>
<path d="M566.5 336 l7 -14h-14z" fill="none" stroke="#5500aa" stroke-width="1.8"/>
<text font-size="22" transform="matrix(1.1366 0.0000 0.0000 1.1204 605.9149 336.5146)">60 mK</text>
<path d="M566.5 368 l7 -14h-14z" fill="none" stroke="#800080" stroke-width="1.8"/>
<text font-size="22" transform="matrix(1.1468 0.0000 0.0000 1.1204 605.6476 368.5146)">100 mK</text>
<path d="M566.5 400 l7 -14h-14z" fill="none" stroke="#a30058" stroke-width="1.8"/>
<text font-size="22" transform="matrix(1.1468 0.0000 0.0000 1.1204 605.6476 400.5146)">130 mK</text>
<path d="M566.5 432 l7 -14h-14z" fill="none" stroke="#cc0033" stroke-width="1.8"/>
<text font-size="22" transform="matrix(1.1468 0.0000 0.0000 1.1204 605.6476 432.5146)">180 mK</text>
<path d="M566.5 464 l7 -14h-14z" fill="none" stroke="#ee0011" stroke-width="1.8"/>
<text font-size="22" transform="matrix(1.1411 0.0000 0.0000 1.1204 606.0731 464.5146)">550 mK</text>
<g clip-path="url(#cb)">
<path d="M140.5 1160.4 141.9 1158.7 143.4 1157.0 144.8 1155.3 146.2 1153.5 147.7 1151.8 149.1 1150.0 150.5 1148.2 152.0 1146.4 153.4 1144.6 154.8 1142.8 156.3 1141.0 157.7 1139.1 159.1 1137.2 160.6 1135.3 162.0 1133.2 163.4 1131.1 164.8 1128.9 166.3 1126.6 167.7 1124.3 169.1 1121.8 170.6 1119.4 172.0 1117.0 173.4 1114.5 174.9 1112.1 176.3 1109.8 177.7 1107.5 179.2 1105.3 180.6 1103.2 182.0 1101.0 183.5 1098.9 184.9 1096.7 186.3 1094.5 187.8 1092.2 189.2 1089.8 190.6 1087.4 192.1 1084.9 193.5 1082.3 194.9 1079.7 196.4 1077.1 197.8 1074.4 199.2 1071.8 200.7 1069.2 202.1 1066.6 203.5 1064.1 204.9 1061.5 206.4 1058.9 207.8 1056.2 209.2 1053.4 210.7 1050.4 212.1 1047.2 213.5 1043.8 215.0 1040.1 216.4 1036.4 217.8 1032.6 219.3 1028.9 220.7 1025.3 222.1 1021.8 223.6 1018.1 225.0 1014.4 225.5 1013.1 225.9 1012.0 226.4 1010.9 226.8 1009.8 227.3 1008.7 227.7 1007.7 228.2 1006.6 228.6 1005.6 229.0 1004.7 229.5 1003.7 229.9 1002.8 230.4 1001.9 230.8 1001.1 231.2 1000.3 231.7 999.5 232.1 998.8 232.6 998.0 233.0 997.3 233.5 996.6 233.9 995.9 234.3 995.2 234.8 994.5 235.2 993.9 235.7 993.3 236.1 992.8 236.6 992.2 237.0 991.8 237.4 991.3 237.9 990.9 238.3 990.5 238.8 990.2 239.2 989.8 239.6 989.4 240.1 989.1 240.5 988.7 241.0 988.4 241.4 988.1 241.9 987.8 242.3 987.6 242.7 987.4 243.2 987.2 243.6 987.1 244.1 987.0 244.5 987.0 245.0 987.0 245.4 987.1 245.8 987.2 246.3 987.4 246.7 987.6 247.2 987.8 247.6 988.1 248.0 988.4 248.5 988.7 248.9 989.0 249.4 989.3 249.8 989.7 250.3 990.2 250.7 990.8 251.1 991.5 251.6 992.3 252.0 993.2 252.5 994.1 252.9 995.2 253.4 996.2 253.8 997.4 254.2 998.5 254.7 999.7 255.1 1000.9 255.6 1002.2 256.0 1003.7 256.4 1005.3 256.9 1006.9 257.3 1008.7 257.8 1010.4 258.2 1012.2 258.7 1014.0 259.1 1015.8 259.5 1017.6 260.0 1019.4 260.4 1021.2 260.9 1023.1 261.3 1025.0 261.8 1027.0 262.2 1029.1 262.6 1031.3 263.1 1033.6 263.5 1036.1 264.0 1038.8 264.4 1041.7 264.8 1044.9 265.3 1048.2 265.7 1051.7 266.2 1055.3 266.6 1059.0 267.1 1062.8 267.5 1066.6 267.9 1070.5 268.4 1074.4 268.8 1078.4 269.3 1082.6 269.7 1086.9 270.2 1091.3 270.6 1095.8 271.0 1100.2 271.5 1104.7 271.9 1109.2 272.4 1113.6 272.8 1118.0 273.2 1122.5 273.7 1126.9 274.1 1131.4 274.6 1135.9 275.0 1140.4 275.5 1144.9 275.9 1149.3 276.3 1153.7 276.8 1157.9 277.2 1162.1 277.7 1166.2 278.1 1170.2 278.6 1174.2 279.0 1178.2 279.4 1182.1 279.9 1185.9 280.3 1189.8 280.8 1193.6 281.2 1197.4 281.6 1201.2 282.1 1205.0 282.5 1208.8 283.0 1212.5 283.4 1216.1 283.9 1219.8 284.3 1223.4 284.7 1227.1 285.2 1230.7 285.6 1234.3 286.1 1237.9 286.5 1241.6 286.9 1245.2 287.4 1248.9 287.8 1252.6 288.3 1256.4 288.7 1260.2 289.2 1264.1 289.6 1268.1 290.0 1272.2 290.5 1276.4 290.9 1280.5 291.4 1284.6 291.8 1288.5 292.3 1292.2 292.7 1295.8 293.1 1299.0 293.6 1302.1 294.0 1305.1 294.5 1308.1 294.9 1310.9 295.3 1313.7 295.8 1316.4 296.2 1319.1 296.7 1321.7 297.1 1324.3 297.6 1326.8 298.0 1329.2 298.4 1331.6 298.9 1334.0 299.3 1336.3 299.8 1338.7 300.2 1340.9 300.7 1343.2 301.1 1345.5 301.5 1347.7 302.0 1349.9 302.4 1352.1 302.9 1354.3 303.3 1356.5 303.7 1358.7 304.2 1360.9 304.6 1363.0 305.1 1365.2 305.5 1367.3 306.0 1369.3 306.4 1371.4 306.8 1373.4 307.3 1375.4 307.7 1377.4 308.2 1379.3 308.6 1381.2 309.1 1383.1 309.5 1384.9 309.9 1386.7 310.4 1388.4 310.8 1390.1 311.3 1391.8 311.7 1393.3 312.1 1394.9 312.6 1396.4 313.0 1397.8 313.5 1399.3 313.9 1400.7 314.4 1402.1 314.8 1403.5 315.2 1404.9 315.7 1406.3 316.1 1407.6 316.6 1408.9 317.0 1410.3 317.5 1411.6 317.9 1412.9 318.3 1414.1 318.8 1415.4 319.2 1416.6 319.7 1417.8 320.1 1419.0 320.5 1420.2 321.0 1421.3 321.4 1422.4 321.9 1423.5 322.3 1424.6 322.8 1425.7 323.2 1426.7 323.6 1427.7 324.1 1428.7 324.5 1429.6 325.0 1430.5 325.4 1431.4 325.9 1432.3 326.3 1433.1 326.7 1433.9 327.2 1434.7 327.6 1435.4 328.1 1436.1 328.5 1436.8 328.9 1437.5 329.4 1438.1 329.8 1438.8 330.3 1439.5 330.7 1440.1 331.2 1440.8 331.6 1441.4 332.0 1442.0 332.5 1442.7 332.9 1443.3 333.4 1443.9 333.8 1444.5 334.3 1445.1 334.7 1445.7 335.1 1446.2 335.6 1446.8 336.0 1447.3 336.5 1447.9 336.9 1448.4 337.3 1449.0 337.8 1449.5 338.2 1450.0 338.7 1450.5 339.1 1451.0 339.6 1451.5 340.0 1452.0 341.0 1453.0 348.3 1459.0 355.6 1462.7 362.9 1465.7 370.1 1467.8 377.4 1469.1 384.7 1469.9 392.0 1470.6 399.3 1471.1 406.6 1471.5 413.9 1471.9 421.1 1472.3 428.4 1472.7 435.7 1473.1 443.0 1473.4 450.3 1473.5 457.6 1473.5 464.9 1473.5 472.1 1473.5 479.4 1473.5 486.7 1473.6 494.0 1473.6 501.3 1473.6 508.6 1473.6 515.9 1473.6 523.2 1473.6 530.4 1473.6 537.7 1473.6 545.0 1473.6 552.3 1473.6 559.6 1473.7 566.9 1473.7 574.2 1473.7 581.4 1473.7 588.7 1473.7 596.0 1473.7 603.3 1473.7 610.6 1473.7 617.9 1473.7 625.2 1473.7 632.4 1473.7 639.7 1473.7 647.0 1473.7 654.3 1473.7 661.6 1473.7 668.9 1473.7 676.2 1473.7 683.4 1473.8 690.7 1473.8 698.0 1473.8 705.3 1473.8 712.6 1473.8 719.9 1473.8 727.2 1473.8 734.4 1473.8 741.7 1473.8 749.0 1473.8 756.3 1473.8 763.6 1473.8 770.9 1473.8 778.2 1473.8 785.5 1473.8 792.7 1473.8 800.0 1473.8 807.3 1473.8 814.6 1473.8 821.9 1473.8 829.2 1473.8 836.5 1473.8 843.7 1473.8 851.0 1473.8 858.3 1473.8 865.6 1473.8 872.9 1473.8 880.2 1473.8 887.5 1473.8 894.7 1473.8 902.0 1473.8 909.3 1473.8 916.6 1473.8" fill="none" stroke="#1f77b4" stroke-width="3" stroke-linejoin="round"/>
<path d="M141.9 1140.6h0M141.1 1139.5h0M141.6 1132.9h0M141.4 1142.6h0M142.1 1137.8h0M142.7 1137.7h0M144.0 1142.7h0M143.5 1136.2h0M144.7 1141.8h0M145.4 1137.5h0M145.5 1131.5h0M145.9 1136.5h0M146.4 1134.9h0M146.1 1136.7h0M147.5 1134.7h0M148.1 1136.0h0M148.8 1136.9h0M150.2 1134.7h0M149.0 1137.7h0M151.1 1130.1h0M150.5 1132.5h0M151.3 1133.3h0M152.0 1132.8h0M151.2 1136.8h0M153.3 1130.2h0M153.0 1133.1h0M153.7 1129.6h0M155.2 1129.6h0M154.8 1124.7h0M155.4 1128.6h0M155.0 1126.2h0M156.7 1134.8h0M156.7 1125.1h0M157.1 1128.7h0M157.4 1131.2h0M158.4 1128.7h0M158.4 1122.8h0M159.5 1123.1h0M159.5 1129.3h0M159.0 1120.1h0M160.8 1123.8h0M161.1 1127.3h0M161.1 1117.7h0M161.5 1120.1h0M162.3 1119.3h0M163.0 1120.3h0M163.6 1123.6h0M163.2 1118.1h0M164.2 1119.0h0M163.9 1124.4h0M165.1 1123.8h0M165.7 1119.0h0M165.5 1116.9h0M166.2 1115.6h0M165.7 1120.3h0M167.0 1119.2h0M166.7 1120.9h0M168.3 1119.1h0M169.2 1118.9h0M169.8 1112.6h0M170.8 1119.2h0M171.2 1110.6h0M171.5 1121.2h0M171.6 1111.6h0M172.8 1114.4h0M172.5 1111.8h0M173.9 1119.3h0M173.5 1114.5h0M174.4 1116.6h0M174.6 1116.1h0M175.8 1110.3h0M175.7 1110.7h0M176.6 1109.1h0M176.3 1110.1h0M177.8 1114.8h0M177.3 1113.6h0M178.1 1113.8h0M178.1 1108.3h0M179.1 1107.2h0M179.3 1113.5h0M179.9 1110.3h0M181.6 1109.5h0M181.2 1107.6h0M181.9 1109.2h0M183.1 1110.7h0M184.5 1105.5h0M182.5 1104.4h0M184.7 1100.9h0M185.0 1104.0h0M185.7 1101.1h0M185.9 1098.8h0M186.7 1104.2h0M187.4 1103.7h0M187.3 1102.5h0M187.0 1096.8h0M188.0 1098.4h0M189.0 1099.2h0M190.0 1106.3h0M190.4 1101.4h0M190.0 1102.4h0M191.2 1098.4h0M191.7 1094.5h0M192.4 1104.0h0M192.8 1098.1h0M192.9 1097.6h0M194.5 1098.6h0M194.0 1094.8h0M196.0 1095.9h0M195.5 1090.2h0M196.2 1094.6h0M196.2 1089.4h0M197.2 1088.3h0M196.9 1093.7h0M197.4 1088.5h0M199.1 1089.4h0M197.9 1090.5h0M198.8 1089.7h0M200.4 1094.1h0M200.7 1089.0h0M201.4 1090.7h0M200.7 1091.0h0M200.0 1083.0h0M201.0 1083.1h0M202.0 1088.0h0M204.4 1084.5h0M202.8 1081.8h0M203.9 1087.2h0M204.3 1085.4h0M205.4 1082.2h0M205.5 1084.8h0M205.7 1073.6h0M206.7 1081.3h0M206.4 1083.8h0M207.4 1082.2h0M207.8 1079.6h0M207.2 1082.8h0M208.1 1080.2h0M208.5 1076.4h0M209.2 1077.3h0M210.0 1078.1h0M210.0 1076.9h0M210.6 1073.0h0M210.6 1064.3h0M211.1 1080.2h0M212.2 1072.0h0M212.1 1065.6h0M212.8 1068.2h0M212.7 1072.0h0M212.7 1064.2h0M213.6 1069.8h0M215.0 1066.3h0M216.6 1068.6h0M216.6 1059.7h0M216.0 1061.3h0M216.9 1062.7h0M217.4 1058.4h0M217.9 1052.7h0M218.5 1051.3h0M218.4 1050.6h0M219.5 1043.0h0M220.9 1048.2h0M219.7 1046.6h0M220.3 1041.8h0M221.2 1040.6h0M220.9 1042.1h0M221.9 1044.1h0M222.2 1036.3h0M222.0 1036.3h0M224.2 1033.9h0M223.2 1033.3h0M225.0 1033.4h0M225.4 1026.6h0M226.1 1021.3h0M226.4 1026.1h0M227.6 1029.8h0M227.9 1020.7h0M227.8 1024.4h0M228.7 1020.7h0M229.8 1014.7h0M230.5 1017.8h0M229.8 1012.9h0M230.6 1012.5h0M230.3 1011.8h0M231.5 1007.0h0M232.3 1008.5h0M232.4 1012.1h0M233.4 1006.6h0M234.7 1007.6h0M234.5 998.7h0M235.0 1008.4h0M234.7 1001.0h0M236.0 998.8h0M236.0 995.1h0M237.3 992.1h0M236.5 994.5h0M237.7 997.4h0M237.6 992.9h0M239.1 997.7h0M239.3 987.6h0M239.3 982.2h0M239.8 984.5h0M242.0 988.4h0M241.8 987.0h0M242.1 977.9h0M242.0 978.1h0M242.7 978.4h0M243.0 960.3h0M243.6 959.4h0M244.6 949.3h0M245.5 947.8h0M243.7 942.9h0M244.2 941.2h0M246.7 939.1h0M246.7 925.8h0M246.9 924.2h0M249.8 916.0h0M249.8 900.9h0M248.6 890.4h0M248.3 886.2h0M251.3 889.7h0M252.6 895.8h0M247.4 902.6h0M253.4 912.1h0M256.4 916.5h0M254.3 933.5h0M255.8 940.3h0M252.9 952.3h0M255.9 959.7h0M256.9 960.4h0M260.0 974.8h0M256.6 978.3h0M257.4 981.9h0M262.1 991.4h0M257.7 998.3h0M260.5 1015.0h0M260.9 1025.1h0M259.0 1031.8h0M263.1 1040.8h0M262.5 1052.0h0M263.0 1062.5h0M267.4 1080.1h0M259.2 1088.0h0M266.0 1107.3h0M266.3 1124.4h0M267.9 1129.6h0M267.3 1131.5h0M267.5 1153.6h0M269.8 1165.1h0M271.7 1168.5h0M273.1 1172.4h0M271.6 1181.5h0M274.3 1186.1h0M273.9 1193.7h0M273.8 1204.7h0M277.7 1210.6h0M277.5 1216.9h0M278.8 1216.7h0M277.3 1225.4h0M275.6 1243.9h0M281.7 1237.3h0M280.4 1251.5h0M279.1 1252.7h0M278.8 1254.6h0M283.5 1259.0h0M283.1 1262.6h0M285.2 1262.8h0M283.9 1275.8h0M282.8 1277.7h0M284.0 1285.9h0M286.9 1289.9h0M284.5 1296.1h0M287.4 1304.7h0M287.3 1308.5h0M288.4 1319.4h0M296.7 1321.1h0M286.2 1323.7h0M292.2 1327.1h0M289.9 1331.6h0M297.7 1341.5h0M293.3 1340.7h0M293.9 1346.9h0M295.9 1348.3h0M296.9 1346.1h0M295.8 1355.6h0M299.6 1357.4h0M297.8 1361.5h0M300.9 1369.3h0M298.9 1372.4h0M298.5 1372.5h0M299.9 1378.7h0M300.0 1380.0h0M299.3 1382.2h0M302.1 1392.7h0M301.7 1383.5h0M306.2 1390.7h0M309.3 1393.7h0M304.3 1399.5h0M307.3 1401.8h0M306.2 1400.2h0M310.8 1397.0h0M312.6 1412.3h0M309.2 1407.5h0M312.9 1410.6h0M307.9 1411.1h0M313.3 1412.1h0M315.2 1414.7h0M314.4 1412.9h0M316.0 1417.8h0M318.1 1420.1h0M321.5 1417.6h0M317.4 1418.7h0M317.6 1424.1h0M320.1 1426.5h0M317.5 1425.4h0M322.1 1427.7h0M318.6 1421.9h0M321.8 1428.6h0M320.6 1429.8h0M320.8 1431.1h0M324.6 1434.4h0M323.5 1435.6h0M324.0 1434.6h0M327.0 1435.1h0M326.0 1439.0h0M329.5 1436.1h0M331.1 1436.9h0M331.8 1440.6h0M335.1 1439.1h0M331.7 1443.0h0M331.7 1443.4h0M333.6 1442.9h0M332.8 1442.3h0M331.8 1442.7h0M336.5 1443.0h0M335.1 1448.2h0M336.2 1446.2h0M337.7 1447.1h0M339.5 1447.7h0M339.0 1447.6h0M336.7 1445.9h0M341.1 1449.0h0M342.2 1450.2h0M342.7 1447.3h0M345.5 1446.5h0M342.2 1449.0h0M346.9 1450.0h0M345.4 1451.3h0M344.7 1449.9h0M348.7 1452.0h0M347.1 1450.8h0M349.3 1449.7h0M347.3 1454.2h0M350.3 1452.9h0M350.5 1452.4h0M350.1 1452.7h0M352.4 1454.9h0M350.3 1452.6h0M354.2 1455.0h0M351.6 1456.8h0M353.6 1454.9h0M353.8 1456.8h0M352.1 1458.2h0M355.3 1459.5h0M355.4 1458.2h0M355.3 1455.9h0M356.5 1455.9h0M356.4 1457.7h0M358.8 1460.9h0M358.3 1458.6h0M359.5 1460.5h0M360.8 1460.2h0M361.5 1462.5h0M360.3 1460.1h0M362.3 1460.2h0M363.8 1459.9h0M364.8 1461.3h0M364.5 1461.8h0M365.4 1461.5h0M366.4 1462.3h0M367.8 1462.1h0M368.1 1461.4h0M367.5 1462.0h0M369.0 1461.8h0M369.9 1462.7h0M370.9 1462.7h0M371.5 1465.0h0M371.7 1463.4h0M372.8 1462.2h0M373.7 1463.2h0M373.9 1462.0h0M374.4 1463.7h0M375.7 1464.4h0M376.9 1463.7h0M376.6 1465.7h0M377.7 1464.8h0M378.1 1464.1h0M379.4 1466.0h0M380.4 1466.0h0M381.0 1465.2h0M381.3 1466.0h0M380.7 1464.8h0M382.6 1467.0h0M382.8 1464.6h0M383.1 1466.0h0M384.7 1465.5h0M386.5 1466.7h0M385.6 1465.3h0M386.8 1467.3h0M387.8 1467.3h0M389.0 1466.3h0M388.5 1467.9h0M389.9 1466.4h0M390.5 1467.7h0M391.7 1468.5h0M393.3 1468.4h0M394.1 1469.4h0M393.5 1467.9h0M394.2 1467.7h0M395.8 1470.3h0M397.1 1468.0h0M396.9 1470.6h0M398.5 1469.8h0M398.6 1470.0h0M399.4 1469.3h0M400.6 1468.7h0M401.2 1469.4h0M402.3 1469.6h0M402.0 1469.2h0M403.6 1468.7h0M404.2 1470.2h0M406.6 1469.2h0M405.6 1470.4h0M406.7 1470.2h0M408.1 1471.1h0M409.0 1470.7h0M409.4 1468.2h0M410.8 1470.4h0M409.6 1470.2h0M411.2 1472.1h0M412.0 1470.1h0M413.2 1470.1h0M413.5 1470.2h0M415.6 1470.4h0M415.7 1470.0h0M417.1 1472.0h0M417.4 1470.9h0M418.4 1471.1h0M419.3 1471.7h0M419.3 1469.7h0M420.1 1472.1h0M421.4 1470.6h0M422.0 1471.3h0M423.3 1470.6h0M424.0 1470.6h0M424.1 1470.8h0M425.5 1471.6h0M426.7 1471.7h0M428.0 1471.5h0M429.2 1472.3h0M430.4 1471.1h0M430.3 1470.4h0M431.9 1470.8h0M432.2 1471.3h0M432.1 1472.5h0M432.8 1472.3h0M433.2 1472.4h0M434.5 1472.3h0M435.3 1471.3h0M436.3 1471.5h0M437.9 1470.3h0M438.9 1472.1h0M438.5 1471.4h0M438.8 1472.2h0M440.5 1472.2h0M441.5 1471.5h0M441.5 1473.6h0M442.9 1471.8h0M444.1 1471.3h0M444.2 1473.0h0M444.9 1471.4h0M446.2 1473.4h0M447.0 1472.6h0M448.5 1471.0h0M448.3 1471.8h0M449.7 1472.8h0M449.9 1472.5h0M451.2 1472.7h0M452.2 1472.6h0M452.1 1472.4h0M451.9 1471.8h0M453.1 1471.8h0M454.5 1472.3h0M455.4 1472.6h0M456.4 1472.6h0M457.0 1471.4h0M457.9 1471.6h0M458.2 1473.9h0M459.6 1472.6h0M459.0 1471.8h0M460.3 1471.1h0M461.2 1472.1h0M462.1 1472.3h0M463.5 1471.7h0M464.5 1471.1h0M465.2 1473.1h0M466.0 1471.7h0M466.7 1472.2h0M467.5 1472.2h0M467.9 1471.5h0M467.7 1472.5h0M468.7 1471.3h0M470.0 1471.3h0M470.2 1473.3h0M471.1 1471.9h0M472.3 1472.1h0M472.4 1471.2h0M473.7 1472.4h0M474.5 1472.1h0M474.4 1471.8h0M476.3 1472.3h0M475.2 1472.1h0M475.8 1470.8h0M477.2 1471.7h0M478.7 1471.2h0M479.2 1470.9h0M479.2 1472.1h0M480.3 1469.9h0M480.7 1472.0h0M481.2 1471.4h0M482.6 1472.7h0M483.1 1472.3h0M483.3 1472.2h0M484.4 1472.0h0M484.9 1470.2h0M484.7 1471.2h0M486.5 1470.7h0M486.9 1471.6h0M487.6 1471.8h0M489.5 1471.2h0M489.7 1471.0h0M490.2 1471.6h0M491.1 1471.2h0M491.4 1471.1h0M492.5 1473.2h0M492.9 1471.1h0M493.4 1470.9h0M494.2 1471.4h0M496.0 1471.4h0M497.0 1472.1h0M496.7 1472.9h0M499.1 1470.4h0M499.2 1472.8h0M500.2 1471.7h0M500.5 1470.9h0M501.9 1470.7h0M502.6 1472.4h0M502.3 1470.1h0M504.4 1470.7h0M505.9 1472.3h0M505.3 1469.5h0M505.3 1470.6h0M506.2 1472.2h0M507.6 1471.3h0M508.1 1470.9h0M507.9 1471.8h0M508.6 1469.7h0M508.9 1470.3h0M510.3 1471.6h0M510.2 1470.7h0M511.8 1469.6h0M512.2 1472.9h0M513.7 1471.0h0M514.5 1471.7h0M515.2 1471.4h0M516.3 1471.1h0M517.0 1470.5h0M517.1 1471.0h0M517.9 1469.4h0M518.1 1470.3h0M519.6 1471.8h0M520.7 1470.8h0M521.6 1470.6h0M520.1 1471.0h0M521.2 1471.3h0M523.0 1471.6h0M524.1 1470.8h0M523.2 1470.4h0M524.9 1470.0h0M525.6 1470.5h0M526.2 1469.6h0M527.0 1471.0h0M527.7 1470.4h0M528.0 1471.2h0M530.3 1470.6h0M530.4 1470.2h0M531.0 1470.1h0M532.5 1471.1h0M532.3 1470.0h0M533.9 1470.6h0M533.7 1471.8h0M535.4 1471.6h0M535.7 1470.7h0M535.5 1470.8h0M536.9 1471.0h0M538.1 1471.0h0M538.0 1470.3h0M538.1 1469.9h0M538.5 1469.3h0M539.6 1471.5h0M540.3 1471.4h0M539.8 1471.7h0M542.0 1470.4h0M542.4 1471.1h0M543.4 1471.3h0M543.5 1470.9h0M544.4 1471.6h0M545.5 1470.6h0M545.5 1469.8h0M547.0 1471.8h0M547.1 1469.4h0M548.0 1470.9h0M548.9 1470.0h0M549.8 1471.1h0M550.3 1469.6h0M552.0 1470.1h0M552.5 1469.6h0M553.8 1471.0h0M553.9 1469.7h0M555.0 1469.1h0M556.0 1469.3h0M555.7 1470.0h0M556.9 1470.0h0M556.8 1469.2h0M558.5 1471.4h0M558.1 1468.5h0M559.4 1469.8h0M558.5 1469.5h0M560.2 1469.6h0M561.4 1469.8h0M562.1 1468.8h0M562.9 1469.2h0M563.5 1469.5h0M564.5 1469.0h0M565.2 1470.2h0M565.9 1469.0h0M566.1 1470.9h0M566.9 1468.8h0M569.2 1471.1h0M570.3 1469.5h0M571.0 1471.4h0M571.3 1469.9h0M572.4 1469.8h0M573.2 1470.2h0M574.1 1466.9h0M574.8 1468.7h0M575.4 1469.0h0M575.7 1468.5h0M577.3 1470.1h0M577.0 1471.8h0M578.8 1467.4h0M578.3 1468.8h0M579.4 1469.6h0M580.0 1468.9h0M580.8 1470.1h0M581.6 1469.2h0M582.2 1470.0h0M583.2 1470.7h0M584.1 1469.5h0M584.9 1469.9h0M584.7 1469.1h0M586.0 1468.5h0M585.8 1469.7h0M587.1 1469.3h0M587.4 1469.0h0M588.5 1468.8h0M588.8 1468.6h0M589.6 1469.5h0M589.4 1469.2h0M592.3 1468.1h0M592.7 1469.0h0M592.4 1470.1h0M593.2 1469.9h0M593.0 1469.0h0M595.2 1469.4h0M595.9 1468.8h0M597.2 1470.7h0M596.9 1469.6h0M598.3 1468.8h0M598.6 1469.9h0M598.5 1468.7h0M600.4 1468.7h0M600.0 1467.8h0M601.5 1468.3h0M602.4 1468.4h0M603.0 1468.5h0M603.8 1468.3h0M604.1 1469.1h0M604.2 1468.4h0M606.4 1470.4h0M608.3 1468.7h0M607.6 1468.1h0M608.8 1469.6h0M609.2 1469.1h0M609.8 1469.1h0M610.6 1468.8h0M612.2 1470.3h0M612.3 1468.6h0M612.9 1470.0h0M614.0 1469.2h0M613.4 1469.8h0M614.4 1469.3h0M615.0 1470.8h0M617.1 1468.9h0M618.5 1469.5h0M619.4 1469.0h0M619.6 1469.3h0M621.2 1468.5h0M622.1 1468.9h0M623.3 1468.4h0M622.4 1468.6h0M623.1 1469.6h0M624.8 1469.7h0M625.2 1469.6h0M625.6 1469.3h0M627.0 1468.7h0M628.6 1469.5h0M628.4 1468.6h0M628.9 1468.3h0M630.7 1470.2h0M630.3 1469.6h0M631.6 1469.4h0M632.0 1470.8h0M633.3 1469.3h0M633.8 1470.6h0M634.7 1468.7h0M634.5 1468.3h0M636.0 1468.5h0M636.8 1470.1h0M636.5 1470.0h0M638.3 1469.4h0M638.3 1468.3h0M638.3 1468.9h0M639.9 1470.0h0M640.2 1469.8h0M640.3 1468.8h0M642.1 1469.6h0M642.1 1471.4h0M643.0 1469.4h0M643.6 1468.4h0M645.1 1469.5h0M646.8 1469.9h0M646.6 1470.8h0M647.3 1469.7h0M647.6 1468.7h0M648.2 1469.4h0M649.0 1470.5h0M648.9 1469.1h0M650.2 1470.5h0M651.3 1468.6h0M651.0 1469.7h0M652.2 1469.6h0M653.8 1468.9h0M652.6 1469.8h0M654.5 1470.4h0M656.0 1469.4h0M656.6 1469.3h0M656.9 1470.1h0M657.6 1470.5h0M657.6 1470.6h0M659.2 1469.6h0M659.9 1469.4h0M661.0 1470.5h0M661.5 1470.5h0M662.8 1471.3h0M662.8 1469.9h0M664.4 1470.1h0M665.4 1469.7h0M664.8 1469.4h0M666.3 1472.2h0M666.4 1470.2h0M668.6 1469.5h0M668.5 1469.9h0M669.6 1470.0h0M669.9 1469.3h0M670.5 1468.7h0M672.2 1469.3h0M673.0 1469.4h0M673.9 1470.2h0M674.4 1470.2h0M674.2 1468.1h0M676.1 1468.9h0M675.2 1469.1h0M676.9 1471.2h0M678.0 1470.4h0M678.8 1469.6h0M678.1 1469.7h0M680.1 1469.8h0M680.0 1468.7h0M682.6 1470.9h0M681.3 1470.6h0M683.6 1470.2h0M684.6 1470.1h0M684.7 1469.9h0M685.2 1469.8h0M687.7 1469.0h0M686.5 1470.7h0M687.0 1469.3h0M688.3 1470.2h0M688.9 1469.9h0M689.2 1469.9h0M690.2 1470.6h0M691.0 1470.1h0M692.1 1469.5h0M693.6 1470.9h0M694.0 1471.4h0M694.6 1470.5h0M696.1 1470.6h0M696.7 1470.2h0M698.0 1471.7h0M699.1 1470.8h0M699.4 1469.8h0M700.0 1471.4h0M701.3 1472.1h0M701.7 1470.8h0M703.2 1469.7h0M703.1 1469.2h0M703.9 1469.8h0M704.7 1472.4h0M705.0 1470.0h0M706.3 1469.6h0M706.3 1470.6h0M706.5 1471.2h0M707.0 1470.5h0M709.1 1470.5h0M708.8 1470.9h0M710.8 1471.8h0M710.3 1471.1h0M710.6 1470.4h0M711.4 1470.5h0M712.2 1471.0h0M713.3 1470.0h0M713.5 1471.0h0M714.0 1472.0h0M715.9 1470.7h0M714.5 1470.6h0M716.4 1471.2h0M717.5 1470.2h0M718.4 1472.1h0M719.8 1471.8h0M719.5 1471.7h0M719.3 1471.2h0M721.9 1471.2h0M721.2 1471.4h0M722.2 1470.2h0M723.9 1470.7h0M723.8 1470.9h0M724.9 1472.0h0M725.9 1472.7h0M726.0 1471.1h0M727.9 1471.4h0M727.9 1471.4h0M728.6 1470.8h0M729.1 1470.8h0M730.7 1471.4h0M731.4 1472.2h0M731.8 1470.3h0M732.4 1472.0h0M732.6 1470.4h0M734.8 1472.0h0M734.1 1471.2h0M734.9 1470.5h0M736.3 1470.3h0M736.8 1471.2h0M737.5 1472.2h0M740.2 1470.9h0M740.1 1471.6h0M740.7 1470.7h0M742.3 1470.6h0M742.1 1471.0h0M742.4 1470.5h0M742.9 1471.4h0M745.2 1469.9h0M746.4 1472.4h0M745.5 1470.7h0M747.0 1470.6h0M747.2 1471.9h0M749.3 1470.7h0M749.4 1471.9h0M750.8 1470.2h0M751.0 1470.3h0M751.2 1470.3h0M752.3 1472.2h0M753.3 1469.4h0M753.9 1470.9h0M753.8 1472.2h0M755.8 1470.2h0M755.7 1471.6h0M756.1 1471.2h0M757.0 1471.1h0M758.2 1470.7h0M759.3 1470.3h0M759.1 1469.9h0M762.1 1470.6h0M761.3 1470.9h0M761.3 1470.1h0M762.8 1471.1h0M763.0 1470.8h0M763.5 1470.4h0M763.8 1469.9h0M765.1 1470.5h0M766.3 1470.1h0M766.5 1471.5h0M768.1 1470.0h0M769.8 1470.3h0M770.4 1468.6h0M771.1 1469.7h0M771.1 1470.8h0M773.1 1469.8h0M773.3 1470.1h0M775.2 1469.1h0M774.2 1468.9h0M775.6 1469.4h0M776.7 1468.2h0M777.6 1468.8h0M778.6 1470.7h0M779.4 1468.8h0M778.8 1468.4h0M781.7 1469.9h0M782.2 1469.0h0M783.4 1468.2h0M783.3 1468.6h0M783.6 1468.4h0M783.0 1468.0h0M785.0 1468.6h0M785.1 1468.4h0M787.0 1467.9h0M786.4 1468.0h0M788.0 1469.3h0M789.0 1469.4h0M789.2 1468.2h0M789.3 1466.2h0M791.9 1468.0h0M790.4 1466.8h0M791.6 1467.4h0M792.3 1466.5h0M794.2 1469.1h0M795.0 1467.5h0M795.2 1468.6h0M795.4 1465.7h0M796.5 1468.7h0M798.0 1467.5h0M798.9 1468.0h0M798.5 1467.0h0M799.6 1466.8h0M801.8 1465.3h0M802.1 1466.7h0M802.3 1465.2h0M803.1 1466.4h0M804.0 1465.5h0M804.3 1466.3h0M805.3 1468.3h0M806.1 1467.0h0M806.7 1466.8h0M807.4 1466.7h0M808.1 1466.2h0M808.8 1465.6h0M809.2 1466.9h0M809.2 1466.3h0M810.5 1465.1h0M812.0 1467.1h0M812.0 1467.3h0M813.3 1465.8h0M813.1 1466.5h0M814.9 1465.6h0M816.1 1466.3h0M815.3 1465.1h0M817.0 1464.9h0M816.7 1466.3h0M817.8 1466.5h0M818.1 1465.7h0M819.3 1465.9h0M820.4 1466.0h0M820.4 1465.6h0M822.0 1467.7h0M822.2 1466.1h0M822.6 1464.8h0M824.9 1464.8h0M825.0 1464.9h0M825.2 1465.1h0M826.3 1464.0h0M826.5 1464.8h0M826.9 1464.0h0M829.1 1464.1h0M828.9 1465.5h0M830.4 1464.7h0M830.3 1464.2h0M832.6 1464.9h0M832.7 1464.6h0M834.0 1465.1h0M834.7 1464.7h0M835.7 1463.0h0M836.6 1463.9h0M836.8 1462.6h0M837.0 1464.8h0M839.9 1463.7h0M839.2 1463.2h0M841.0 1463.5h0M841.7 1462.5h0M842.2 1463.4h0M843.0 1464.4h0M844.1 1462.8h0M844.8 1463.2h0M845.5 1462.9h0M846.2 1463.5h0M847.4 1463.8h0M847.6 1461.2h0M847.8 1462.7h0M849.9 1461.9h0M849.7 1462.0h0M851.1 1463.3h0M851.2 1463.9h0M851.9 1462.1h0M852.7 1463.2h0M853.8 1461.4h0M854.5 1462.6h0M855.5 1462.7h0M857.0 1461.6h0M857.3 1462.9h0M858.3 1462.8h0M858.4 1461.9h0M859.7 1461.7h0M859.6 1462.8h0M860.7 1462.7h0M861.6 1462.5h0M862.6 1463.0h0M863.4 1462.2h0M864.4 1462.1h0M864.5 1461.5h0M864.9 1462.2h0M866.0 1462.1h0M866.2 1463.3h0M866.2 1462.6h0M868.3 1461.3h0M868.4 1460.7h0M869.4 1460.7h0M869.6 1461.6h0M870.1 1460.9h0M871.5 1460.9h0M871.8 1461.0h0M872.5 1461.5h0M873.0 1460.6h0M874.1 1460.6h0M876.2 1462.0h0M877.5 1461.4h0M878.0 1461.6h0M877.5 1462.8h0M878.7 1460.9h0M879.8 1461.6h0M881.2 1463.2h0M881.1 1462.9h0M882.6 1462.6h0M883.7 1460.3h0M883.5 1461.1h0M884.0 1461.7h0M885.6 1460.7h0M886.6 1460.7h0M887.4 1462.7h0M887.5 1460.1h0M888.3 1460.8h0M890.0 1461.0h0M891.5 1463.6h0M892.0 1461.5h0M891.9 1461.0h0M893.0 1460.8h0M893.6 1461.1h0M893.6 1462.6h0M893.8 1461.4h0M896.5 1462.0h0M896.6 1460.9h0M897.6 1462.6h0M899.0 1463.2h0M899.0 1461.7h0M899.0 1461.1h0M900.3 1460.5h0M901.6 1462.0h0M901.8 1461.1h0M902.3 1462.9h0M904.6 1462.0h0M904.3 1460.6h0M905.2 1460.8h0M906.1 1460.7h0M905.7 1462.1h0M907.2 1462.9h0M908.0 1461.8h0M908.7 1461.0h0M909.9 1462.5h0M910.1 1461.4h0M910.6 1461.8h0M911.6 1460.5h0M912.1 1461.6h0M912.1 1461.9h0M913.3 1460.5h0M914.8 1462.2h0M915.0 1462.1h0M915.1 1462.1h0M916.2 1458.6h0M151.7 1140.4h0M140.6 1147.6h0M146.7 1133.7h0M146.3 1135.6h0M147.1 1145.8h0M143.9 1143.6h0M146.7 1149.3h0M151.7 1134.7h0M143.5 1145.7h0M151.0 1148.6h0M143.7 1141.8h0M149.9 1139.4h0M141.6 1142.8h0M148.3 1146.3h0M140.2 1144.5h0M152.7 1140.2h0M151.9 1139.4h0M145.7 1142.5h0M145.2 1141.8h0M141.0 1141.6h0M148.7 1148.4h0M147.7 1147.7h0M144.3 1143.8h0M145.2 1140.2h0M142.1 1137.7h0M249.9 884.6h0M249.8 891.3h0M250.0 896.9h0M248.2 901.9h0M248.8 906.8h0M250.2 909.6h0M248.8 918.3h0M249.6 923.5h0M250.5 926.3h0M248.1 933.8h0M250.3 939.7h0M249.3 945.6h0M248.6 951.4h0M250.1 957.2h0" stroke="#ff7f0e" stroke-width="7.8" stroke-linecap="round" fill="none"/>
</g>
<rect x="102.9" y="852.1" width="850.4" height="651.2" fill="none" stroke="#000" stroke-width="1.8"/>
<line x1="95.3" y1="1473.8" x2="102.9" y2="1473.8" stroke="#000" stroke-width="1.8"/>
<text font-size="31" transform="matrix(1.1063 0.0000 0.0000 1.0695 39.4692 1485.6705)">0.0</text>
<line x1="95.3" y1="1356.62" x2="102.9" y2="1356.62" stroke="#000" stroke-width="1.8"/>
<text font-size="31" transform="matrix(1.0807 0.0000 0.0000 1.0695 39.4947 1368.4905)">0.2</text>
<line x1="95.3" y1="1239.44" x2="102.9" y2="1239.44" stroke="#000" stroke-width="1.8"/>
<text font-size="31" transform="matrix(1.1141 0.0000 0.0000 1.0695 39.4614 1251.3105)">0.4</text>
<line x1="95.3" y1="1122.26" x2="102.9" y2="1122.26" stroke="#000" stroke-width="1.8"/>
<text font-size="31" transform="matrix(1.1089 0.0000 0.0000 1.0695 39.4666 1134.1305)">0.6</text>
<line x1="95.3" y1="1005.08" x2="102.9" y2="1005.08" stroke="#000" stroke-width="1.8"/>
<text font-size="31" transform="matrix(1.1048 0.0000 0.0000 1.0695 39.4707 1016.9505)">0.8</text>
<line x1="95.3" y1="887.9" x2="102.9" y2="887.9" stroke="#000" stroke-width="1.8"/>
<text font-size="31" transform="matrix(1.0998 0.0000 0.0000 1.0695 39.7430 899.7705)">1.0</text>
<line x1="116.92" y1="1503.3" x2="116.92" y2="1510.9" stroke="#000" stroke-width="1.8"/>
<text font-size="31" transform="matrix(1.1919 0.0000 0.0000 1.0495 80.0615 1542.1000)">−1.2</text>
<line x1="250.2" y1="1503.3" x2="250.2" y2="1510.9" stroke="#000" stroke-width="1.8"/>
<text font-size="31" transform="matrix(1.2100 0.0000 0.0000 1.0695 213.3053 1542.5405)">−1.0</text>
<line x1="383.48" y1="1503.3" x2="383.48" y2="1510.9" stroke="#000" stroke-width="1.8"/>
<text font-size="31" transform="matrix(1.2089 0.0000 0.0000 1.0695 346.5874 1542.5405)">−0.8</text>
<line x1="516.76" y1="1503.3" x2="516.76" y2="1510.9" stroke="#000" stroke-width="1.8"/>
<text font-size="31" transform="matrix(1.2118 0.0000 0.0000 1.0695 479.8617 1542.5405)">−0.6</text>
<line x1="650.04" y1="1503.3" x2="650.04" y2="1510.9" stroke="#000" stroke-width="1.8"/>
<text font-size="31" transform="matrix(1.2155 0.0000 0.0000 1.0695 613.1343 1542.5405)">−0.4</text>
<line x1="783.32" y1="1503.3" x2="783.32" y2="1510.9" stroke="#000" stroke-width="1.8"/>
<text font-size="31" transform="matrix(1.1919 0.0000 0.0000 1.0695 746.4615 1542.5405)">−0.2</text>
<line x1="916.6" y1="1503.3" x2="916.6" y2="1510.9" stroke="#000" stroke-width="1.8"/>
<text font-size="31" transform="matrix(1.1063 0.0000 0.0000 1.0695 892.8068 1542.5405)">0.0</text>
<text font-size="31" font-style="italic" transform="matrix(0.0000 -1.0770 1.1435 0.0000 25.8000 1218.0770)">dI/dV</text>
<text font-size="31" transform="matrix(1.0892 0.0000 0.0000 1.0000 439.9108 1580.0000)"><tspan font-style="italic">eV</tspan>/(Δ + Δ<tspan font-size="22" dy="6" font-style="italic">Al</tspan><tspan dy="-6">)</tspan></text>
<text font-size="36" font-weight="bold" style="stroke:#000;stroke-width:1.1px" transform="matrix(1.0737 0.0000 0.0000 0.9379 4.2526 826.8621)">b</text>
<rect x="459.5" y="921.2" width="439.3" height="431" fill="#fff"/>
<path d="M479.4 940.9 479.9 940.9 480.4 940.9 480.9 940.9 481.4 940.9 481.9 940.9 482.4 941.0 482.9 941.0 483.4 941.0 483.9 941.0 484.4 941.1 484.9 941.1 485.4 941.1 485.9 941.1 486.4 941.2 486.9 941.2 487.4 941.3 487.9 941.3 488.4 941.3 488.9 941.4 489.4 941.4 489.9 941.5 490.4 941.5 490.9 941.6 491.4 941.6 491.9 941.7 492.4 941.7 492.9 941.8 493.4 941.9 493.9 942.0 494.4 942.0 494.9 942.1 495.4 942.2 495.9 942.3 496.4 942.4 496.9 942.5 497.4 942.6 497.9 942.7 498.4 942.8 498.9 942.9 499.4 943.0 499.9 943.2 500.4 943.3 500.9 943.4 501.4 943.6 501.9 943.7 502.4 943.8 502.9 944.0 503.4 944.1 503.9 944.3 504.4 944.4 504.8 944.6 505.3 944.8 505.8 944.9 506.3 945.1 506.8 945.3 507.3 945.4 507.8 945.6 508.3 945.8 508.8 946.0 509.3 946.2 509.8 946.3 510.3 946.5 510.8 946.7 511.3 946.9 511.8 947.2 512.3 947.4 512.8 947.6 513.3 947.8 513.8 948.0 514.3 948.3 514.8 948.5 515.3 948.8 515.8 949.0 516.3 949.3 516.8 949.5 517.3 949.8 517.8 950.0 518.3 950.3 518.8 950.6 519.3 950.9 519.8 951.2 520.3 951.5 520.8 951.8 521.3 952.1 521.8 952.4 522.3 952.7 522.8 953.0 523.3 953.3 523.8 953.7 524.3 954.0 524.8 954.3 525.3 954.7 525.8 955.1 526.3 955.4 526.8 955.8 527.3 956.2 527.8 956.6 528.3 957.0 528.8 957.4 529.3 957.8 529.8 958.3 530.3 958.7 530.8 959.1 531.3 959.6 531.8 960.0 532.3 960.5 532.8 961.0 533.3 961.5 533.8 961.9 534.3 962.4 534.8 962.9 535.3 963.4 535.8 964.0 536.3 964.5 536.8 965.0 537.3 965.6 537.8 966.2 538.3 966.8 538.8 967.4 539.3 968.0 539.8 968.7 540.3 969.3 540.8 970.0 541.3 970.8 541.8 971.5 542.3 972.3 542.8 973.1 543.3 974.0 543.8 974.9 544.3 975.8 544.8 976.8 545.3 977.8 545.8 978.8 546.3 979.9 546.8 981.0 547.3 982.2 547.8 983.4 548.3 984.7 548.8 985.9 549.3 987.3 549.8 988.6 550.3 990.0 550.8 991.4 551.3 992.9 551.8 994.4 552.3 996.0 552.8 997.6 553.3 999.2 553.8 1000.9 554.2 1002.6 554.7 1004.4 555.2 1006.2 555.7 1008.1 556.2 1010.0 556.7 1012.0 557.2 1014.1 557.7 1016.2 558.2 1018.3 558.7 1020.5 559.2 1022.8 559.7 1025.1 560.2 1027.5 560.7 1030.0 561.2 1032.6 561.7 1035.2 562.2 1037.9 562.7 1040.7 563.2 1043.6 563.7 1046.5 564.2 1049.6 564.7 1052.7 565.2 1055.9 565.7 1059.2 566.2 1062.6 566.7 1066.0 567.2 1069.6 567.7 1073.2 568.2 1076.9 568.7 1080.6 569.2 1084.5 569.7 1088.3 570.2 1092.3 570.7 1096.2 571.2 1100.3 571.7 1104.3 572.2 1108.4 572.7 1112.5 573.2 1116.6 573.7 1120.8 574.2 1125.0 574.7 1129.2 575.2 1133.4 575.7 1137.6 576.2 1141.8 576.7 1146.0 577.2 1150.2 577.7 1154.4 578.2 1158.5 578.7 1162.7 579.2 1166.8 579.7 1170.9 580.2 1175.0 580.7 1179.1 581.2 1183.1 581.7 1187.0 582.2 1190.9 582.7 1194.8 583.2 1198.6 583.7 1202.4 584.2 1206.1 584.7 1209.7 585.2 1213.3 585.7 1216.8 586.2 1220.2 586.7 1223.6 587.2 1226.9 587.7 1230.1 588.2 1233.3 588.7 1236.4 589.2 1239.5 589.7 1242.5 590.2 1245.4 590.7 1248.2 591.2 1251.0 591.7 1253.7 592.2 1256.4 592.7 1259.0 593.2 1261.5 593.7 1264.0 594.2 1266.4 594.7 1268.7 595.2 1271.0 595.7 1273.2 596.2 1275.4 596.7 1277.5 597.2 1279.5 597.7 1281.4 598.2 1283.3 598.7 1285.1 599.2 1286.9 599.7 1288.6 600.2 1290.2 600.7 1291.8 601.2 1293.4 601.7 1294.8 602.2 1296.3 602.7 1297.6 603.2 1299.0 603.7 1300.3 604.1 1301.5 604.6 1302.7 605.1 1303.9 605.6 1305.0 606.1 1306.1 606.6 1307.2 607.1 1308.2 607.6 1309.2 608.1 1310.1 608.6 1311.0 609.1 1311.9 609.6 1312.7 610.1 1313.5 610.6 1314.3 611.1 1315.0 611.6 1315.7 612.1 1316.4 612.6 1317.1 613.1 1317.7 613.6 1318.3 614.1 1318.9 614.6 1319.4 615.1 1320.0 615.6 1320.5 616.1 1321.0 616.6 1321.5 617.1 1321.9 617.6 1322.4 618.1 1322.8 618.6 1323.2 619.1 1323.6 619.6 1324.0 620.1 1324.3 620.6 1324.7 621.1 1325.0 621.6 1325.4 622.1 1325.7 622.6 1326.0 623.1 1326.3 623.6 1326.5 624.1 1326.8 624.6 1327.1 625.1 1327.3 625.6 1327.6 626.1 1327.8 626.6 1328.0 627.1 1328.2 627.6 1328.5 628.1 1328.7 628.6 1328.9 629.1 1329.1 629.6 1329.3 630.1 1329.4 630.6 1329.6 631.1 1329.8 631.6 1330.0 632.1 1330.1 632.6 1330.3 633.1 1330.4 633.6 1330.6 634.1 1330.7 634.6 1330.8 635.1 1331.0 635.6 1331.1 636.1 1331.2 636.6 1331.3 637.1 1331.4 637.6 1331.5 638.1 1331.6 638.6 1331.7 639.1 1331.7 639.6 1331.8 640.1 1331.9 640.6 1331.9 641.1 1332.0 641.6 1332.1 642.1 1332.1 642.6 1332.1 643.1 1332.2 643.6 1332.2 644.1 1332.3 644.6 1332.3 645.1 1332.3 645.6 1332.4 646.1 1332.4 646.6 1332.4 647.1 1332.5 647.6 1332.5 648.1 1332.5 648.6 1332.5 649.1 1332.6 649.6 1332.6 650.1 1332.6 650.6 1332.6 651.1 1332.7 651.6 1332.7 652.1 1332.7 652.6 1332.7 653.1 1332.7 653.6 1332.8 654.0 1332.8 654.5 1332.8 655.0 1332.8 655.5 1332.8 656.0 1332.8 656.5 1332.8 657.0 1332.8 657.5 1332.9 658.0 1332.9 658.5 1332.9 659.0 1332.9 659.5 1332.9 660.0 1332.9 660.5 1332.9 661.0 1332.9 661.5 1332.9 662.0 1332.9 662.5 1332.9 663.0 1332.9 663.5 1332.9 664.0 1332.9 664.5 1332.9 665.0 1332.9 665.5 1332.9 666.0 1332.9 666.5 1333.0 667.0 1333.0 667.5 1333.0 668.0 1333.0 668.5 1333.0 669.0 1333.0 669.5 1333.0 670.0 1333.0 670.5 1333.0 671.0 1333.0 671.5 1333.0 672.0 1333.0 672.5 1333.0 673.0 1333.0 673.5 1333.0 674.0 1333.0 674.5 1333.0 675.0 1333.0 675.5 1333.0 676.0 1333.0 676.5 1333.0 677.0 1333.0 677.5 1333.0 678.0 1333.0 678.5 1333.0 679.0 1333.0 679.5 1333.0 680.0 1333.0 680.5 1333.0 681.0 1333.0 681.5 1333.0 682.0 1333.0 682.5 1333.0 683.0 1333.0 683.5 1333.0 684.0 1333.0 684.5 1333.0 685.0 1333.0 685.5 1333.0 686.0 1333.0 686.5 1333.0 687.0 1333.0 687.5 1333.0 688.0 1333.0 688.5 1333.0 689.0 1333.0 689.5 1333.0 690.0 1333.0 690.5 1333.0 691.0 1333.0 691.5 1333.0 692.0 1332.9 692.5 1332.9 693.0 1332.9 693.5 1332.9 694.0 1332.9 694.5 1332.9 695.0 1332.9 695.5 1332.9 696.0 1332.9 696.5 1332.9 697.0 1332.9 697.5 1332.9 698.0 1332.9 698.5 1332.9 699.0 1332.9 699.5 1332.9 700.0 1332.9 700.5 1332.9 701.0 1332.8 701.5 1332.8 702.0 1332.8 702.5 1332.8 703.0 1332.8 703.5 1332.8 704.0 1332.8 704.4 1332.8 704.9 1332.7 705.4 1332.7 705.9 1332.7 706.4 1332.7 706.9 1332.7 707.4 1332.6 707.9 1332.6 708.4 1332.6 708.9 1332.6 709.4 1332.5 709.9 1332.5 710.4 1332.5 710.9 1332.5 711.4 1332.4 711.9 1332.4 712.4 1332.4 712.9 1332.3 713.4 1332.3 713.9 1332.3 714.4 1332.2 714.9 1332.2 715.4 1332.1 715.9 1332.1 716.4 1332.1 716.9 1332.0 717.4 1331.9 717.9 1331.9 718.4 1331.8 718.9 1331.7 719.4 1331.7 719.9 1331.6 720.4 1331.5 720.9 1331.4 721.4 1331.3 721.9 1331.2 722.4 1331.1 722.9 1331.0 723.4 1330.8 723.9 1330.7 724.4 1330.6 724.9 1330.4 725.4 1330.3 725.9 1330.1 726.4 1330.0 726.9 1329.8 727.4 1329.6 727.9 1329.4 728.4 1329.3 728.9 1329.1 729.4 1328.9 729.9 1328.7 730.4 1328.5 730.9 1328.2 731.4 1328.0 731.9 1327.8 732.4 1327.6 732.9 1327.3 733.4 1327.1 733.9 1326.8 734.4 1326.5 734.9 1326.3 735.4 1326.0 735.9 1325.7 736.4 1325.4 736.9 1325.0 737.4 1324.7 737.9 1324.3 738.4 1324.0 738.9 1323.6 739.4 1323.2 739.9 1322.8 740.4 1322.4 740.9 1321.9 741.4 1321.5 741.9 1321.0 742.4 1320.5 742.9 1320.0 743.4 1319.4 743.9 1318.9 744.4 1318.3 744.9 1317.7 745.4 1317.1 745.9 1316.4 746.4 1315.7 746.9 1315.0 747.4 1314.3 747.9 1313.5 748.4 1312.7 748.9 1311.9 749.4 1311.0 749.9 1310.1 750.4 1309.2 750.9 1308.2 751.4 1307.2 751.9 1306.1 752.4 1305.0 752.9 1303.9 753.4 1302.7 753.9 1301.5 754.3 1300.3 754.8 1299.0 755.3 1297.6 755.8 1296.3 756.3 1294.8 756.8 1293.4 757.3 1291.8 757.8 1290.2 758.3 1288.6 758.8 1286.9 759.3 1285.1 759.8 1283.3 760.3 1281.4 760.8 1279.5 761.3 1277.5 761.8 1275.4 762.3 1273.2 762.8 1271.0 763.3 1268.7 763.8 1266.4 764.3 1264.0 764.8 1261.5 765.3 1259.0 765.8 1256.4 766.3 1253.7 766.8 1251.0 767.3 1248.2 767.8 1245.4 768.3 1242.5 768.8 1239.5 769.3 1236.4 769.8 1233.3 770.3 1230.1 770.8 1226.9 771.3 1223.6 771.8 1220.2 772.3 1216.8 772.8 1213.3 773.3 1209.7 773.8 1206.1 774.3 1202.4 774.8 1198.6 775.3 1194.8 775.8 1190.9 776.3 1187.0 776.8 1183.1 777.3 1179.1 777.8 1175.0 778.3 1170.9 778.8 1166.8 779.3 1162.7 779.8 1158.5 780.3 1154.4 780.8 1150.2 781.3 1146.0 781.8 1141.8 782.3 1137.6 782.8 1133.4 783.3 1129.2 783.8 1125.0 784.3 1120.8 784.8 1116.6 785.3 1112.5 785.8 1108.4 786.3 1104.3 786.8 1100.3 787.3 1096.2 787.8 1092.3 788.3 1088.3 788.8 1084.5 789.3 1080.6 789.8 1076.9 790.3 1073.2 790.8 1069.6 791.3 1066.0 791.8 1062.6 792.3 1059.2 792.8 1055.9 793.3 1052.7 793.8 1049.6 794.3 1046.5 794.8 1043.6 795.3 1040.7 795.8 1037.9 796.3 1035.2 796.8 1032.6 797.3 1030.0 797.8 1027.5 798.3 1025.1 798.8 1022.8 799.3 1020.5 799.8 1018.3 800.3 1016.2 800.8 1014.1 801.3 1012.0 801.8 1010.0 802.3 1008.1 802.8 1006.2 803.3 1004.4 803.8 1002.6 804.2 1000.9 804.7 999.2 805.2 997.6 805.7 996.0 806.2 994.4 806.7 992.9 807.2 991.4 807.7 990.0 808.2 988.6 808.7 987.3 809.2 985.9 809.7 984.7 810.2 983.4 810.7 982.2 811.2 981.0 811.7 979.9 812.2 978.8 812.7 977.8 813.2 976.8 813.7 975.8 814.2 974.9 814.7 974.0 815.2 973.1 815.7 972.3 816.2 971.5 816.7 970.8 817.2 970.0 817.7 969.3 818.2 968.7 818.7 968.0 819.2 967.4 819.7 966.8 820.2 966.2 820.7 965.6 821.2 965.0 821.7 964.5 822.2 964.0 822.7 963.4 823.2 962.9 823.7 962.4 824.2 961.9 824.7 961.5 825.2 961.0 825.7 960.5 826.2 960.0 826.7 959.6 827.2 959.1 827.7 958.7 828.2 958.3 828.7 957.8 829.2 957.4 829.7 957.0 830.2 956.6 830.7 956.2 831.2 955.8 831.7 955.4 832.2 955.1 832.7 954.7 833.2 954.3 833.7 954.0 834.2 953.7 834.7 953.3 835.2 953.0 835.7 952.7 836.2 952.4 836.7 952.1 837.2 951.8 837.7 951.5 838.2 951.2 838.7 950.9 839.2 950.6 839.7 950.3 840.2 950.0 840.7 949.8 841.2 949.5 841.7 949.3 842.2 949.0 842.7 948.8 843.2 948.5 843.7 948.3 844.2 948.0 844.7 947.8 845.2 947.6 845.7 947.4 846.2 947.2 846.7 946.9 847.2 946.7 847.7 946.5 848.2 946.3 848.7 946.2 849.2 946.0 849.7 945.8 850.2 945.6 850.7 945.4 851.2 945.3 851.7 945.1 852.2 944.9 852.7 944.8 853.2 944.6 853.6 944.4 854.1 944.3 854.6 944.1 855.1 944.0 855.6 943.8 856.1 943.7 856.6 943.6 857.1 943.4 857.6 943.3 858.1 943.2 858.6 943.0 859.1 942.9 859.6 942.8 860.1 942.7 860.6 942.6 861.1 942.5 861.6 942.4 862.1 942.3 862.6 942.2 863.1 942.1 863.6 942.0 864.1 942.0 864.6 941.9 865.1 941.8 865.6 941.7 866.1 941.7 866.6 941.6 867.1 941.6 867.6 941.5 868.1 941.5 868.6 941.4 869.1 941.4 869.6 941.3 870.1 941.3 870.6 941.3 871.1 941.2 871.6 941.2 872.1 941.1 872.6 941.1 873.1 941.1 873.6 941.1 874.1 941.0 874.6 941.0 875.1 941.0 875.6 941.0 876.1 940.9 876.6 940.9 877.1 940.9 877.6 940.9 878.1 940.9 878.6 940.9" fill="none" stroke="#1f77b4" stroke-width="3" stroke-linejoin="round"/>
<rect x="459.5" y="921.2" width="439.3" height="431" fill="none" stroke="#000" stroke-width="1.8"/>
<line x1="451.9" y1="1333" x2="459.5" y2="1333" stroke="#000" stroke-width="1.8"/>
<text font-size="31" transform="matrix(1.1063 0.0000 0.0000 1.0695 396.3692 1345.0205)">0.0</text>
<line x1="451.9" y1="1261.37" x2="459.5" y2="1261.37" stroke="#000" stroke-width="1.8"/>
<text font-size="31" transform="matrix(1.0807 0.0000 0.0000 1.0695 396.3947 1273.3905)">0.2</text>
<line x1="451.9" y1="1189.74" x2="459.5" y2="1189.74" stroke="#000" stroke-width="1.8"/>
<text font-size="31" transform="matrix(1.1141 0.0000 0.0000 1.0695 396.3614 1201.7605)">0.4</text>
<line x1="451.9" y1="1118.11" x2="459.5" y2="1118.11" stroke="#000" stroke-width="1.8"/>
<text font-size="31" transform="matrix(1.1089 0.0000 0.0000 1.0695 396.3666 1130.1305)">0.6</text>
<line x1="451.9" y1="1046.48" x2="459.5" y2="1046.48" stroke="#000" stroke-width="1.8"/>
<text font-size="31" transform="matrix(1.1048 0.0000 0.0000 1.0695 396.3707 1058.5005)">0.8</text>
<line x1="451.9" y1="974.85" x2="459.5" y2="974.85" stroke="#000" stroke-width="1.8"/>
<text font-size="31" transform="matrix(1.0998 0.0000 0.0000 1.0695 396.6430 986.8705)">1.0</text>
<line x1="479.4" y1="1352.2" x2="479.4" y2="1359.8" stroke="#000" stroke-width="1.8"/>
<text font-size="31" transform="matrix(1.2328 0.0000 0.0000 1.0495 457.3008 1391.0000)">−2</text>
<line x1="679" y1="1352.2" x2="679" y2="1359.8" stroke="#000" stroke-width="1.8"/>
<text font-size="31" transform="matrix(1.0451 0.0000 0.0000 1.0695 670.1090 1391.4405)">0</text>
<line x1="878.6" y1="1352.2" x2="878.6" y2="1359.8" stroke="#000" stroke-width="1.8"/>
<text font-size="31" transform="matrix(1.0286 0.0000 0.0000 1.0495 868.9248 1391.0000)">2</text>
<text font-size="31" transform="matrix(0.0000 -1.0491 0.9333 0.0000 377.5667 1166.8981)"><tspan font-style="italic">ν</tspan>(<tspan font-style="italic">E</tspan>)</text>
<text font-size="31" transform="matrix(1.0417 0.0000 0.0000 1.0783 652.1583 1429.6000)"><tspan font-style="italic">E</tspan>/Δ</text></svg>
</body></html>
